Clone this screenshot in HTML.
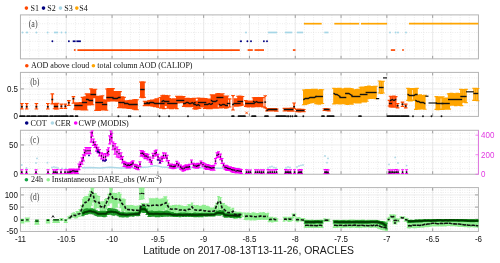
<!DOCTYPE html>
<html><head><meta charset="utf-8"><style>
html,body{margin:0;padding:0;background:#fff;width:500px;height:263px;overflow:hidden}
svg{display:block;will-change:transform}
</style></head><body>
<svg width="500" height="263" viewBox="0 0 500 263">
<rect width="500" height="263" fill="#fff"/>
<line x1="29.61" y1="14.9" x2="29.61" y2="58.85" stroke="#d6d6d6" stroke-width="0.6" stroke-dasharray="0.8 1.6"/>
<line x1="38.77" y1="14.9" x2="38.77" y2="58.85" stroke="#d6d6d6" stroke-width="0.6" stroke-dasharray="0.8 1.6"/>
<line x1="47.93" y1="14.9" x2="47.93" y2="58.85" stroke="#d6d6d6" stroke-width="0.6" stroke-dasharray="0.8 1.6"/>
<line x1="57.09" y1="14.9" x2="57.09" y2="58.85" stroke="#d6d6d6" stroke-width="0.6" stroke-dasharray="0.8 1.6"/>
<line x1="66.25" y1="14.9" x2="66.25" y2="58.85" stroke="#d6d6d6" stroke-width="0.6" stroke-dasharray="0.8 1.6"/>
<line x1="75.41" y1="14.9" x2="75.41" y2="58.85" stroke="#d6d6d6" stroke-width="0.6" stroke-dasharray="0.8 1.6"/>
<line x1="84.57" y1="14.9" x2="84.57" y2="58.85" stroke="#d6d6d6" stroke-width="0.6" stroke-dasharray="0.8 1.6"/>
<line x1="93.73" y1="14.9" x2="93.73" y2="58.85" stroke="#d6d6d6" stroke-width="0.6" stroke-dasharray="0.8 1.6"/>
<line x1="102.89" y1="14.9" x2="102.89" y2="58.85" stroke="#d6d6d6" stroke-width="0.6" stroke-dasharray="0.8 1.6"/>
<line x1="112.05" y1="14.9" x2="112.05" y2="58.85" stroke="#d6d6d6" stroke-width="0.6" stroke-dasharray="0.8 1.6"/>
<line x1="121.21" y1="14.9" x2="121.21" y2="58.85" stroke="#d6d6d6" stroke-width="0.6" stroke-dasharray="0.8 1.6"/>
<line x1="130.37" y1="14.9" x2="130.37" y2="58.85" stroke="#d6d6d6" stroke-width="0.6" stroke-dasharray="0.8 1.6"/>
<line x1="139.53" y1="14.9" x2="139.53" y2="58.85" stroke="#d6d6d6" stroke-width="0.6" stroke-dasharray="0.8 1.6"/>
<line x1="148.69" y1="14.9" x2="148.69" y2="58.85" stroke="#d6d6d6" stroke-width="0.6" stroke-dasharray="0.8 1.6"/>
<line x1="157.85" y1="14.9" x2="157.85" y2="58.85" stroke="#d6d6d6" stroke-width="0.6" stroke-dasharray="0.8 1.6"/>
<line x1="167.01" y1="14.9" x2="167.01" y2="58.85" stroke="#d6d6d6" stroke-width="0.6" stroke-dasharray="0.8 1.6"/>
<line x1="176.17" y1="14.9" x2="176.17" y2="58.85" stroke="#d6d6d6" stroke-width="0.6" stroke-dasharray="0.8 1.6"/>
<line x1="185.33" y1="14.9" x2="185.33" y2="58.85" stroke="#d6d6d6" stroke-width="0.6" stroke-dasharray="0.8 1.6"/>
<line x1="194.49" y1="14.9" x2="194.49" y2="58.85" stroke="#d6d6d6" stroke-width="0.6" stroke-dasharray="0.8 1.6"/>
<line x1="203.65" y1="14.9" x2="203.65" y2="58.85" stroke="#d6d6d6" stroke-width="0.6" stroke-dasharray="0.8 1.6"/>
<line x1="212.81" y1="14.9" x2="212.81" y2="58.85" stroke="#d6d6d6" stroke-width="0.6" stroke-dasharray="0.8 1.6"/>
<line x1="221.97" y1="14.9" x2="221.97" y2="58.85" stroke="#d6d6d6" stroke-width="0.6" stroke-dasharray="0.8 1.6"/>
<line x1="231.13" y1="14.9" x2="231.13" y2="58.85" stroke="#d6d6d6" stroke-width="0.6" stroke-dasharray="0.8 1.6"/>
<line x1="240.29" y1="14.9" x2="240.29" y2="58.85" stroke="#d6d6d6" stroke-width="0.6" stroke-dasharray="0.8 1.6"/>
<line x1="249.45" y1="14.9" x2="249.45" y2="58.85" stroke="#d6d6d6" stroke-width="0.6" stroke-dasharray="0.8 1.6"/>
<line x1="258.61" y1="14.9" x2="258.61" y2="58.85" stroke="#d6d6d6" stroke-width="0.6" stroke-dasharray="0.8 1.6"/>
<line x1="267.77" y1="14.9" x2="267.77" y2="58.85" stroke="#d6d6d6" stroke-width="0.6" stroke-dasharray="0.8 1.6"/>
<line x1="276.93" y1="14.9" x2="276.93" y2="58.85" stroke="#d6d6d6" stroke-width="0.6" stroke-dasharray="0.8 1.6"/>
<line x1="286.09" y1="14.9" x2="286.09" y2="58.85" stroke="#d6d6d6" stroke-width="0.6" stroke-dasharray="0.8 1.6"/>
<line x1="295.25" y1="14.9" x2="295.25" y2="58.85" stroke="#d6d6d6" stroke-width="0.6" stroke-dasharray="0.8 1.6"/>
<line x1="304.41" y1="14.9" x2="304.41" y2="58.85" stroke="#d6d6d6" stroke-width="0.6" stroke-dasharray="0.8 1.6"/>
<line x1="313.57" y1="14.9" x2="313.57" y2="58.85" stroke="#d6d6d6" stroke-width="0.6" stroke-dasharray="0.8 1.6"/>
<line x1="322.73" y1="14.9" x2="322.73" y2="58.85" stroke="#d6d6d6" stroke-width="0.6" stroke-dasharray="0.8 1.6"/>
<line x1="331.89" y1="14.9" x2="331.89" y2="58.85" stroke="#d6d6d6" stroke-width="0.6" stroke-dasharray="0.8 1.6"/>
<line x1="341.05" y1="14.9" x2="341.05" y2="58.85" stroke="#d6d6d6" stroke-width="0.6" stroke-dasharray="0.8 1.6"/>
<line x1="350.21" y1="14.9" x2="350.21" y2="58.85" stroke="#d6d6d6" stroke-width="0.6" stroke-dasharray="0.8 1.6"/>
<line x1="359.37" y1="14.9" x2="359.37" y2="58.85" stroke="#d6d6d6" stroke-width="0.6" stroke-dasharray="0.8 1.6"/>
<line x1="368.53" y1="14.9" x2="368.53" y2="58.85" stroke="#d6d6d6" stroke-width="0.6" stroke-dasharray="0.8 1.6"/>
<line x1="377.69" y1="14.9" x2="377.69" y2="58.85" stroke="#d6d6d6" stroke-width="0.6" stroke-dasharray="0.8 1.6"/>
<line x1="386.85" y1="14.9" x2="386.85" y2="58.85" stroke="#d6d6d6" stroke-width="0.6" stroke-dasharray="0.8 1.6"/>
<line x1="396.01" y1="14.9" x2="396.01" y2="58.85" stroke="#d6d6d6" stroke-width="0.6" stroke-dasharray="0.8 1.6"/>
<line x1="405.17" y1="14.9" x2="405.17" y2="58.85" stroke="#d6d6d6" stroke-width="0.6" stroke-dasharray="0.8 1.6"/>
<line x1="414.33" y1="14.9" x2="414.33" y2="58.85" stroke="#d6d6d6" stroke-width="0.6" stroke-dasharray="0.8 1.6"/>
<line x1="423.49" y1="14.9" x2="423.49" y2="58.85" stroke="#d6d6d6" stroke-width="0.6" stroke-dasharray="0.8 1.6"/>
<line x1="432.65" y1="14.9" x2="432.65" y2="58.85" stroke="#d6d6d6" stroke-width="0.6" stroke-dasharray="0.8 1.6"/>
<line x1="441.81" y1="14.9" x2="441.81" y2="58.85" stroke="#d6d6d6" stroke-width="0.6" stroke-dasharray="0.8 1.6"/>
<line x1="450.97" y1="14.9" x2="450.97" y2="58.85" stroke="#d6d6d6" stroke-width="0.6" stroke-dasharray="0.8 1.6"/>
<line x1="460.13" y1="14.9" x2="460.13" y2="58.85" stroke="#d6d6d6" stroke-width="0.6" stroke-dasharray="0.8 1.6"/>
<line x1="469.29" y1="14.9" x2="469.29" y2="58.85" stroke="#d6d6d6" stroke-width="0.6" stroke-dasharray="0.8 1.6"/>
<line x1="20.45" y1="50.06" x2="478.45" y2="50.06" stroke="#d6d6d6" stroke-width="0.6" stroke-dasharray="0.8 1.6"/>
<line x1="20.45" y1="41.27" x2="478.45" y2="41.27" stroke="#d6d6d6" stroke-width="0.6" stroke-dasharray="0.8 1.6"/>
<line x1="20.45" y1="32.48" x2="478.45" y2="32.48" stroke="#d6d6d6" stroke-width="0.6" stroke-dasharray="0.8 1.6"/>
<line x1="20.45" y1="23.69" x2="478.45" y2="23.69" stroke="#d6d6d6" stroke-width="0.6" stroke-dasharray="0.8 1.6"/>
<line x1="66.25" y1="14.9" x2="66.25" y2="58.85" stroke="#e8e8e8" stroke-width="0.8"/>
<line x1="112.05" y1="14.9" x2="112.05" y2="58.85" stroke="#e8e8e8" stroke-width="0.8"/>
<line x1="157.85" y1="14.9" x2="157.85" y2="58.85" stroke="#e8e8e8" stroke-width="0.8"/>
<line x1="203.65" y1="14.9" x2="203.65" y2="58.85" stroke="#e8e8e8" stroke-width="0.8"/>
<line x1="249.45" y1="14.9" x2="249.45" y2="58.85" stroke="#e8e8e8" stroke-width="0.8"/>
<line x1="295.25" y1="14.9" x2="295.25" y2="58.85" stroke="#e8e8e8" stroke-width="0.8"/>
<line x1="341.05" y1="14.9" x2="341.05" y2="58.85" stroke="#e8e8e8" stroke-width="0.8"/>
<line x1="386.85" y1="14.9" x2="386.85" y2="58.85" stroke="#e8e8e8" stroke-width="0.8"/>
<line x1="432.65" y1="14.9" x2="432.65" y2="58.85" stroke="#e8e8e8" stroke-width="0.8"/>
<line x1="66.25" y1="14.9" x2="66.25" y2="17.9" stroke="#8a8a8a" stroke-width="0.8"/>
<line x1="66.25" y1="55.85" x2="66.25" y2="58.85" stroke="#8a8a8a" stroke-width="0.8"/>
<line x1="112.05" y1="14.9" x2="112.05" y2="17.9" stroke="#8a8a8a" stroke-width="0.8"/>
<line x1="112.05" y1="55.85" x2="112.05" y2="58.85" stroke="#8a8a8a" stroke-width="0.8"/>
<line x1="157.85" y1="14.9" x2="157.85" y2="17.9" stroke="#8a8a8a" stroke-width="0.8"/>
<line x1="157.85" y1="55.85" x2="157.85" y2="58.85" stroke="#8a8a8a" stroke-width="0.8"/>
<line x1="203.65" y1="14.9" x2="203.65" y2="17.9" stroke="#8a8a8a" stroke-width="0.8"/>
<line x1="203.65" y1="55.85" x2="203.65" y2="58.85" stroke="#8a8a8a" stroke-width="0.8"/>
<line x1="249.45" y1="14.9" x2="249.45" y2="17.9" stroke="#8a8a8a" stroke-width="0.8"/>
<line x1="249.45" y1="55.85" x2="249.45" y2="58.85" stroke="#8a8a8a" stroke-width="0.8"/>
<line x1="295.25" y1="14.9" x2="295.25" y2="17.9" stroke="#8a8a8a" stroke-width="0.8"/>
<line x1="295.25" y1="55.85" x2="295.25" y2="58.85" stroke="#8a8a8a" stroke-width="0.8"/>
<line x1="341.05" y1="14.9" x2="341.05" y2="17.9" stroke="#8a8a8a" stroke-width="0.8"/>
<line x1="341.05" y1="55.85" x2="341.05" y2="58.85" stroke="#8a8a8a" stroke-width="0.8"/>
<line x1="386.85" y1="14.9" x2="386.85" y2="17.9" stroke="#8a8a8a" stroke-width="0.8"/>
<line x1="386.85" y1="55.85" x2="386.85" y2="58.85" stroke="#8a8a8a" stroke-width="0.8"/>
<line x1="432.65" y1="14.9" x2="432.65" y2="17.9" stroke="#8a8a8a" stroke-width="0.8"/>
<line x1="432.65" y1="55.85" x2="432.65" y2="58.85" stroke="#8a8a8a" stroke-width="0.8"/>
<rect x="20.45" y="14.9" width="458" height="43.95" fill="none" stroke="#b4b4b4" stroke-width="1"/>
<line x1="29.61" y1="72.4" x2="29.61" y2="116.4" stroke="#d6d6d6" stroke-width="0.6" stroke-dasharray="0.8 1.6"/>
<line x1="38.77" y1="72.4" x2="38.77" y2="116.4" stroke="#d6d6d6" stroke-width="0.6" stroke-dasharray="0.8 1.6"/>
<line x1="47.93" y1="72.4" x2="47.93" y2="116.4" stroke="#d6d6d6" stroke-width="0.6" stroke-dasharray="0.8 1.6"/>
<line x1="57.09" y1="72.4" x2="57.09" y2="116.4" stroke="#d6d6d6" stroke-width="0.6" stroke-dasharray="0.8 1.6"/>
<line x1="66.25" y1="72.4" x2="66.25" y2="116.4" stroke="#d6d6d6" stroke-width="0.6" stroke-dasharray="0.8 1.6"/>
<line x1="75.41" y1="72.4" x2="75.41" y2="116.4" stroke="#d6d6d6" stroke-width="0.6" stroke-dasharray="0.8 1.6"/>
<line x1="84.57" y1="72.4" x2="84.57" y2="116.4" stroke="#d6d6d6" stroke-width="0.6" stroke-dasharray="0.8 1.6"/>
<line x1="93.73" y1="72.4" x2="93.73" y2="116.4" stroke="#d6d6d6" stroke-width="0.6" stroke-dasharray="0.8 1.6"/>
<line x1="102.89" y1="72.4" x2="102.89" y2="116.4" stroke="#d6d6d6" stroke-width="0.6" stroke-dasharray="0.8 1.6"/>
<line x1="112.05" y1="72.4" x2="112.05" y2="116.4" stroke="#d6d6d6" stroke-width="0.6" stroke-dasharray="0.8 1.6"/>
<line x1="121.21" y1="72.4" x2="121.21" y2="116.4" stroke="#d6d6d6" stroke-width="0.6" stroke-dasharray="0.8 1.6"/>
<line x1="130.37" y1="72.4" x2="130.37" y2="116.4" stroke="#d6d6d6" stroke-width="0.6" stroke-dasharray="0.8 1.6"/>
<line x1="139.53" y1="72.4" x2="139.53" y2="116.4" stroke="#d6d6d6" stroke-width="0.6" stroke-dasharray="0.8 1.6"/>
<line x1="148.69" y1="72.4" x2="148.69" y2="116.4" stroke="#d6d6d6" stroke-width="0.6" stroke-dasharray="0.8 1.6"/>
<line x1="157.85" y1="72.4" x2="157.85" y2="116.4" stroke="#d6d6d6" stroke-width="0.6" stroke-dasharray="0.8 1.6"/>
<line x1="167.01" y1="72.4" x2="167.01" y2="116.4" stroke="#d6d6d6" stroke-width="0.6" stroke-dasharray="0.8 1.6"/>
<line x1="176.17" y1="72.4" x2="176.17" y2="116.4" stroke="#d6d6d6" stroke-width="0.6" stroke-dasharray="0.8 1.6"/>
<line x1="185.33" y1="72.4" x2="185.33" y2="116.4" stroke="#d6d6d6" stroke-width="0.6" stroke-dasharray="0.8 1.6"/>
<line x1="194.49" y1="72.4" x2="194.49" y2="116.4" stroke="#d6d6d6" stroke-width="0.6" stroke-dasharray="0.8 1.6"/>
<line x1="203.65" y1="72.4" x2="203.65" y2="116.4" stroke="#d6d6d6" stroke-width="0.6" stroke-dasharray="0.8 1.6"/>
<line x1="212.81" y1="72.4" x2="212.81" y2="116.4" stroke="#d6d6d6" stroke-width="0.6" stroke-dasharray="0.8 1.6"/>
<line x1="221.97" y1="72.4" x2="221.97" y2="116.4" stroke="#d6d6d6" stroke-width="0.6" stroke-dasharray="0.8 1.6"/>
<line x1="231.13" y1="72.4" x2="231.13" y2="116.4" stroke="#d6d6d6" stroke-width="0.6" stroke-dasharray="0.8 1.6"/>
<line x1="240.29" y1="72.4" x2="240.29" y2="116.4" stroke="#d6d6d6" stroke-width="0.6" stroke-dasharray="0.8 1.6"/>
<line x1="249.45" y1="72.4" x2="249.45" y2="116.4" stroke="#d6d6d6" stroke-width="0.6" stroke-dasharray="0.8 1.6"/>
<line x1="258.61" y1="72.4" x2="258.61" y2="116.4" stroke="#d6d6d6" stroke-width="0.6" stroke-dasharray="0.8 1.6"/>
<line x1="267.77" y1="72.4" x2="267.77" y2="116.4" stroke="#d6d6d6" stroke-width="0.6" stroke-dasharray="0.8 1.6"/>
<line x1="276.93" y1="72.4" x2="276.93" y2="116.4" stroke="#d6d6d6" stroke-width="0.6" stroke-dasharray="0.8 1.6"/>
<line x1="286.09" y1="72.4" x2="286.09" y2="116.4" stroke="#d6d6d6" stroke-width="0.6" stroke-dasharray="0.8 1.6"/>
<line x1="295.25" y1="72.4" x2="295.25" y2="116.4" stroke="#d6d6d6" stroke-width="0.6" stroke-dasharray="0.8 1.6"/>
<line x1="304.41" y1="72.4" x2="304.41" y2="116.4" stroke="#d6d6d6" stroke-width="0.6" stroke-dasharray="0.8 1.6"/>
<line x1="313.57" y1="72.4" x2="313.57" y2="116.4" stroke="#d6d6d6" stroke-width="0.6" stroke-dasharray="0.8 1.6"/>
<line x1="322.73" y1="72.4" x2="322.73" y2="116.4" stroke="#d6d6d6" stroke-width="0.6" stroke-dasharray="0.8 1.6"/>
<line x1="331.89" y1="72.4" x2="331.89" y2="116.4" stroke="#d6d6d6" stroke-width="0.6" stroke-dasharray="0.8 1.6"/>
<line x1="341.05" y1="72.4" x2="341.05" y2="116.4" stroke="#d6d6d6" stroke-width="0.6" stroke-dasharray="0.8 1.6"/>
<line x1="350.21" y1="72.4" x2="350.21" y2="116.4" stroke="#d6d6d6" stroke-width="0.6" stroke-dasharray="0.8 1.6"/>
<line x1="359.37" y1="72.4" x2="359.37" y2="116.4" stroke="#d6d6d6" stroke-width="0.6" stroke-dasharray="0.8 1.6"/>
<line x1="368.53" y1="72.4" x2="368.53" y2="116.4" stroke="#d6d6d6" stroke-width="0.6" stroke-dasharray="0.8 1.6"/>
<line x1="377.69" y1="72.4" x2="377.69" y2="116.4" stroke="#d6d6d6" stroke-width="0.6" stroke-dasharray="0.8 1.6"/>
<line x1="386.85" y1="72.4" x2="386.85" y2="116.4" stroke="#d6d6d6" stroke-width="0.6" stroke-dasharray="0.8 1.6"/>
<line x1="396.01" y1="72.4" x2="396.01" y2="116.4" stroke="#d6d6d6" stroke-width="0.6" stroke-dasharray="0.8 1.6"/>
<line x1="405.17" y1="72.4" x2="405.17" y2="116.4" stroke="#d6d6d6" stroke-width="0.6" stroke-dasharray="0.8 1.6"/>
<line x1="414.33" y1="72.4" x2="414.33" y2="116.4" stroke="#d6d6d6" stroke-width="0.6" stroke-dasharray="0.8 1.6"/>
<line x1="423.49" y1="72.4" x2="423.49" y2="116.4" stroke="#d6d6d6" stroke-width="0.6" stroke-dasharray="0.8 1.6"/>
<line x1="432.65" y1="72.4" x2="432.65" y2="116.4" stroke="#d6d6d6" stroke-width="0.6" stroke-dasharray="0.8 1.6"/>
<line x1="441.81" y1="72.4" x2="441.81" y2="116.4" stroke="#d6d6d6" stroke-width="0.6" stroke-dasharray="0.8 1.6"/>
<line x1="450.97" y1="72.4" x2="450.97" y2="116.4" stroke="#d6d6d6" stroke-width="0.6" stroke-dasharray="0.8 1.6"/>
<line x1="460.13" y1="72.4" x2="460.13" y2="116.4" stroke="#d6d6d6" stroke-width="0.6" stroke-dasharray="0.8 1.6"/>
<line x1="469.29" y1="72.4" x2="469.29" y2="116.4" stroke="#d6d6d6" stroke-width="0.6" stroke-dasharray="0.8 1.6"/>
<line x1="20.45" y1="110.9" x2="478.45" y2="110.9" stroke="#d6d6d6" stroke-width="0.6" stroke-dasharray="0.8 1.6"/>
<line x1="20.45" y1="105.4" x2="478.45" y2="105.4" stroke="#d6d6d6" stroke-width="0.6" stroke-dasharray="0.8 1.6"/>
<line x1="20.45" y1="99.9" x2="478.45" y2="99.9" stroke="#d6d6d6" stroke-width="0.6" stroke-dasharray="0.8 1.6"/>
<line x1="20.45" y1="94.4" x2="478.45" y2="94.4" stroke="#d6d6d6" stroke-width="0.6" stroke-dasharray="0.8 1.6"/>
<line x1="20.45" y1="83.4" x2="478.45" y2="83.4" stroke="#d6d6d6" stroke-width="0.6" stroke-dasharray="0.8 1.6"/>
<line x1="20.45" y1="77.9" x2="478.45" y2="77.9" stroke="#d6d6d6" stroke-width="0.6" stroke-dasharray="0.8 1.6"/>
<line x1="66.25" y1="72.4" x2="66.25" y2="116.4" stroke="#e8e8e8" stroke-width="0.8"/>
<line x1="112.05" y1="72.4" x2="112.05" y2="116.4" stroke="#e8e8e8" stroke-width="0.8"/>
<line x1="157.85" y1="72.4" x2="157.85" y2="116.4" stroke="#e8e8e8" stroke-width="0.8"/>
<line x1="203.65" y1="72.4" x2="203.65" y2="116.4" stroke="#e8e8e8" stroke-width="0.8"/>
<line x1="249.45" y1="72.4" x2="249.45" y2="116.4" stroke="#e8e8e8" stroke-width="0.8"/>
<line x1="295.25" y1="72.4" x2="295.25" y2="116.4" stroke="#e8e8e8" stroke-width="0.8"/>
<line x1="341.05" y1="72.4" x2="341.05" y2="116.4" stroke="#e8e8e8" stroke-width="0.8"/>
<line x1="386.85" y1="72.4" x2="386.85" y2="116.4" stroke="#e8e8e8" stroke-width="0.8"/>
<line x1="432.65" y1="72.4" x2="432.65" y2="116.4" stroke="#e8e8e8" stroke-width="0.8"/>
<line x1="20.45" y1="88.9" x2="478.45" y2="88.9" stroke="#e8e8e8" stroke-width="0.8"/>
<line x1="66.25" y1="72.4" x2="66.25" y2="75.4" stroke="#8a8a8a" stroke-width="0.8"/>
<line x1="66.25" y1="113.4" x2="66.25" y2="116.4" stroke="#8a8a8a" stroke-width="0.8"/>
<line x1="112.05" y1="72.4" x2="112.05" y2="75.4" stroke="#8a8a8a" stroke-width="0.8"/>
<line x1="112.05" y1="113.4" x2="112.05" y2="116.4" stroke="#8a8a8a" stroke-width="0.8"/>
<line x1="157.85" y1="72.4" x2="157.85" y2="75.4" stroke="#8a8a8a" stroke-width="0.8"/>
<line x1="157.85" y1="113.4" x2="157.85" y2="116.4" stroke="#8a8a8a" stroke-width="0.8"/>
<line x1="203.65" y1="72.4" x2="203.65" y2="75.4" stroke="#8a8a8a" stroke-width="0.8"/>
<line x1="203.65" y1="113.4" x2="203.65" y2="116.4" stroke="#8a8a8a" stroke-width="0.8"/>
<line x1="249.45" y1="72.4" x2="249.45" y2="75.4" stroke="#8a8a8a" stroke-width="0.8"/>
<line x1="249.45" y1="113.4" x2="249.45" y2="116.4" stroke="#8a8a8a" stroke-width="0.8"/>
<line x1="295.25" y1="72.4" x2="295.25" y2="75.4" stroke="#8a8a8a" stroke-width="0.8"/>
<line x1="295.25" y1="113.4" x2="295.25" y2="116.4" stroke="#8a8a8a" stroke-width="0.8"/>
<line x1="341.05" y1="72.4" x2="341.05" y2="75.4" stroke="#8a8a8a" stroke-width="0.8"/>
<line x1="341.05" y1="113.4" x2="341.05" y2="116.4" stroke="#8a8a8a" stroke-width="0.8"/>
<line x1="386.85" y1="72.4" x2="386.85" y2="75.4" stroke="#8a8a8a" stroke-width="0.8"/>
<line x1="386.85" y1="113.4" x2="386.85" y2="116.4" stroke="#8a8a8a" stroke-width="0.8"/>
<line x1="432.65" y1="72.4" x2="432.65" y2="75.4" stroke="#8a8a8a" stroke-width="0.8"/>
<line x1="432.65" y1="113.4" x2="432.65" y2="116.4" stroke="#8a8a8a" stroke-width="0.8"/>
<line x1="20.45" y1="88.9" x2="23.95" y2="88.9" stroke="#8a8a8a" stroke-width="0.8"/>
<line x1="474.95" y1="88.9" x2="478.45" y2="88.9" stroke="#8a8a8a" stroke-width="0.8"/>
<rect x="20.45" y="72.4" width="458" height="44" fill="none" stroke="#b4b4b4" stroke-width="1"/>
<line x1="29.61" y1="130.3" x2="29.61" y2="174.25" stroke="#d6d6d6" stroke-width="0.6" stroke-dasharray="0.8 1.6"/>
<line x1="38.77" y1="130.3" x2="38.77" y2="174.25" stroke="#d6d6d6" stroke-width="0.6" stroke-dasharray="0.8 1.6"/>
<line x1="47.93" y1="130.3" x2="47.93" y2="174.25" stroke="#d6d6d6" stroke-width="0.6" stroke-dasharray="0.8 1.6"/>
<line x1="57.09" y1="130.3" x2="57.09" y2="174.25" stroke="#d6d6d6" stroke-width="0.6" stroke-dasharray="0.8 1.6"/>
<line x1="66.25" y1="130.3" x2="66.25" y2="174.25" stroke="#d6d6d6" stroke-width="0.6" stroke-dasharray="0.8 1.6"/>
<line x1="75.41" y1="130.3" x2="75.41" y2="174.25" stroke="#d6d6d6" stroke-width="0.6" stroke-dasharray="0.8 1.6"/>
<line x1="84.57" y1="130.3" x2="84.57" y2="174.25" stroke="#d6d6d6" stroke-width="0.6" stroke-dasharray="0.8 1.6"/>
<line x1="93.73" y1="130.3" x2="93.73" y2="174.25" stroke="#d6d6d6" stroke-width="0.6" stroke-dasharray="0.8 1.6"/>
<line x1="102.89" y1="130.3" x2="102.89" y2="174.25" stroke="#d6d6d6" stroke-width="0.6" stroke-dasharray="0.8 1.6"/>
<line x1="112.05" y1="130.3" x2="112.05" y2="174.25" stroke="#d6d6d6" stroke-width="0.6" stroke-dasharray="0.8 1.6"/>
<line x1="121.21" y1="130.3" x2="121.21" y2="174.25" stroke="#d6d6d6" stroke-width="0.6" stroke-dasharray="0.8 1.6"/>
<line x1="130.37" y1="130.3" x2="130.37" y2="174.25" stroke="#d6d6d6" stroke-width="0.6" stroke-dasharray="0.8 1.6"/>
<line x1="139.53" y1="130.3" x2="139.53" y2="174.25" stroke="#d6d6d6" stroke-width="0.6" stroke-dasharray="0.8 1.6"/>
<line x1="148.69" y1="130.3" x2="148.69" y2="174.25" stroke="#d6d6d6" stroke-width="0.6" stroke-dasharray="0.8 1.6"/>
<line x1="157.85" y1="130.3" x2="157.85" y2="174.25" stroke="#d6d6d6" stroke-width="0.6" stroke-dasharray="0.8 1.6"/>
<line x1="167.01" y1="130.3" x2="167.01" y2="174.25" stroke="#d6d6d6" stroke-width="0.6" stroke-dasharray="0.8 1.6"/>
<line x1="176.17" y1="130.3" x2="176.17" y2="174.25" stroke="#d6d6d6" stroke-width="0.6" stroke-dasharray="0.8 1.6"/>
<line x1="185.33" y1="130.3" x2="185.33" y2="174.25" stroke="#d6d6d6" stroke-width="0.6" stroke-dasharray="0.8 1.6"/>
<line x1="194.49" y1="130.3" x2="194.49" y2="174.25" stroke="#d6d6d6" stroke-width="0.6" stroke-dasharray="0.8 1.6"/>
<line x1="203.65" y1="130.3" x2="203.65" y2="174.25" stroke="#d6d6d6" stroke-width="0.6" stroke-dasharray="0.8 1.6"/>
<line x1="212.81" y1="130.3" x2="212.81" y2="174.25" stroke="#d6d6d6" stroke-width="0.6" stroke-dasharray="0.8 1.6"/>
<line x1="221.97" y1="130.3" x2="221.97" y2="174.25" stroke="#d6d6d6" stroke-width="0.6" stroke-dasharray="0.8 1.6"/>
<line x1="231.13" y1="130.3" x2="231.13" y2="174.25" stroke="#d6d6d6" stroke-width="0.6" stroke-dasharray="0.8 1.6"/>
<line x1="240.29" y1="130.3" x2="240.29" y2="174.25" stroke="#d6d6d6" stroke-width="0.6" stroke-dasharray="0.8 1.6"/>
<line x1="249.45" y1="130.3" x2="249.45" y2="174.25" stroke="#d6d6d6" stroke-width="0.6" stroke-dasharray="0.8 1.6"/>
<line x1="258.61" y1="130.3" x2="258.61" y2="174.25" stroke="#d6d6d6" stroke-width="0.6" stroke-dasharray="0.8 1.6"/>
<line x1="267.77" y1="130.3" x2="267.77" y2="174.25" stroke="#d6d6d6" stroke-width="0.6" stroke-dasharray="0.8 1.6"/>
<line x1="276.93" y1="130.3" x2="276.93" y2="174.25" stroke="#d6d6d6" stroke-width="0.6" stroke-dasharray="0.8 1.6"/>
<line x1="286.09" y1="130.3" x2="286.09" y2="174.25" stroke="#d6d6d6" stroke-width="0.6" stroke-dasharray="0.8 1.6"/>
<line x1="295.25" y1="130.3" x2="295.25" y2="174.25" stroke="#d6d6d6" stroke-width="0.6" stroke-dasharray="0.8 1.6"/>
<line x1="304.41" y1="130.3" x2="304.41" y2="174.25" stroke="#d6d6d6" stroke-width="0.6" stroke-dasharray="0.8 1.6"/>
<line x1="313.57" y1="130.3" x2="313.57" y2="174.25" stroke="#d6d6d6" stroke-width="0.6" stroke-dasharray="0.8 1.6"/>
<line x1="322.73" y1="130.3" x2="322.73" y2="174.25" stroke="#d6d6d6" stroke-width="0.6" stroke-dasharray="0.8 1.6"/>
<line x1="331.89" y1="130.3" x2="331.89" y2="174.25" stroke="#d6d6d6" stroke-width="0.6" stroke-dasharray="0.8 1.6"/>
<line x1="341.05" y1="130.3" x2="341.05" y2="174.25" stroke="#d6d6d6" stroke-width="0.6" stroke-dasharray="0.8 1.6"/>
<line x1="350.21" y1="130.3" x2="350.21" y2="174.25" stroke="#d6d6d6" stroke-width="0.6" stroke-dasharray="0.8 1.6"/>
<line x1="359.37" y1="130.3" x2="359.37" y2="174.25" stroke="#d6d6d6" stroke-width="0.6" stroke-dasharray="0.8 1.6"/>
<line x1="368.53" y1="130.3" x2="368.53" y2="174.25" stroke="#d6d6d6" stroke-width="0.6" stroke-dasharray="0.8 1.6"/>
<line x1="377.69" y1="130.3" x2="377.69" y2="174.25" stroke="#d6d6d6" stroke-width="0.6" stroke-dasharray="0.8 1.6"/>
<line x1="386.85" y1="130.3" x2="386.85" y2="174.25" stroke="#d6d6d6" stroke-width="0.6" stroke-dasharray="0.8 1.6"/>
<line x1="396.01" y1="130.3" x2="396.01" y2="174.25" stroke="#d6d6d6" stroke-width="0.6" stroke-dasharray="0.8 1.6"/>
<line x1="405.17" y1="130.3" x2="405.17" y2="174.25" stroke="#d6d6d6" stroke-width="0.6" stroke-dasharray="0.8 1.6"/>
<line x1="414.33" y1="130.3" x2="414.33" y2="174.25" stroke="#d6d6d6" stroke-width="0.6" stroke-dasharray="0.8 1.6"/>
<line x1="423.49" y1="130.3" x2="423.49" y2="174.25" stroke="#d6d6d6" stroke-width="0.6" stroke-dasharray="0.8 1.6"/>
<line x1="432.65" y1="130.3" x2="432.65" y2="174.25" stroke="#d6d6d6" stroke-width="0.6" stroke-dasharray="0.8 1.6"/>
<line x1="441.81" y1="130.3" x2="441.81" y2="174.25" stroke="#d6d6d6" stroke-width="0.6" stroke-dasharray="0.8 1.6"/>
<line x1="450.97" y1="130.3" x2="450.97" y2="174.25" stroke="#d6d6d6" stroke-width="0.6" stroke-dasharray="0.8 1.6"/>
<line x1="460.13" y1="130.3" x2="460.13" y2="174.25" stroke="#d6d6d6" stroke-width="0.6" stroke-dasharray="0.8 1.6"/>
<line x1="469.29" y1="130.3" x2="469.29" y2="174.25" stroke="#d6d6d6" stroke-width="0.6" stroke-dasharray="0.8 1.6"/>
<line x1="20.45" y1="168.39" x2="478.45" y2="168.39" stroke="#d6d6d6" stroke-width="0.6" stroke-dasharray="0.8 1.6"/>
<line x1="20.45" y1="162.53" x2="478.45" y2="162.53" stroke="#d6d6d6" stroke-width="0.6" stroke-dasharray="0.8 1.6"/>
<line x1="20.45" y1="156.67" x2="478.45" y2="156.67" stroke="#d6d6d6" stroke-width="0.6" stroke-dasharray="0.8 1.6"/>
<line x1="20.45" y1="150.81" x2="478.45" y2="150.81" stroke="#d6d6d6" stroke-width="0.6" stroke-dasharray="0.8 1.6"/>
<line x1="20.45" y1="139.09" x2="478.45" y2="139.09" stroke="#d6d6d6" stroke-width="0.6" stroke-dasharray="0.8 1.6"/>
<line x1="20.45" y1="133.23" x2="478.45" y2="133.23" stroke="#d6d6d6" stroke-width="0.6" stroke-dasharray="0.8 1.6"/>
<line x1="66.25" y1="130.3" x2="66.25" y2="174.25" stroke="#e8e8e8" stroke-width="0.8"/>
<line x1="112.05" y1="130.3" x2="112.05" y2="174.25" stroke="#e8e8e8" stroke-width="0.8"/>
<line x1="157.85" y1="130.3" x2="157.85" y2="174.25" stroke="#e8e8e8" stroke-width="0.8"/>
<line x1="203.65" y1="130.3" x2="203.65" y2="174.25" stroke="#e8e8e8" stroke-width="0.8"/>
<line x1="249.45" y1="130.3" x2="249.45" y2="174.25" stroke="#e8e8e8" stroke-width="0.8"/>
<line x1="295.25" y1="130.3" x2="295.25" y2="174.25" stroke="#e8e8e8" stroke-width="0.8"/>
<line x1="341.05" y1="130.3" x2="341.05" y2="174.25" stroke="#e8e8e8" stroke-width="0.8"/>
<line x1="386.85" y1="130.3" x2="386.85" y2="174.25" stroke="#e8e8e8" stroke-width="0.8"/>
<line x1="432.65" y1="130.3" x2="432.65" y2="174.25" stroke="#e8e8e8" stroke-width="0.8"/>
<line x1="20.45" y1="144.95" x2="478.45" y2="144.95" stroke="#e8e8e8" stroke-width="0.8"/>
<line x1="66.25" y1="130.3" x2="66.25" y2="133.3" stroke="#8a8a8a" stroke-width="0.8"/>
<line x1="66.25" y1="171.25" x2="66.25" y2="174.25" stroke="#8a8a8a" stroke-width="0.8"/>
<line x1="112.05" y1="130.3" x2="112.05" y2="133.3" stroke="#8a8a8a" stroke-width="0.8"/>
<line x1="112.05" y1="171.25" x2="112.05" y2="174.25" stroke="#8a8a8a" stroke-width="0.8"/>
<line x1="157.85" y1="130.3" x2="157.85" y2="133.3" stroke="#8a8a8a" stroke-width="0.8"/>
<line x1="157.85" y1="171.25" x2="157.85" y2="174.25" stroke="#8a8a8a" stroke-width="0.8"/>
<line x1="203.65" y1="130.3" x2="203.65" y2="133.3" stroke="#8a8a8a" stroke-width="0.8"/>
<line x1="203.65" y1="171.25" x2="203.65" y2="174.25" stroke="#8a8a8a" stroke-width="0.8"/>
<line x1="249.45" y1="130.3" x2="249.45" y2="133.3" stroke="#8a8a8a" stroke-width="0.8"/>
<line x1="249.45" y1="171.25" x2="249.45" y2="174.25" stroke="#8a8a8a" stroke-width="0.8"/>
<line x1="295.25" y1="130.3" x2="295.25" y2="133.3" stroke="#8a8a8a" stroke-width="0.8"/>
<line x1="295.25" y1="171.25" x2="295.25" y2="174.25" stroke="#8a8a8a" stroke-width="0.8"/>
<line x1="341.05" y1="130.3" x2="341.05" y2="133.3" stroke="#8a8a8a" stroke-width="0.8"/>
<line x1="341.05" y1="171.25" x2="341.05" y2="174.25" stroke="#8a8a8a" stroke-width="0.8"/>
<line x1="386.85" y1="130.3" x2="386.85" y2="133.3" stroke="#8a8a8a" stroke-width="0.8"/>
<line x1="386.85" y1="171.25" x2="386.85" y2="174.25" stroke="#8a8a8a" stroke-width="0.8"/>
<line x1="432.65" y1="130.3" x2="432.65" y2="133.3" stroke="#8a8a8a" stroke-width="0.8"/>
<line x1="432.65" y1="171.25" x2="432.65" y2="174.25" stroke="#8a8a8a" stroke-width="0.8"/>
<line x1="20.45" y1="144.95" x2="23.95" y2="144.95" stroke="#8a8a8a" stroke-width="0.8"/>
<rect x="20.45" y="130.3" width="458" height="43.95" fill="none" stroke="#b4b4b4" stroke-width="1"/>
<line x1="29.61" y1="187.6" x2="29.61" y2="231.45" stroke="#d6d6d6" stroke-width="0.6" stroke-dasharray="0.8 1.6"/>
<line x1="38.77" y1="187.6" x2="38.77" y2="231.45" stroke="#d6d6d6" stroke-width="0.6" stroke-dasharray="0.8 1.6"/>
<line x1="47.93" y1="187.6" x2="47.93" y2="231.45" stroke="#d6d6d6" stroke-width="0.6" stroke-dasharray="0.8 1.6"/>
<line x1="57.09" y1="187.6" x2="57.09" y2="231.45" stroke="#d6d6d6" stroke-width="0.6" stroke-dasharray="0.8 1.6"/>
<line x1="66.25" y1="187.6" x2="66.25" y2="231.45" stroke="#d6d6d6" stroke-width="0.6" stroke-dasharray="0.8 1.6"/>
<line x1="75.41" y1="187.6" x2="75.41" y2="231.45" stroke="#d6d6d6" stroke-width="0.6" stroke-dasharray="0.8 1.6"/>
<line x1="84.57" y1="187.6" x2="84.57" y2="231.45" stroke="#d6d6d6" stroke-width="0.6" stroke-dasharray="0.8 1.6"/>
<line x1="93.73" y1="187.6" x2="93.73" y2="231.45" stroke="#d6d6d6" stroke-width="0.6" stroke-dasharray="0.8 1.6"/>
<line x1="102.89" y1="187.6" x2="102.89" y2="231.45" stroke="#d6d6d6" stroke-width="0.6" stroke-dasharray="0.8 1.6"/>
<line x1="112.05" y1="187.6" x2="112.05" y2="231.45" stroke="#d6d6d6" stroke-width="0.6" stroke-dasharray="0.8 1.6"/>
<line x1="121.21" y1="187.6" x2="121.21" y2="231.45" stroke="#d6d6d6" stroke-width="0.6" stroke-dasharray="0.8 1.6"/>
<line x1="130.37" y1="187.6" x2="130.37" y2="231.45" stroke="#d6d6d6" stroke-width="0.6" stroke-dasharray="0.8 1.6"/>
<line x1="139.53" y1="187.6" x2="139.53" y2="231.45" stroke="#d6d6d6" stroke-width="0.6" stroke-dasharray="0.8 1.6"/>
<line x1="148.69" y1="187.6" x2="148.69" y2="231.45" stroke="#d6d6d6" stroke-width="0.6" stroke-dasharray="0.8 1.6"/>
<line x1="157.85" y1="187.6" x2="157.85" y2="231.45" stroke="#d6d6d6" stroke-width="0.6" stroke-dasharray="0.8 1.6"/>
<line x1="167.01" y1="187.6" x2="167.01" y2="231.45" stroke="#d6d6d6" stroke-width="0.6" stroke-dasharray="0.8 1.6"/>
<line x1="176.17" y1="187.6" x2="176.17" y2="231.45" stroke="#d6d6d6" stroke-width="0.6" stroke-dasharray="0.8 1.6"/>
<line x1="185.33" y1="187.6" x2="185.33" y2="231.45" stroke="#d6d6d6" stroke-width="0.6" stroke-dasharray="0.8 1.6"/>
<line x1="194.49" y1="187.6" x2="194.49" y2="231.45" stroke="#d6d6d6" stroke-width="0.6" stroke-dasharray="0.8 1.6"/>
<line x1="203.65" y1="187.6" x2="203.65" y2="231.45" stroke="#d6d6d6" stroke-width="0.6" stroke-dasharray="0.8 1.6"/>
<line x1="212.81" y1="187.6" x2="212.81" y2="231.45" stroke="#d6d6d6" stroke-width="0.6" stroke-dasharray="0.8 1.6"/>
<line x1="221.97" y1="187.6" x2="221.97" y2="231.45" stroke="#d6d6d6" stroke-width="0.6" stroke-dasharray="0.8 1.6"/>
<line x1="231.13" y1="187.6" x2="231.13" y2="231.45" stroke="#d6d6d6" stroke-width="0.6" stroke-dasharray="0.8 1.6"/>
<line x1="240.29" y1="187.6" x2="240.29" y2="231.45" stroke="#d6d6d6" stroke-width="0.6" stroke-dasharray="0.8 1.6"/>
<line x1="249.45" y1="187.6" x2="249.45" y2="231.45" stroke="#d6d6d6" stroke-width="0.6" stroke-dasharray="0.8 1.6"/>
<line x1="258.61" y1="187.6" x2="258.61" y2="231.45" stroke="#d6d6d6" stroke-width="0.6" stroke-dasharray="0.8 1.6"/>
<line x1="267.77" y1="187.6" x2="267.77" y2="231.45" stroke="#d6d6d6" stroke-width="0.6" stroke-dasharray="0.8 1.6"/>
<line x1="276.93" y1="187.6" x2="276.93" y2="231.45" stroke="#d6d6d6" stroke-width="0.6" stroke-dasharray="0.8 1.6"/>
<line x1="286.09" y1="187.6" x2="286.09" y2="231.45" stroke="#d6d6d6" stroke-width="0.6" stroke-dasharray="0.8 1.6"/>
<line x1="295.25" y1="187.6" x2="295.25" y2="231.45" stroke="#d6d6d6" stroke-width="0.6" stroke-dasharray="0.8 1.6"/>
<line x1="304.41" y1="187.6" x2="304.41" y2="231.45" stroke="#d6d6d6" stroke-width="0.6" stroke-dasharray="0.8 1.6"/>
<line x1="313.57" y1="187.6" x2="313.57" y2="231.45" stroke="#d6d6d6" stroke-width="0.6" stroke-dasharray="0.8 1.6"/>
<line x1="322.73" y1="187.6" x2="322.73" y2="231.45" stroke="#d6d6d6" stroke-width="0.6" stroke-dasharray="0.8 1.6"/>
<line x1="331.89" y1="187.6" x2="331.89" y2="231.45" stroke="#d6d6d6" stroke-width="0.6" stroke-dasharray="0.8 1.6"/>
<line x1="341.05" y1="187.6" x2="341.05" y2="231.45" stroke="#d6d6d6" stroke-width="0.6" stroke-dasharray="0.8 1.6"/>
<line x1="350.21" y1="187.6" x2="350.21" y2="231.45" stroke="#d6d6d6" stroke-width="0.6" stroke-dasharray="0.8 1.6"/>
<line x1="359.37" y1="187.6" x2="359.37" y2="231.45" stroke="#d6d6d6" stroke-width="0.6" stroke-dasharray="0.8 1.6"/>
<line x1="368.53" y1="187.6" x2="368.53" y2="231.45" stroke="#d6d6d6" stroke-width="0.6" stroke-dasharray="0.8 1.6"/>
<line x1="377.69" y1="187.6" x2="377.69" y2="231.45" stroke="#d6d6d6" stroke-width="0.6" stroke-dasharray="0.8 1.6"/>
<line x1="386.85" y1="187.6" x2="386.85" y2="231.45" stroke="#d6d6d6" stroke-width="0.6" stroke-dasharray="0.8 1.6"/>
<line x1="396.01" y1="187.6" x2="396.01" y2="231.45" stroke="#d6d6d6" stroke-width="0.6" stroke-dasharray="0.8 1.6"/>
<line x1="405.17" y1="187.6" x2="405.17" y2="231.45" stroke="#d6d6d6" stroke-width="0.6" stroke-dasharray="0.8 1.6"/>
<line x1="414.33" y1="187.6" x2="414.33" y2="231.45" stroke="#d6d6d6" stroke-width="0.6" stroke-dasharray="0.8 1.6"/>
<line x1="423.49" y1="187.6" x2="423.49" y2="231.45" stroke="#d6d6d6" stroke-width="0.6" stroke-dasharray="0.8 1.6"/>
<line x1="432.65" y1="187.6" x2="432.65" y2="231.45" stroke="#d6d6d6" stroke-width="0.6" stroke-dasharray="0.8 1.6"/>
<line x1="441.81" y1="187.6" x2="441.81" y2="231.45" stroke="#d6d6d6" stroke-width="0.6" stroke-dasharray="0.8 1.6"/>
<line x1="450.97" y1="187.6" x2="450.97" y2="231.45" stroke="#d6d6d6" stroke-width="0.6" stroke-dasharray="0.8 1.6"/>
<line x1="460.13" y1="187.6" x2="460.13" y2="231.45" stroke="#d6d6d6" stroke-width="0.6" stroke-dasharray="0.8 1.6"/>
<line x1="469.29" y1="187.6" x2="469.29" y2="231.45" stroke="#d6d6d6" stroke-width="0.6" stroke-dasharray="0.8 1.6"/>
<line x1="20.45" y1="229.01" x2="478.45" y2="229.01" stroke="#d6d6d6" stroke-width="0.6" stroke-dasharray="0.8 1.6"/>
<line x1="20.45" y1="226.58" x2="478.45" y2="226.58" stroke="#d6d6d6" stroke-width="0.6" stroke-dasharray="0.8 1.6"/>
<line x1="20.45" y1="224.14" x2="478.45" y2="224.14" stroke="#d6d6d6" stroke-width="0.6" stroke-dasharray="0.8 1.6"/>
<line x1="20.45" y1="221.71" x2="478.45" y2="221.71" stroke="#d6d6d6" stroke-width="0.6" stroke-dasharray="0.8 1.6"/>
<line x1="20.45" y1="216.83" x2="478.45" y2="216.83" stroke="#d6d6d6" stroke-width="0.6" stroke-dasharray="0.8 1.6"/>
<line x1="20.45" y1="214.4" x2="478.45" y2="214.4" stroke="#d6d6d6" stroke-width="0.6" stroke-dasharray="0.8 1.6"/>
<line x1="20.45" y1="211.96" x2="478.45" y2="211.96" stroke="#d6d6d6" stroke-width="0.6" stroke-dasharray="0.8 1.6"/>
<line x1="20.45" y1="209.52" x2="478.45" y2="209.52" stroke="#d6d6d6" stroke-width="0.6" stroke-dasharray="0.8 1.6"/>
<line x1="20.45" y1="204.65" x2="478.45" y2="204.65" stroke="#d6d6d6" stroke-width="0.6" stroke-dasharray="0.8 1.6"/>
<line x1="20.45" y1="202.22" x2="478.45" y2="202.22" stroke="#d6d6d6" stroke-width="0.6" stroke-dasharray="0.8 1.6"/>
<line x1="20.45" y1="199.78" x2="478.45" y2="199.78" stroke="#d6d6d6" stroke-width="0.6" stroke-dasharray="0.8 1.6"/>
<line x1="20.45" y1="197.34" x2="478.45" y2="197.34" stroke="#d6d6d6" stroke-width="0.6" stroke-dasharray="0.8 1.6"/>
<line x1="20.45" y1="192.47" x2="478.45" y2="192.47" stroke="#d6d6d6" stroke-width="0.6" stroke-dasharray="0.8 1.6"/>
<line x1="20.45" y1="190.04" x2="478.45" y2="190.04" stroke="#d6d6d6" stroke-width="0.6" stroke-dasharray="0.8 1.6"/>
<line x1="66.25" y1="187.6" x2="66.25" y2="231.45" stroke="#e8e8e8" stroke-width="0.8"/>
<line x1="112.05" y1="187.6" x2="112.05" y2="231.45" stroke="#e8e8e8" stroke-width="0.8"/>
<line x1="157.85" y1="187.6" x2="157.85" y2="231.45" stroke="#e8e8e8" stroke-width="0.8"/>
<line x1="203.65" y1="187.6" x2="203.65" y2="231.45" stroke="#e8e8e8" stroke-width="0.8"/>
<line x1="249.45" y1="187.6" x2="249.45" y2="231.45" stroke="#e8e8e8" stroke-width="0.8"/>
<line x1="295.25" y1="187.6" x2="295.25" y2="231.45" stroke="#e8e8e8" stroke-width="0.8"/>
<line x1="341.05" y1="187.6" x2="341.05" y2="231.45" stroke="#e8e8e8" stroke-width="0.8"/>
<line x1="386.85" y1="187.6" x2="386.85" y2="231.45" stroke="#e8e8e8" stroke-width="0.8"/>
<line x1="432.65" y1="187.6" x2="432.65" y2="231.45" stroke="#e8e8e8" stroke-width="0.8"/>
<line x1="20.45" y1="194.91" x2="478.45" y2="194.91" stroke="#e8e8e8" stroke-width="0.8"/>
<line x1="20.45" y1="207.09" x2="478.45" y2="207.09" stroke="#e8e8e8" stroke-width="0.8"/>
<line x1="20.45" y1="219.27" x2="478.45" y2="219.27" stroke="#e8e8e8" stroke-width="0.8"/>
<line x1="66.25" y1="187.6" x2="66.25" y2="190.6" stroke="#8a8a8a" stroke-width="0.8"/>
<line x1="66.25" y1="228.45" x2="66.25" y2="231.45" stroke="#8a8a8a" stroke-width="0.8"/>
<line x1="112.05" y1="187.6" x2="112.05" y2="190.6" stroke="#8a8a8a" stroke-width="0.8"/>
<line x1="112.05" y1="228.45" x2="112.05" y2="231.45" stroke="#8a8a8a" stroke-width="0.8"/>
<line x1="157.85" y1="187.6" x2="157.85" y2="190.6" stroke="#8a8a8a" stroke-width="0.8"/>
<line x1="157.85" y1="228.45" x2="157.85" y2="231.45" stroke="#8a8a8a" stroke-width="0.8"/>
<line x1="203.65" y1="187.6" x2="203.65" y2="190.6" stroke="#8a8a8a" stroke-width="0.8"/>
<line x1="203.65" y1="228.45" x2="203.65" y2="231.45" stroke="#8a8a8a" stroke-width="0.8"/>
<line x1="249.45" y1="187.6" x2="249.45" y2="190.6" stroke="#8a8a8a" stroke-width="0.8"/>
<line x1="249.45" y1="228.45" x2="249.45" y2="231.45" stroke="#8a8a8a" stroke-width="0.8"/>
<line x1="295.25" y1="187.6" x2="295.25" y2="190.6" stroke="#8a8a8a" stroke-width="0.8"/>
<line x1="295.25" y1="228.45" x2="295.25" y2="231.45" stroke="#8a8a8a" stroke-width="0.8"/>
<line x1="341.05" y1="187.6" x2="341.05" y2="190.6" stroke="#8a8a8a" stroke-width="0.8"/>
<line x1="341.05" y1="228.45" x2="341.05" y2="231.45" stroke="#8a8a8a" stroke-width="0.8"/>
<line x1="386.85" y1="187.6" x2="386.85" y2="190.6" stroke="#8a8a8a" stroke-width="0.8"/>
<line x1="386.85" y1="228.45" x2="386.85" y2="231.45" stroke="#8a8a8a" stroke-width="0.8"/>
<line x1="432.65" y1="187.6" x2="432.65" y2="190.6" stroke="#8a8a8a" stroke-width="0.8"/>
<line x1="432.65" y1="228.45" x2="432.65" y2="231.45" stroke="#8a8a8a" stroke-width="0.8"/>
<line x1="20.45" y1="194.91" x2="23.95" y2="194.91" stroke="#8a8a8a" stroke-width="0.8"/>
<line x1="474.95" y1="194.91" x2="478.45" y2="194.91" stroke="#8a8a8a" stroke-width="0.8"/>
<line x1="20.45" y1="207.09" x2="23.95" y2="207.09" stroke="#8a8a8a" stroke-width="0.8"/>
<line x1="474.95" y1="207.09" x2="478.45" y2="207.09" stroke="#8a8a8a" stroke-width="0.8"/>
<line x1="20.45" y1="219.27" x2="23.95" y2="219.27" stroke="#8a8a8a" stroke-width="0.8"/>
<line x1="474.95" y1="219.27" x2="478.45" y2="219.27" stroke="#8a8a8a" stroke-width="0.8"/>
<rect x="20.45" y="187.6" width="458" height="43.85" fill="none" stroke="#b4b4b4" stroke-width="1"/>
<line x1="303.9" y1="23.69" x2="321.7" y2="23.69" stroke="#ffa500" stroke-width="1.7"/>
<line x1="334.3" y1="23.69" x2="359.1" y2="23.69" stroke="#ffa500" stroke-width="1.7"/>
<line x1="360.9" y1="23.69" x2="387.1" y2="23.69" stroke="#ffa500" stroke-width="1.7"/>
<line x1="408.9" y1="23.69" x2="478.4" y2="23.69" stroke="#ffa500" stroke-width="1.7"/>
<circle cx="22.5" cy="32.48" r="0.94" fill="#a6d6e6"/>
<line x1="25.9" y1="32.48" x2="28.1" y2="32.48" stroke="#a6d6e6" stroke-width="1.7"/>
<circle cx="36.4" cy="32.48" r="0.94" fill="#a6d6e6"/>
<circle cx="47.6" cy="32.48" r="0.94" fill="#a6d6e6"/>
<line x1="53.9" y1="32.48" x2="58.1" y2="32.48" stroke="#a6d6e6" stroke-width="1.7"/>
<circle cx="61.5" cy="32.48" r="0.94" fill="#a6d6e6"/>
<circle cx="65.7" cy="32.48" r="0.94" fill="#a6d6e6"/>
<circle cx="246" cy="32.48" r="0.94" fill="#a6d6e6"/>
<line x1="267.9" y1="32.48" x2="277.1" y2="32.48" stroke="#a6d6e6" stroke-width="1.7"/>
<line x1="284.9" y1="32.48" x2="292.3" y2="32.48" stroke="#a6d6e6" stroke-width="1.7"/>
<line x1="296.9" y1="32.48" x2="303.1" y2="32.48" stroke="#a6d6e6" stroke-width="1.7"/>
<line x1="324.3" y1="32.48" x2="328.5" y2="32.48" stroke="#a6d6e6" stroke-width="1.7"/>
<circle cx="390" cy="32.48" r="0.94" fill="#a6d6e6"/>
<circle cx="395.6" cy="32.48" r="0.94" fill="#a6d6e6"/>
<circle cx="398" cy="32.48" r="0.94" fill="#a6d6e6"/>
<circle cx="406" cy="32.48" r="0.94" fill="#a6d6e6"/>
<circle cx="52.4" cy="41.27" r="0.94" fill="#000080"/>
<circle cx="68.9" cy="41.27" r="0.94" fill="#000080"/>
<line x1="72.7" y1="41.27" x2="75.6" y2="41.27" stroke="#000080" stroke-width="1.7"/>
<line x1="76.4" y1="41.27" x2="80.9" y2="41.27" stroke="#000080" stroke-width="1.7"/>
<line x1="239.9" y1="41.27" x2="241.9" y2="41.27" stroke="#000080" stroke-width="1.7"/>
<circle cx="247.4" cy="41.27" r="0.94" fill="#000080"/>
<circle cx="251" cy="41.27" r="0.94" fill="#000080"/>
<circle cx="263.9" cy="41.27" r="0.94" fill="#000080"/>
<circle cx="267" cy="41.27" r="0.94" fill="#000080"/>
<circle cx="74.8" cy="50.06" r="0.94" fill="#ff4800"/>
<line x1="77.4" y1="50.06" x2="239.8" y2="50.06" stroke="#ff4800" stroke-width="1.7"/>
<line x1="247.6" y1="50.06" x2="252.8" y2="50.06" stroke="#ff4800" stroke-width="1.7"/>
<line x1="254.5" y1="50.06" x2="264" y2="50.06" stroke="#ff4800" stroke-width="1.7"/>
<line x1="292.9" y1="50.06" x2="295.5" y2="50.06" stroke="#ff4800" stroke-width="1.7"/>
<line x1="390.9" y1="50.06" x2="395.1" y2="50.06" stroke="#ff4800" stroke-width="1.7"/>
<circle cx="403" cy="50.06" r="0.94" fill="#ff4800"/>
<path d="M21.1 103.4h1.6v5.8h-1.6zM20.1 103h3.6v1.1h-3.6zM20.1 108.5h3.6v1.1h-3.6zM25.9 103.4h1.6v5.8h-1.6zM24.9 103h3.6v1.1h-3.6zM24.9 108.5h3.6v1.1h-3.6zM35.6 103.4h1.6v5.8h-1.6zM34.6 103h3.6v1.1h-3.6zM34.6 108.5h3.6v1.1h-3.6zM47 103.4h1.6v5.8h-1.6zM46 103h3.6v1.1h-3.6zM46 108.5h3.6v1.1h-3.6zM51.5 93.7h1.6v10.3h-1.6zM50.5 93.3h3.6v1.1h-3.6zM50.5 103.3h3.6v1.1h-3.6zM53.7 103.28h1.6v5.68h-1.6zM52.7 102.88h3.6v1.1h-3.6zM52.7 108.26h3.6v1.1h-3.6zM55.2 103.1h1.6v6.12h-1.6zM54.2 102.7h3.6v1.1h-3.6zM54.2 108.53h3.6v1.1h-3.6zM56.7 103.09h1.6v6.11h-1.6zM55.7 102.69h3.6v1.1h-3.6zM55.7 108.51h3.6v1.1h-3.6zM60.6 104h1.6v4.5h-1.6zM59.6 103.6h3.6v1.1h-3.6zM59.6 107.8h3.6v1.1h-3.6zM64.6 104h1.6v4.5h-1.6zM63.6 103.6h3.6v1.1h-3.6zM63.6 107.8h3.6v1.1h-3.6zM68 100.5h1.6v5.2h-1.6zM67 100.1h3.6v1.1h-3.6zM67 105h3.6v1.1h-3.6zM72.6 96.5h1.6v6.9h-1.6zM71.6 96.1h3.6v1.1h-3.6zM71.6 102.7h3.6v1.1h-3.6zM74.2 102.75h1.6v6.55h-1.6zM73.2 102.35h3.6v1.1h-3.6zM73.2 108.6h3.6v1.1h-3.6zM75.6 102.75h1.6v7.08h-1.6zM74.6 102.35h3.6v1.1h-3.6zM74.6 109.13h3.6v1.1h-3.6zM77 102.61h1.6v7.08h-1.6zM76 102.21h3.6v1.1h-3.6zM76 108.99h3.6v1.1h-3.6zM78.4 102.85h1.6v6.67h-1.6zM77.4 102.45h3.6v1.1h-3.6zM77.4 108.83h3.6v1.1h-3.6zM79.8 102.48h1.6v7.37h-1.6zM78.8 102.08h3.6v1.1h-3.6zM78.8 109.15h3.6v1.1h-3.6zM81.2 102.55h1.6v6.78h-1.6zM80.2 102.15h3.6v1.1h-3.6zM80.2 108.63h3.6v1.1h-3.6zM81.7 97.22h1.6v12.76h-1.6zM80.7 96.82h3.6v1.1h-3.6zM80.7 109.28h3.6v1.1h-3.6zM83.03 97.1h1.6v13.01h-1.6zM82.03 96.7h3.6v1.1h-3.6zM82.03 109.41h3.6v1.1h-3.6zM84.37 96.69h1.6v13.2h-1.6zM83.37 96.29h3.6v1.1h-3.6zM83.37 109.19h3.6v1.1h-3.6zM85.7 97.13h1.6v13.02h-1.6zM84.7 96.73h3.6v1.1h-3.6zM84.7 109.45h3.6v1.1h-3.6zM85.7 93.76h1.6v11.21h-1.6zM84.7 93.36h3.6v1.1h-3.6zM84.7 104.27h3.6v1.1h-3.6zM87.2 93.91h1.6v11.23h-1.6zM86.2 93.51h3.6v1.1h-3.6zM86.2 104.44h3.6v1.1h-3.6zM88.7 93.75h1.6v11.27h-1.6zM87.7 93.35h3.6v1.1h-3.6zM87.7 104.32h3.6v1.1h-3.6zM90.2 93.86h1.6v10.99h-1.6zM89.2 93.46h3.6v1.1h-3.6zM89.2 104.15h3.6v1.1h-3.6zM91.7 93.43h1.6v11.51h-1.6zM90.7 93.03h3.6v1.1h-3.6zM90.7 104.24h3.6v1.1h-3.6zM90.2 88.76h1.6v8.94h-1.6zM89.2 88.36h3.6v1.1h-3.6zM89.2 96.99h3.6v1.1h-3.6zM91.7 89.12h1.6v8.77h-1.6zM90.7 88.72h3.6v1.1h-3.6zM90.7 97.19h3.6v1.1h-3.6zM93.2 89.26h1.6v8.31h-1.6zM92.2 88.86h3.6v1.1h-3.6zM92.2 96.87h3.6v1.1h-3.6zM94.7 89.07h1.6v8.69h-1.6zM93.7 88.67h3.6v1.1h-3.6zM93.7 97.06h3.6v1.1h-3.6zM95.2 96.24h1.6v14.27h-1.6zM94.2 95.84h3.6v1.1h-3.6zM94.2 109.81h3.6v1.1h-3.6zM96.83 96.11h1.6v13.78h-1.6zM95.83 95.71h3.6v1.1h-3.6zM95.83 109.19h3.6v1.1h-3.6zM98.45 96.1h1.6v14.44h-1.6zM97.45 95.7h3.6v1.1h-3.6zM97.45 109.85h3.6v1.1h-3.6zM100.08 95.85h1.6v14.27h-1.6zM99.08 95.45h3.6v1.1h-3.6zM99.08 109.42h3.6v1.1h-3.6zM101.7 95.67h1.6v14.51h-1.6zM100.7 95.27h3.6v1.1h-3.6zM100.7 109.47h3.6v1.1h-3.6zM101.7 99.73h1.6v10.16h-1.6zM100.7 99.33h3.6v1.1h-3.6zM100.7 109.19h3.6v1.1h-3.6zM103.03 99.74h1.6v10.28h-1.6zM102.03 99.34h3.6v1.1h-3.6zM102.03 109.32h3.6v1.1h-3.6zM104.37 100.26h1.6v9.65h-1.6zM103.37 99.86h3.6v1.1h-3.6zM103.37 109.21h3.6v1.1h-3.6zM105.7 100.03h1.6v10.43h-1.6zM104.7 99.63h3.6v1.1h-3.6zM104.7 109.77h3.6v1.1h-3.6zM106.2 88.85h1.6v11.99h-1.6zM105.2 88.45h3.6v1.1h-3.6zM105.2 100.14h3.6v1.1h-3.6zM107.7 88.5h1.6v12.77h-1.6zM106.7 88.1h3.6v1.1h-3.6zM106.7 100.57h3.6v1.1h-3.6zM109.2 88.36h1.6v12.42h-1.6zM108.2 87.96h3.6v1.1h-3.6zM108.2 100.07h3.6v1.1h-3.6zM110.7 88.41h1.6v12.58h-1.6zM109.7 88.01h3.6v1.1h-3.6zM109.7 100.29h3.6v1.1h-3.6zM112.2 88.43h1.6v12.22h-1.6zM111.2 88.03h3.6v1.1h-3.6zM111.2 99.95h3.6v1.1h-3.6zM112.2 91.31h1.6v9.74h-1.6zM111.2 90.91h3.6v1.1h-3.6zM111.2 100.35h3.6v1.1h-3.6zM113.6 91.53h1.6v9.48h-1.6zM112.6 91.13h3.6v1.1h-3.6zM112.6 100.31h3.6v1.1h-3.6zM115 91.52h1.6v9.16h-1.6zM114 91.12h3.6v1.1h-3.6zM114 99.99h3.6v1.1h-3.6zM116.4 91.6h1.6v9.67h-1.6zM115.4 91.2h3.6v1.1h-3.6zM115.4 100.56h3.6v1.1h-3.6zM117.8 91.32h1.6v9.6h-1.6zM116.8 90.92h3.6v1.1h-3.6zM116.8 100.23h3.6v1.1h-3.6zM119.2 91.49h1.6v9.2h-1.6zM118.2 91.09h3.6v1.1h-3.6zM118.2 99.99h3.6v1.1h-3.6zM118.2 96.8h1.6v10.97h-1.6zM117.2 96.4h3.6v1.1h-3.6zM117.2 107.06h3.6v1.1h-3.6zM119.87 96.69h1.6v10.96h-1.6zM118.87 96.29h3.6v1.1h-3.6zM118.87 106.95h3.6v1.1h-3.6zM121.53 96.72h1.6v11.18h-1.6zM120.53 96.32h3.6v1.1h-3.6zM120.53 107.2h3.6v1.1h-3.6zM123.2 97.26h1.6v10.82h-1.6zM122.2 96.86h3.6v1.1h-3.6zM122.2 107.38h3.6v1.1h-3.6zM140 81.83h1.6v15.57h-1.6zM139 81.43h3.6v1.1h-3.6zM139 96.69h3.6v1.1h-3.6zM141.6 81.74h1.6v16.01h-1.6zM140.6 81.34h3.6v1.1h-3.6zM140.6 97.04h3.6v1.1h-3.6zM143.2 81.98h1.6v15.51h-1.6zM142.2 81.58h3.6v1.1h-3.6zM142.2 96.79h3.6v1.1h-3.6zM143.7 101.12h1.6v4.67h-1.6zM142.7 100.72h3.6v1.1h-3.6zM142.7 105.09h3.6v1.1h-3.6zM145.37 101.63h1.6v4.03h-1.6zM144.37 101.23h3.6v1.1h-3.6zM144.37 104.96h3.6v1.1h-3.6zM147.03 101.72h1.6v4.2h-1.6zM146.03 101.32h3.6v1.1h-3.6zM146.03 105.22h3.6v1.1h-3.6zM148.7 101.43h1.6v4.14h-1.6zM147.7 101.03h3.6v1.1h-3.6zM147.7 104.87h3.6v1.1h-3.6zM161.2 95.73h1.6v10.22h-1.6zM160.2 95.33h3.6v1.1h-3.6zM160.2 105.25h3.6v1.1h-3.6zM162.56 95.23h1.6v10.37h-1.6zM161.56 94.83h3.6v1.1h-3.6zM161.56 104.91h3.6v1.1h-3.6zM163.92 95.59h1.6v10.13h-1.6zM162.92 95.19h3.6v1.1h-3.6zM162.92 105.02h3.6v1.1h-3.6zM165.28 95.28h1.6v10.23h-1.6zM164.28 94.88h3.6v1.1h-3.6zM164.28 104.81h3.6v1.1h-3.6zM166.64 95.74h1.6v10.21h-1.6zM165.64 95.34h3.6v1.1h-3.6zM165.64 105.25h3.6v1.1h-3.6zM168 95.62h1.6v10.25h-1.6zM167 95.22h3.6v1.1h-3.6zM167 105.17h3.6v1.1h-3.6zM166.9 98.81h1.6v9.59h-1.6zM165.9 98.41h3.6v1.1h-3.6zM165.9 107.7h3.6v1.1h-3.6zM168.42 98.47h1.6v9.88h-1.6zM167.42 98.07h3.6v1.1h-3.6zM167.42 107.65h3.6v1.1h-3.6zM169.93 98.93h1.6v9.88h-1.6zM168.93 98.53h3.6v1.1h-3.6zM168.93 108.12h3.6v1.1h-3.6zM171.45 99.11h1.6v9.74h-1.6zM170.45 98.71h3.6v1.1h-3.6zM170.45 108.14h3.6v1.1h-3.6zM172.97 98.71h1.6v9.6h-1.6zM171.97 98.31h3.6v1.1h-3.6zM171.97 107.6h3.6v1.1h-3.6zM174.48 98.59h1.6v9.71h-1.6zM173.48 98.19h3.6v1.1h-3.6zM173.48 107.59h3.6v1.1h-3.6zM176 99.08h1.6v9.66h-1.6zM175 98.68h3.6v1.1h-3.6zM175 108.04h3.6v1.1h-3.6zM176 96.11h1.6v6.9h-1.6zM175 95.71h3.6v1.1h-3.6zM175 102.31h3.6v1.1h-3.6zM177.38 96.11h1.6v6.97h-1.6zM176.38 95.71h3.6v1.1h-3.6zM176.38 102.39h3.6v1.1h-3.6zM178.76 96.18h1.6v6.61h-1.6zM177.76 95.78h3.6v1.1h-3.6zM177.76 102.08h3.6v1.1h-3.6zM180.14 96.2h1.6v6.48h-1.6zM179.14 95.8h3.6v1.1h-3.6zM179.14 101.98h3.6v1.1h-3.6zM181.52 96.33h1.6v6.4h-1.6zM180.52 95.93h3.6v1.1h-3.6zM180.52 102.03h3.6v1.1h-3.6zM182.9 96.31h1.6v6.64h-1.6zM181.9 95.91h3.6v1.1h-3.6zM181.9 102.26h3.6v1.1h-3.6zM182.9 97.94h1.6v8.62h-1.6zM181.9 97.54h3.6v1.1h-3.6zM181.9 105.86h3.6v1.1h-3.6zM184.31 98.41h1.6v8.14h-1.6zM183.31 98.01h3.6v1.1h-3.6zM183.31 105.85h3.6v1.1h-3.6zM185.72 98.54h1.6v8.37h-1.6zM184.72 98.14h3.6v1.1h-3.6zM184.72 106.21h3.6v1.1h-3.6zM187.14 98.23h1.6v8.31h-1.6zM186.14 97.83h3.6v1.1h-3.6zM186.14 105.84h3.6v1.1h-3.6zM188.55 98.53h1.6v8.38h-1.6zM187.55 98.13h3.6v1.1h-3.6zM187.55 106.2h3.6v1.1h-3.6zM189.96 98.5h1.6v8.25h-1.6zM188.96 98.1h3.6v1.1h-3.6zM188.96 106.05h3.6v1.1h-3.6zM191.38 98.43h1.6v8.17h-1.6zM190.38 98.03h3.6v1.1h-3.6zM190.38 105.9h3.6v1.1h-3.6zM192.79 98.06h1.6v8.56h-1.6zM191.79 97.66h3.6v1.1h-3.6zM191.79 105.92h3.6v1.1h-3.6zM194.2 98.03h1.6v8.71h-1.6zM193.2 97.63h3.6v1.1h-3.6zM193.2 106.04h3.6v1.1h-3.6zM193.2 101.29h1.6v7.61h-1.6zM192.2 100.89h3.6v1.1h-3.6zM192.2 108.2h3.6v1.1h-3.6zM194.6 101.06h1.6v8.22h-1.6zM193.6 100.66h3.6v1.1h-3.6zM193.6 108.58h3.6v1.1h-3.6zM196 101.29h1.6v7.71h-1.6zM195 100.89h3.6v1.1h-3.6zM195 108.3h3.6v1.1h-3.6zM197.4 101.02h1.6v7.65h-1.6zM196.4 100.62h3.6v1.1h-3.6zM196.4 107.96h3.6v1.1h-3.6zM198.8 100.78h1.6v7.87h-1.6zM197.8 100.38h3.6v1.1h-3.6zM197.8 107.95h3.6v1.1h-3.6zM197.7 97.97h1.6v8.81h-1.6zM196.7 97.57h3.6v1.1h-3.6zM196.7 106.08h3.6v1.1h-3.6zM199.14 98.24h1.6v8.44h-1.6zM198.14 97.84h3.6v1.1h-3.6zM198.14 105.98h3.6v1.1h-3.6zM200.58 98.24h1.6v8.76h-1.6zM199.58 97.84h3.6v1.1h-3.6zM199.58 106.3h3.6v1.1h-3.6zM202.02 98.24h1.6v8.38h-1.6zM201.02 97.84h3.6v1.1h-3.6zM201.02 105.92h3.6v1.1h-3.6zM203.46 98.39h1.6v8.41h-1.6zM202.46 97.99h3.6v1.1h-3.6zM202.46 106.11h3.6v1.1h-3.6zM204.9 98.38h1.6v8.71h-1.6zM203.9 97.98h3.6v1.1h-3.6zM203.9 106.39h3.6v1.1h-3.6zM203.8 98.88h1.6v9.63h-1.6zM202.8 98.48h3.6v1.1h-3.6zM202.8 107.8h3.6v1.1h-3.6zM205.38 98.93h1.6v9.53h-1.6zM204.38 98.53h3.6v1.1h-3.6zM204.38 107.77h3.6v1.1h-3.6zM206.96 98.78h1.6v10.02h-1.6zM205.96 98.38h3.6v1.1h-3.6zM205.96 108.11h3.6v1.1h-3.6zM208.54 99.06h1.6v9.75h-1.6zM207.54 98.66h3.6v1.1h-3.6zM207.54 108.11h3.6v1.1h-3.6zM210.12 98.84h1.6v9.97h-1.6zM209.12 98.44h3.6v1.1h-3.6zM209.12 108.11h3.6v1.1h-3.6zM211.7 98.55h1.6v9.69h-1.6zM210.7 98.15h3.6v1.1h-3.6zM210.7 107.54h3.6v1.1h-3.6zM210.6 94.7h1.6v13.12h-1.6zM209.6 94.3h3.6v1.1h-3.6zM209.6 107.12h3.6v1.1h-3.6zM212 95.12h1.6v13.08h-1.6zM211 94.72h3.6v1.1h-3.6zM211 107.5h3.6v1.1h-3.6zM213.4 94.76h1.6v13.39h-1.6zM212.4 94.36h3.6v1.1h-3.6zM212.4 107.45h3.6v1.1h-3.6zM214.8 94.75h1.6v13.52h-1.6zM213.8 94.35h3.6v1.1h-3.6zM213.8 107.57h3.6v1.1h-3.6zM216.2 94.8h1.6v13.51h-1.6zM215.2 94.4h3.6v1.1h-3.6zM215.2 107.62h3.6v1.1h-3.6zM216.2 93.69h1.6v10.65h-1.6zM215.2 93.29h3.6v1.1h-3.6zM215.2 103.64h3.6v1.1h-3.6zM217.65 93.46h1.6v10.49h-1.6zM216.65 93.06h3.6v1.1h-3.6zM216.65 103.25h3.6v1.1h-3.6zM219.1 93.59h1.6v10.2h-1.6zM218.1 93.19h3.6v1.1h-3.6zM218.1 103.09h3.6v1.1h-3.6zM220.55 93.86h1.6v9.81h-1.6zM219.55 93.46h3.6v1.1h-3.6zM219.55 102.96h3.6v1.1h-3.6zM222 93.66h1.6v10h-1.6zM221 93.26h3.6v1.1h-3.6zM221 102.96h3.6v1.1h-3.6zM218.6 96.09h1.6v11.92h-1.6zM217.6 95.69h3.6v1.1h-3.6zM217.6 107.31h3.6v1.1h-3.6zM220.2 96.34h1.6v11.86h-1.6zM219.2 95.94h3.6v1.1h-3.6zM219.2 107.5h3.6v1.1h-3.6zM221.8 95.72h1.6v12.11h-1.6zM220.8 95.32h3.6v1.1h-3.6zM220.8 107.14h3.6v1.1h-3.6zM223.4 96.2h1.6v11.64h-1.6zM222.4 95.8h3.6v1.1h-3.6zM222.4 107.14h3.6v1.1h-3.6zM225 95.95h1.6v12.34h-1.6zM224 95.55h3.6v1.1h-3.6zM224 107.59h3.6v1.1h-3.6zM226.6 95.83h1.6v11.92h-1.6zM225.6 95.43h3.6v1.1h-3.6zM225.6 107.05h3.6v1.1h-3.6zM226.6 99.05h1.6v8.09h-1.6zM225.6 98.65h3.6v1.1h-3.6zM225.6 106.44h3.6v1.1h-3.6zM228.8 98.69h1.6v8.44h-1.6zM227.8 98.29h3.6v1.1h-3.6zM227.8 106.43h3.6v1.1h-3.6zM232.2 95.4h1.6v14.8h-1.6zM231.2 95h3.6v1.1h-3.6zM231.2 109.5h3.6v1.1h-3.6zM233.2 98.7h1.6v7.61h-1.6zM232.2 98.3h3.6v1.1h-3.6zM232.2 105.61h3.6v1.1h-3.6zM234.7 99.21h1.6v6.5h-1.6zM233.7 98.81h3.6v1.1h-3.6zM233.7 105.01h3.6v1.1h-3.6zM236.2 98.7h1.6v7.56h-1.6zM235.2 98.3h3.6v1.1h-3.6zM235.2 105.55h3.6v1.1h-3.6zM237.7 98.89h1.6v7.15h-1.6zM236.7 98.49h3.6v1.1h-3.6zM236.7 105.34h3.6v1.1h-3.6zM239.2 98.84h1.6v6.9h-1.6zM238.2 98.44h3.6v1.1h-3.6zM238.2 105.04h3.6v1.1h-3.6zM237.2 96.12h1.6v9.01h-1.6zM236.2 95.72h3.6v1.1h-3.6zM236.2 104.43h3.6v1.1h-3.6zM238.7 95.99h1.6v9.21h-1.6zM237.7 95.59h3.6v1.1h-3.6zM237.7 104.49h3.6v1.1h-3.6zM240.2 96.16h1.6v9.42h-1.6zM239.2 95.76h3.6v1.1h-3.6zM239.2 104.88h3.6v1.1h-3.6zM241.7 96.3h1.6v8.87h-1.6zM240.7 95.9h3.6v1.1h-3.6zM240.7 104.47h3.6v1.1h-3.6zM245 100.46h1.6v6.06h-1.6zM244 100.06h3.6v1.1h-3.6zM244 105.83h3.6v1.1h-3.6zM246.4 100.96h1.6v5.77h-1.6zM245.4 100.56h3.6v1.1h-3.6zM245.4 106.04h3.6v1.1h-3.6zM247.8 100.78h1.6v6.22h-1.6zM246.8 100.38h3.6v1.1h-3.6zM246.8 106.3h3.6v1.1h-3.6zM249.2 101.02h1.6v5.63h-1.6zM248.2 100.62h3.6v1.1h-3.6zM248.2 105.95h3.6v1.1h-3.6zM250.6 101.03h1.6v5.59h-1.6zM249.6 100.63h3.6v1.1h-3.6zM249.6 105.93h3.6v1.1h-3.6zM252 100.93h1.6v6.11h-1.6zM251 100.53h3.6v1.1h-3.6zM251 106.34h3.6v1.1h-3.6zM253.4 101.03h1.6v5.81h-1.6zM252.4 100.63h3.6v1.1h-3.6zM252.4 106.14h3.6v1.1h-3.6zM252.7 97.53h1.6v9.06h-1.6zM251.7 97.13h3.6v1.1h-3.6zM251.7 105.89h3.6v1.1h-3.6zM254.22 97.34h1.6v9.06h-1.6zM253.22 96.94h3.6v1.1h-3.6zM253.22 105.7h3.6v1.1h-3.6zM255.73 97.43h1.6v9.04h-1.6zM254.73 97.03h3.6v1.1h-3.6zM254.73 105.76h3.6v1.1h-3.6zM257.25 97.84h1.6v9.12h-1.6zM256.25 97.44h3.6v1.1h-3.6zM256.25 106.26h3.6v1.1h-3.6zM258.77 97.45h1.6v9.07h-1.6zM257.77 97.05h3.6v1.1h-3.6zM257.77 105.82h3.6v1.1h-3.6zM260.28 97.57h1.6v8.89h-1.6zM259.28 97.17h3.6v1.1h-3.6zM259.28 105.76h3.6v1.1h-3.6zM261.8 97.43h1.6v9.59h-1.6zM260.8 97.03h3.6v1.1h-3.6zM260.8 106.32h3.6v1.1h-3.6zM264.4 95.6h1.6v12.4h-1.6zM263.4 95.2h3.6v1.1h-3.6zM263.4 107.3h3.6v1.1h-3.6zM266.2 108.63h1.6v2.39h-1.6zM265.2 108.23h3.6v1.1h-3.6zM265.2 110.32h3.6v1.1h-3.6zM267.6 108.47h1.6v2.63h-1.6zM266.6 108.07h3.6v1.1h-3.6zM266.6 110.4h3.6v1.1h-3.6zM269 108.52h1.6v2.67h-1.6zM268 108.12h3.6v1.1h-3.6zM268 110.48h3.6v1.1h-3.6zM270.4 108.39h1.6v2.81h-1.6zM269.4 107.99h3.6v1.1h-3.6zM269.4 110.5h3.6v1.1h-3.6zM271.8 108.43h1.6v2.48h-1.6zM270.8 108.03h3.6v1.1h-3.6zM270.8 110.21h3.6v1.1h-3.6zM273.2 108.28h1.6v2.59h-1.6zM272.2 107.88h3.6v1.1h-3.6zM272.2 110.17h3.6v1.1h-3.6zM274.6 108.41h1.6v2.85h-1.6zM273.6 108.01h3.6v1.1h-3.6zM273.6 110.56h3.6v1.1h-3.6zM276 108.78h1.6v2.53h-1.6zM275 108.38h3.6v1.1h-3.6zM275 110.61h3.6v1.1h-3.6zM283.6 108.27h1.6v2.86h-1.6zM282.6 107.87h3.6v1.1h-3.6zM282.6 110.42h3.6v1.1h-3.6zM285 108.34h1.6v2.62h-1.6zM284 107.94h3.6v1.1h-3.6zM284 110.25h3.6v1.1h-3.6zM286.4 108.1h1.6v2.78h-1.6zM285.4 107.7h3.6v1.1h-3.6zM285.4 110.18h3.6v1.1h-3.6zM287.8 108.27h1.6v3.01h-1.6zM286.8 107.87h3.6v1.1h-3.6zM286.8 110.59h3.6v1.1h-3.6zM289.2 108.22h1.6v2.73h-1.6zM288.2 107.82h3.6v1.1h-3.6zM288.2 110.25h3.6v1.1h-3.6zM290.6 108h1.6v3.43h-1.6zM289.6 107.6h3.6v1.1h-3.6zM289.6 110.73h3.6v1.1h-3.6zM292 108.23h1.6v3.03h-1.6zM291 107.83h3.6v1.1h-3.6zM291 110.56h3.6v1.1h-3.6zM293.3 102.8h1.6v5.8h-1.6zM292.3 102.4h3.6v1.1h-3.6zM292.3 107.9h3.6v1.1h-3.6zM295.9 109.33h1.6v2.61h-1.6zM294.9 108.93h3.6v1.1h-3.6zM294.9 111.24h3.6v1.1h-3.6zM297.32 108.87h1.6v2.67h-1.6zM296.32 108.47h3.6v1.1h-3.6zM296.32 110.84h3.6v1.1h-3.6zM298.74 108.92h1.6v3.11h-1.6zM297.74 108.52h3.6v1.1h-3.6zM297.74 111.34h3.6v1.1h-3.6zM300.16 109.29h1.6v2.6h-1.6zM299.16 108.89h3.6v1.1h-3.6zM299.16 111.19h3.6v1.1h-3.6zM301.58 109.19h1.6v2.26h-1.6zM300.58 108.79h3.6v1.1h-3.6zM300.58 110.75h3.6v1.1h-3.6zM303 109.37h1.6v2.43h-1.6zM302 108.97h3.6v1.1h-3.6zM302 111.1h3.6v1.1h-3.6zM323.6 108.61h1.6v2.08h-1.6zM322.6 108.21h3.6v1.1h-3.6zM322.6 110h3.6v1.1h-3.6zM325.1 108.33h1.6v2.38h-1.6zM324.1 107.93h3.6v1.1h-3.6zM324.1 110h3.6v1.1h-3.6zM326.6 108.66h1.6v2.13h-1.6zM325.6 108.26h3.6v1.1h-3.6zM325.6 110.09h3.6v1.1h-3.6zM328.1 108.83h1.6v2.16h-1.6zM327.1 108.43h3.6v1.1h-3.6zM327.1 110.3h3.6v1.1h-3.6zM388.7 100.19h1.6v5.94h-1.6zM387.7 99.79h3.6v1.1h-3.6zM387.7 105.43h3.6v1.1h-3.6zM390.7 100.28h1.6v5.82h-1.6zM389.7 99.88h3.6v1.1h-3.6zM389.7 105.4h3.6v1.1h-3.6zM389.7 96.05h1.6v11.07h-1.6zM388.7 95.65h3.6v1.1h-3.6zM388.7 106.43h3.6v1.1h-3.6zM391.43 96.16h1.6v11.18h-1.6zM390.43 95.76h3.6v1.1h-3.6zM390.43 106.65h3.6v1.1h-3.6zM393.17 95.99h1.6v11.15h-1.6zM392.17 95.59h3.6v1.1h-3.6zM392.17 106.44h3.6v1.1h-3.6zM394.9 96.43h1.6v10.99h-1.6zM393.9 96.03h3.6v1.1h-3.6zM393.9 106.72h3.6v1.1h-3.6zM396.8 103.4h1.6v4.6h-1.6zM395.8 103h3.6v1.1h-3.6zM395.8 107.3h3.6v1.1h-3.6zM401.7 102h1.6v4.7h-1.6zM400.7 101.6h3.6v1.1h-3.6zM400.7 106h3.6v1.1h-3.6zM404.9 104h1.6v4h-1.6zM403.9 103.6h3.6v1.1h-3.6zM403.9 107.3h3.6v1.1h-3.6zM123.7 101.01h1.6v6.46h-1.6zM122.7 100.61h3.6v1.1h-3.6zM122.7 106.78h3.6v1.1h-3.6zM125.26 100.53h1.6v7.53h-1.6zM124.26 100.13h3.6v1.1h-3.6zM124.26 107.36h3.6v1.1h-3.6zM126.83 100.93h1.6v7.45h-1.6zM125.83 100.53h3.6v1.1h-3.6zM125.83 107.68h3.6v1.1h-3.6zM128.39 100.37h1.6v8.22h-1.6zM127.39 99.97h3.6v1.1h-3.6zM127.39 107.89h3.6v1.1h-3.6zM129.95 100.16h1.6v8.32h-1.6zM128.95 99.76h3.6v1.1h-3.6zM128.95 107.79h3.6v1.1h-3.6zM131.51 100.31h1.6v8.42h-1.6zM130.51 99.91h3.6v1.1h-3.6zM130.51 108.03h3.6v1.1h-3.6zM133.07 99.55h1.6v9.69h-1.6zM132.07 99.15h3.6v1.1h-3.6zM132.07 108.54h3.6v1.1h-3.6zM134.64 99.34h1.6v10.39h-1.6zM133.64 98.94h3.6v1.1h-3.6zM133.64 109.04h3.6v1.1h-3.6zM136.2 99.67h1.6v10.27h-1.6zM135.2 99.27h3.6v1.1h-3.6zM135.2 109.24h3.6v1.1h-3.6zM146.2 101.68h1.6v2.91h-1.6zM145.2 101.28h3.6v1.1h-3.6zM145.2 103.89h3.6v1.1h-3.6zM147.75 100.63h1.6v4.36h-1.6zM146.75 100.23h3.6v1.1h-3.6zM146.75 104.29h3.6v1.1h-3.6zM149.29 100.43h1.6v4.72h-1.6zM148.29 100.03h3.6v1.1h-3.6zM148.29 104.45h3.6v1.1h-3.6zM150.84 100.02h1.6v6.02h-1.6zM149.84 99.62h3.6v1.1h-3.6zM149.84 105.34h3.6v1.1h-3.6zM152.38 99.9h1.6v6.53h-1.6zM151.38 99.5h3.6v1.1h-3.6zM151.38 105.74h3.6v1.1h-3.6zM153.93 99.61h1.6v7.14h-1.6zM152.93 99.21h3.6v1.1h-3.6zM152.93 106.05h3.6v1.1h-3.6zM155.47 98.74h1.6v8.17h-1.6zM154.47 98.34h3.6v1.1h-3.6zM154.47 106.21h3.6v1.1h-3.6zM157.02 98.82h1.6v8.64h-1.6zM156.02 98.42h3.6v1.1h-3.6zM156.02 106.76h3.6v1.1h-3.6zM158.56 98h1.6v9.64h-1.6zM157.56 97.6h3.6v1.1h-3.6zM157.56 106.94h3.6v1.1h-3.6zM160.11 97.36h1.6v11.08h-1.6zM159.11 96.96h3.6v1.1h-3.6zM159.11 107.73h3.6v1.1h-3.6zM161.65 97.52h1.6v10.9h-1.6zM160.65 97.12h3.6v1.1h-3.6zM160.65 107.72h3.6v1.1h-3.6zM163.2 96.81h1.6v11.98h-1.6zM162.2 96.41h3.6v1.1h-3.6zM162.2 108.08h3.6v1.1h-3.6z" fill="#ff4800"/>
<path d="M303 89.82h1.6v15.15h-1.6zM302 89.42h3.6v1.1h-3.6zM302 104.27h3.6v1.1h-3.6zM304.52 89.55h1.6v15.1h-1.6zM303.52 89.15h3.6v1.1h-3.6zM303.52 103.95h3.6v1.1h-3.6zM306.05 89.46h1.6v14.72h-1.6zM305.05 89.06h3.6v1.1h-3.6zM305.05 103.48h3.6v1.1h-3.6zM307.57 89.55h1.6v14.1h-1.6zM306.57 89.15h3.6v1.1h-3.6zM306.57 102.95h3.6v1.1h-3.6zM309.1 89.45h1.6v13.75h-1.6zM308.1 89.05h3.6v1.1h-3.6zM308.1 102.5h3.6v1.1h-3.6zM310.62 89.61h1.6v13.14h-1.6zM309.62 89.21h3.6v1.1h-3.6zM309.62 102.05h3.6v1.1h-3.6zM312.15 89.17h1.6v13.37h-1.6zM311.15 88.77h3.6v1.1h-3.6zM311.15 101.83h3.6v1.1h-3.6zM313.68 89.57h1.6v12.6h-1.6zM312.68 89.17h3.6v1.1h-3.6zM312.68 101.47h3.6v1.1h-3.6zM315.2 89.06h1.6v12.98h-1.6zM314.2 88.66h3.6v1.1h-3.6zM314.2 101.34h3.6v1.1h-3.6zM315.2 89.47h1.6v14.3h-1.6zM314.2 89.07h3.6v1.1h-3.6zM314.2 103.06h3.6v1.1h-3.6zM316.8 89.98h1.6v14.01h-1.6zM315.8 89.58h3.6v1.1h-3.6zM315.8 103.3h3.6v1.1h-3.6zM318.4 89.98h1.6v14.36h-1.6zM317.4 89.58h3.6v1.1h-3.6zM317.4 103.65h3.6v1.1h-3.6zM320 89.45h1.6v14.34h-1.6zM319 89.05h3.6v1.1h-3.6zM319 103.08h3.6v1.1h-3.6zM321.6 89.59h1.6v14.12h-1.6zM320.6 89.19h3.6v1.1h-3.6zM320.6 103.01h3.6v1.1h-3.6zM333.2 88.23h1.6v15.82h-1.6zM332.2 87.83h3.6v1.1h-3.6zM332.2 103.35h3.6v1.1h-3.6zM334.7 88.57h1.6v15.36h-1.6zM333.7 88.17h3.6v1.1h-3.6zM333.7 103.24h3.6v1.1h-3.6zM336.2 88.42h1.6v15.5h-1.6zM335.2 88.02h3.6v1.1h-3.6zM335.2 103.21h3.6v1.1h-3.6zM337.7 88.09h1.6v15.75h-1.6zM336.7 87.69h3.6v1.1h-3.6zM336.7 103.14h3.6v1.1h-3.6zM339.2 88.14h1.6v15.86h-1.6zM338.2 87.74h3.6v1.1h-3.6zM338.2 103.3h3.6v1.1h-3.6zM339.2 89.25h1.6v14.05h-1.6zM338.2 88.85h3.6v1.1h-3.6zM338.2 102.6h3.6v1.1h-3.6zM340.62 88.82h1.6v14.61h-1.6zM339.62 88.42h3.6v1.1h-3.6zM339.62 102.73h3.6v1.1h-3.6zM342.05 89.32h1.6v14.43h-1.6zM341.05 88.92h3.6v1.1h-3.6zM341.05 103.04h3.6v1.1h-3.6zM343.47 88.67h1.6v14.51h-1.6zM342.47 88.27h3.6v1.1h-3.6zM342.47 102.47h3.6v1.1h-3.6zM344.9 89.28h1.6v14.2h-1.6zM343.9 88.88h3.6v1.1h-3.6zM343.9 102.78h3.6v1.1h-3.6zM344.9 88.05h1.6v16.17h-1.6zM343.9 87.65h3.6v1.1h-3.6zM343.9 103.52h3.6v1.1h-3.6zM346.47 88.63h1.6v15.92h-1.6zM345.47 88.23h3.6v1.1h-3.6zM345.47 103.85h3.6v1.1h-3.6zM348.05 88.22h1.6v15.8h-1.6zM347.05 87.82h3.6v1.1h-3.6zM347.05 103.33h3.6v1.1h-3.6zM349.62 88.42h1.6v16.01h-1.6zM348.62 88.02h3.6v1.1h-3.6zM348.62 103.73h3.6v1.1h-3.6zM351.2 88.56h1.6v15.85h-1.6zM350.2 88.16h3.6v1.1h-3.6zM350.2 103.7h3.6v1.1h-3.6zM351.2 89.47h1.6v13.67h-1.6zM350.2 89.07h3.6v1.1h-3.6zM350.2 102.44h3.6v1.1h-3.6zM352.76 89.7h1.6v13.22h-1.6zM351.76 89.3h3.6v1.1h-3.6zM351.76 102.21h3.6v1.1h-3.6zM354.32 89.6h1.6v13.36h-1.6zM353.32 89.2h3.6v1.1h-3.6zM353.32 102.26h3.6v1.1h-3.6zM355.88 89.33h1.6v13.87h-1.6zM354.88 88.93h3.6v1.1h-3.6zM354.88 102.5h3.6v1.1h-3.6zM357.44 89.23h1.6v13.57h-1.6zM356.44 88.83h3.6v1.1h-3.6zM356.44 102.1h3.6v1.1h-3.6zM359 89.56h1.6v13.46h-1.6zM358 89.16h3.6v1.1h-3.6zM358 102.32h3.6v1.1h-3.6zM359.6 87.07h1.6v14.39h-1.6zM358.6 86.67h3.6v1.1h-3.6zM358.6 100.76h3.6v1.1h-3.6zM361.22 86.97h1.6v15.15h-1.6zM360.22 86.57h3.6v1.1h-3.6zM360.22 101.42h3.6v1.1h-3.6zM362.85 87.27h1.6v14.51h-1.6zM361.85 86.87h3.6v1.1h-3.6zM361.85 101.08h3.6v1.1h-3.6zM364.47 86.82h1.6v15.3h-1.6zM363.47 86.42h3.6v1.1h-3.6zM363.47 101.42h3.6v1.1h-3.6zM366.1 86.87h1.6v14.6h-1.6zM365.1 86.47h3.6v1.1h-3.6zM365.1 100.77h3.6v1.1h-3.6zM365.4 86.42h1.6v12.12h-1.6zM364.4 86.02h3.6v1.1h-3.6zM364.4 97.84h3.6v1.1h-3.6zM366.8 86.42h1.6v12.48h-1.6zM365.8 86.02h3.6v1.1h-3.6zM365.8 98.2h3.6v1.1h-3.6zM368.2 85.97h1.6v12.51h-1.6zM367.2 85.57h3.6v1.1h-3.6zM367.2 97.79h3.6v1.1h-3.6zM369.6 86.43h1.6v11.96h-1.6zM368.6 86.03h3.6v1.1h-3.6zM368.6 97.69h3.6v1.1h-3.6zM371 86.47h1.6v12.14h-1.6zM370 86.07h3.6v1.1h-3.6zM370 97.9h3.6v1.1h-3.6zM372.4 86.63h1.6v11.84h-1.6zM371.4 86.23h3.6v1.1h-3.6zM371.4 97.77h3.6v1.1h-3.6zM373.8 86.11h1.6v12.29h-1.6zM372.8 85.71h3.6v1.1h-3.6zM372.8 97.71h3.6v1.1h-3.6zM375.2 86.16h1.6v12.76h-1.6zM374.2 85.76h3.6v1.1h-3.6zM374.2 98.22h3.6v1.1h-3.6zM378.7 80.88h1.6v12.33h-1.6zM377.7 80.48h3.6v1.1h-3.6zM377.7 92.51h3.6v1.1h-3.6zM380.45 81.22h1.6v12.5h-1.6zM379.45 80.82h3.6v1.1h-3.6zM379.45 93.01h3.6v1.1h-3.6zM382.2 81.03h1.6v12.17h-1.6zM381.2 80.63h3.6v1.1h-3.6zM381.2 92.5h3.6v1.1h-3.6zM407.2 88.25h1.6v12.24h-1.6zM406.2 87.85h3.6v1.1h-3.6zM406.2 99.79h3.6v1.1h-3.6zM408.7 88.43h1.6v12.65h-1.6zM407.7 88.03h3.6v1.1h-3.6zM407.7 100.38h3.6v1.1h-3.6zM410.2 88.66h1.6v12.49h-1.6zM409.2 88.26h3.6v1.1h-3.6zM409.2 100.45h3.6v1.1h-3.6zM411.7 88.38h1.6v12.2h-1.6zM410.7 87.98h3.6v1.1h-3.6zM410.7 99.88h3.6v1.1h-3.6zM413.2 88.67h1.6v11.8h-1.6zM412.2 88.27h3.6v1.1h-3.6zM412.2 99.77h3.6v1.1h-3.6zM414.7 88.42h1.6v12.3h-1.6zM413.7 88.02h3.6v1.1h-3.6zM413.7 100.01h3.6v1.1h-3.6zM416.2 88.27h1.6v12.18h-1.6zM415.2 87.87h3.6v1.1h-3.6zM415.2 99.75h3.6v1.1h-3.6zM415 94.9h1.6v14.62h-1.6zM414 94.5h3.6v1.1h-3.6zM414 108.82h3.6v1.1h-3.6zM416.5 95.32h1.6v13.67h-1.6zM415.5 94.92h3.6v1.1h-3.6zM415.5 108.3h3.6v1.1h-3.6zM418 95.23h1.6v14.2h-1.6zM417 94.83h3.6v1.1h-3.6zM417 108.73h3.6v1.1h-3.6zM419.5 94.68h1.6v14.5h-1.6zM418.5 94.28h3.6v1.1h-3.6zM418.5 108.48h3.6v1.1h-3.6zM421 95.29h1.6v13.69h-1.6zM420 94.89h3.6v1.1h-3.6zM420 108.29h3.6v1.1h-3.6zM422.5 95.28h1.6v13.59h-1.6zM421.5 94.88h3.6v1.1h-3.6zM421.5 108.17h3.6v1.1h-3.6zM424 95.22h1.6v14.17h-1.6zM423 94.82h3.6v1.1h-3.6zM423 108.69h3.6v1.1h-3.6zM435.5 96.47h1.6v13.02h-1.6zM434.5 96.07h3.6v1.1h-3.6zM434.5 108.79h3.6v1.1h-3.6zM437.12 96.63h1.6v13.34h-1.6zM436.12 96.23h3.6v1.1h-3.6zM436.12 109.27h3.6v1.1h-3.6zM438.75 96.69h1.6v12.95h-1.6zM437.75 96.29h3.6v1.1h-3.6zM437.75 108.94h3.6v1.1h-3.6zM440.38 96.88h1.6v12.75h-1.6zM439.38 96.48h3.6v1.1h-3.6zM439.38 108.93h3.6v1.1h-3.6zM442 96.67h1.6v12.97h-1.6zM441 96.27h3.6v1.1h-3.6zM441 108.94h3.6v1.1h-3.6zM441.2 98.28h1.6v11.11h-1.6zM440.2 97.88h3.6v1.1h-3.6zM440.2 108.69h3.6v1.1h-3.6zM442.64 98.41h1.6v10.36h-1.6zM441.64 98.01h3.6v1.1h-3.6zM441.64 108.07h3.6v1.1h-3.6zM444.08 98.08h1.6v11.34h-1.6zM443.08 97.68h3.6v1.1h-3.6zM443.08 108.72h3.6v1.1h-3.6zM445.52 98.02h1.6v10.91h-1.6zM444.52 97.62h3.6v1.1h-3.6zM444.52 108.23h3.6v1.1h-3.6zM446.96 98.1h1.6v11.3h-1.6zM445.96 97.7h3.6v1.1h-3.6zM445.96 108.7h3.6v1.1h-3.6zM448.4 98.31h1.6v10.96h-1.6zM447.4 97.91h3.6v1.1h-3.6zM447.4 108.57h3.6v1.1h-3.6zM447.8 93.69h1.6v11.88h-1.6zM446.8 93.29h3.6v1.1h-3.6zM446.8 104.88h3.6v1.1h-3.6zM449.23 93.37h1.6v12.03h-1.6zM448.23 92.97h3.6v1.1h-3.6zM448.23 104.7h3.6v1.1h-3.6zM450.67 93.21h1.6v12.08h-1.6zM449.67 92.81h3.6v1.1h-3.6zM449.67 104.59h3.6v1.1h-3.6zM452.1 93.32h1.6v11.87h-1.6zM451.1 92.92h3.6v1.1h-3.6zM451.1 104.5h3.6v1.1h-3.6zM453.53 93.54h1.6v11.84h-1.6zM452.53 93.14h3.6v1.1h-3.6zM452.53 104.68h3.6v1.1h-3.6zM454.97 93.77h1.6v12.07h-1.6zM453.97 93.37h3.6v1.1h-3.6zM453.97 105.14h3.6v1.1h-3.6zM456.4 93.21h1.6v12.01h-1.6zM455.4 92.81h3.6v1.1h-3.6zM455.4 104.52h3.6v1.1h-3.6zM457.83 93.65h1.6v11.82h-1.6zM456.83 93.25h3.6v1.1h-3.6zM456.83 104.76h3.6v1.1h-3.6zM459.27 93.44h1.6v12.14h-1.6zM458.27 93.04h3.6v1.1h-3.6zM458.27 104.88h3.6v1.1h-3.6zM460.7 93.67h1.6v12.07h-1.6zM459.7 93.27h3.6v1.1h-3.6zM459.7 105.04h3.6v1.1h-3.6zM460.1 89.23h1.6v13.5h-1.6zM459.1 88.83h3.6v1.1h-3.6zM459.1 102.04h3.6v1.1h-3.6zM461.8 89.55h1.6v12.86h-1.6zM460.8 89.15h3.6v1.1h-3.6zM460.8 101.71h3.6v1.1h-3.6zM463.5 89.29h1.6v13.03h-1.6zM462.5 88.89h3.6v1.1h-3.6zM462.5 101.62h3.6v1.1h-3.6zM465.2 89.26h1.6v13.51h-1.6zM464.2 88.86h3.6v1.1h-3.6zM464.2 102.07h3.6v1.1h-3.6zM473.2 88.08h1.6v12.45h-1.6zM472.2 87.68h3.6v1.1h-3.6zM472.2 99.83h3.6v1.1h-3.6zM475 88.21h1.6v12.21h-1.6zM474 87.81h3.6v1.1h-3.6zM474 99.71h3.6v1.1h-3.6zM476.8 88.31h1.6v12.64h-1.6zM475.8 87.91h3.6v1.1h-3.6zM475.8 100.24h3.6v1.1h-3.6z" fill="#ffa500"/>
<path d="M159.1 98h0.6v9.5h-0.6zM232.7 97h0.6v11.8h-0.6zM264.9 97h0.6v9.5h-0.6zM412.2 90h0.6v9.5h-0.6zM440.7 98.5h0.6v10h-0.6z" fill="#fff"/>
<path d="M21 106h1.8v1.4h-1.8zM25.8 106h1.8v1.4h-1.8zM35.5 106h1.8v1.4h-1.8zM46.9 106h1.8v1.4h-1.8zM51.4 98.8h1.8v1.4h-1.8z" fill="#111"/>
<polyline points="53.9,106.5 54.5,106.5 56,106.5 57.5,106.5 58.1,106.5" fill="none" stroke="#111" stroke-width="1.4"/>
<path d="M60.5 105.6h1.8v1.4h-1.8zM64.5 105.6h1.8v1.4h-1.8zM67.9 102.1h1.8v1.4h-1.8zM72.5 98.1h1.8v1.4h-1.8z" fill="#111"/>
<polyline points="74.4,105.5 75,105.5 76.4,105.5 77.8,105.5 79.2,105.5 80.6,105.5 82,105.5 82.6,105.5" fill="none" stroke="#111" stroke-width="1.4"/>
<polyline points="81.9,102.5 82.5,102.5 83.83,102.5 85.17,102.5 86.5,102.5 87.1,102.5" fill="none" stroke="#111" stroke-width="1.4"/>
<polyline points="85.9,99.5 86.5,99.5 88,99.5 89.5,100.5 91,100.5 92.5,100.5 93.1,100.5" fill="none" stroke="#111" stroke-width="1.4"/>
<polyline points="90.4,94.5 91,94.5 92.5,94.5 94,94.5 95.5,94.5 96.1,94.5" fill="none" stroke="#111" stroke-width="1.4"/>
<polyline points="95.4,102.5 96,102.5 97.62,102.5 99.25,102.5 100.88,102.5 102.5,102.5 103.1,102.5" fill="none" stroke="#111" stroke-width="1.4"/>
<polyline points="101.9,104.5 102.5,104.5 103.83,104.5 105.17,104.5 106.5,104.5 107.1,104.5" fill="none" stroke="#111" stroke-width="1.4"/>
<polyline points="106.4,97.5 107,97.5 108.5,97.5 110,97.5 111.5,97.5 113,97.5 113.6,97.5" fill="none" stroke="#111" stroke-width="1.4"/>
<polyline points="112.4,98.5 113,98.5 114.4,98.5 115.8,98.5 117.2,98.5 118.6,97.5 120,97.5 120.6,97.5" fill="none" stroke="#111" stroke-width="1.4"/>
<polyline points="118.4,102.5 119,102.5 120.67,102.5 122.33,102.5 124,102.5 124.6,102.5" fill="none" stroke="#111" stroke-width="1.4"/>
<polyline points="140.2,89.5 140.8,89.5 142.4,89.5 144,89.5 144.6,89.5" fill="none" stroke="#111" stroke-width="1.4"/>
<polyline points="143.9,103.5 144.5,103.5 146.17,103.5 147.83,103.5 149.5,103.5 150.1,103.5" fill="none" stroke="#111" stroke-width="1.4"/>
<polyline points="161.4,101.5 162,101.5 163.36,100.5 164.72,101.5 166.08,101.5 167.44,101.5 168.8,101.5 169.4,101.5" fill="none" stroke="#111" stroke-width="1.4"/>
<polyline points="167.1,103.5 167.7,103.5 169.22,103.5 170.73,103.5 172.25,103.5 173.77,103.5 175.28,103.5 176.8,103.5 177.4,103.5" fill="none" stroke="#111" stroke-width="1.4"/>
<polyline points="176.2,100.5 176.8,100.5 178.18,100.5 179.56,100.5 180.94,100.5 182.32,100.5 183.7,100.5 184.3,100.5" fill="none" stroke="#111" stroke-width="1.4"/>
<polyline points="183.1,103.5 183.7,103.5 185.11,103.5 186.52,102.5 187.94,102.5 189.35,103.5 190.76,103.5 192.18,102.5 193.59,103.5 195,102.5 195.6,102.5" fill="none" stroke="#111" stroke-width="1.4"/>
<polyline points="193.4,104.5 194,104.5 195.4,104.5 196.8,105.5 198.2,104.5 199.6,105.5 200.2,105.5" fill="none" stroke="#111" stroke-width="1.4"/>
<polyline points="197.9,102.5 198.5,102.5 199.94,102.5 201.38,102.5 202.82,102.5 204.26,102.5 205.7,102.5 206.3,102.5" fill="none" stroke="#111" stroke-width="1.4"/>
<polyline points="204,104.5 204.6,104.5 206.18,104.5 207.76,104.5 209.34,103.5 210.92,104.5 212.5,103.5 213.1,103.5" fill="none" stroke="#111" stroke-width="1.4"/>
<polyline points="210.8,100.5 211.4,100.5 212.8,101.5 214.2,101.5 215.6,101.5 217,100.5 217.6,100.5" fill="none" stroke="#111" stroke-width="1.4"/>
<polyline points="216.4,97.5 217,97.5 218.45,97.5 219.9,97.5 221.35,97.5 222.8,97.5 223.4,97.5" fill="none" stroke="#111" stroke-width="1.4"/>
<polyline points="218.8,104.5 219.4,104.5 221,105.5 222.6,104.5 224.2,104.5 225.8,105.5 227.4,105.5 228,105.5" fill="none" stroke="#111" stroke-width="1.4"/>
<polyline points="226.8,103.5 227.4,103.5 229.6,103.5 230.2,103.5" fill="none" stroke="#111" stroke-width="1.4"/>
<path d="M232.1 103.8h1.8v1.4h-1.8z" fill="#111"/>
<polyline points="233.4,103.5 234,103.5 235.5,103.5 237,103.5 238.5,103.5 240,103.5 240.6,103.5" fill="none" stroke="#111" stroke-width="1.4"/>
<polyline points="237.4,101.5 238,101.5 239.5,101.5 241,101.5 242.5,101.5 243.1,101.5" fill="none" stroke="#111" stroke-width="1.4"/>
<polyline points="245.2,103.5 245.8,103.5 247.2,103.5 248.6,103.5 250,103.5 251.4,103.5 252.8,103.5 254.2,103.5 254.8,103.5" fill="none" stroke="#111" stroke-width="1.4"/>
<polyline points="252.9,101.5 253.5,101.5 255.02,102.5 256.53,101.5 258.05,102.5 259.57,102.5 261.08,102.5 262.6,102.5 263.2,102.5" fill="none" stroke="#111" stroke-width="1.4"/>
<path d="M264.3 101.4h1.8v1.4h-1.8z" fill="#111"/>
<polyline points="266.4,110.5 267,110.5 268.4,109.5 269.8,109.5 271.2,109.5 272.6,109.5 274,109.5 275.4,109.5 276.8,109.5 277.4,109.5" fill="none" stroke="#111" stroke-width="1.4"/>
<polyline points="283.8,109.5 284.4,109.5 285.8,109.5 287.2,109.5 288.6,109.5 290,109.5 291.4,109.5 292.8,109.5 293.4,109.5" fill="none" stroke="#111" stroke-width="1.4"/>
<path d="M293.2 106h1.8v1.4h-1.8z" fill="#111"/>
<polyline points="296.1,110.5 296.7,110.5 298.12,110.5 299.54,110.5 300.96,110.5 302.38,110.5 303.8,110.5 304.4,110.5" fill="none" stroke="#111" stroke-width="1.4"/>
<polyline points="323.8,109.5 324.4,109.5 325.9,109.5 327.4,109.5 328.9,109.5 329.5,109.5" fill="none" stroke="#111" stroke-width="1.4"/>
<polyline points="388.9,103.5 389.5,103.5 391.5,103.5 392.1,103.5" fill="none" stroke="#111" stroke-width="1.4"/>
<polyline points="389.9,100.5 390.5,100.5 392.23,99.5 393.97,100.5 395.7,99.5 396.3,99.5" fill="none" stroke="#111" stroke-width="1.4"/>
<path d="M396.7 105h1.8v1.4h-1.8zM401.6 103.6h1.8v1.4h-1.8zM404.8 105.3h1.8v1.4h-1.8z" fill="#111"/>
<polyline points="123.9,103.5 124.5,103.5 126.06,103.5 127.62,103.5 129.19,104.5 130.75,104.5 132.31,104.5 133.88,104.5 135.44,104.5 137,104.5 137.6,104.5" fill="none" stroke="#111" stroke-width="1.4"/>
<polyline points="146.4,102.5 147,102.5 148.55,103.5 150.09,102.5 151.64,102.5 153.18,102.5 154.73,103.5 156.27,103.5 157.82,103.5 159.36,103.5 160.91,103.5 162.45,103.5 164,103.5 164.6,103.5" fill="none" stroke="#111" stroke-width="1.4"/>
<polyline points="303.2,99.5 303.8,99.5 305.32,98.5 306.85,98.5 308.38,98.5 309.9,97.5 311.43,97.5 312.95,97.5 314.48,97.5 316,96.5 316.6,96.5" fill="none" stroke="#111" stroke-width="1.4"/>
<polyline points="315.4,96.5 316,96.5 317.6,96.5 319.2,96.5 320.8,96.5 322.4,96.5 323,96.5" fill="none" stroke="#111" stroke-width="1.4"/>
<polyline points="333.4,93.5 334,93.5 335.5,94.5 337,94.5 338.5,95.5 340,96.5 340.6,96.5" fill="none" stroke="#111" stroke-width="1.4"/>
<polyline points="339.4,97.5 340,97.5 341.43,97.5 342.85,97.5 344.27,97.5 345.7,97.5 346.3,97.5" fill="none" stroke="#111" stroke-width="1.4"/>
<polyline points="345.1,93.5 345.7,93.5 347.27,93.5 348.85,93.5 350.43,94.5 352,95.5 352.6,95.5" fill="none" stroke="#111" stroke-width="1.4"/>
<polyline points="351.4,96.5 352,96.5 353.56,96.5 355.12,96.5 356.68,96.5 358.24,96.5 359.8,96.5 360.4,96.5" fill="none" stroke="#111" stroke-width="1.4"/>
<polyline points="359.8,94.5 360.4,94.5 362.02,94.5 363.65,94.5 365.27,94.5 366.9,94.5 367.5,94.5" fill="none" stroke="#111" stroke-width="1.4"/>
<polyline points="365.6,92.5 366.2,92.5 367.6,92.5 369,92.5 370.4,92.5 371.8,92.5 373.2,92.5 374.6,92.5 376,92.5 376.6,92.5" fill="none" stroke="#111" stroke-width="1.4"/>
<polyline points="378.9,87.5 379.5,87.5 381.25,87.5 383,87.5 383.6,87.5" fill="none" stroke="#111" stroke-width="1.4"/>
<polyline points="407.4,94.5 408,94.5 409.5,95.5 411,95.5 412.5,95.5 414,95.5 415.5,94.5 417,94.5 417.6,94.5" fill="none" stroke="#111" stroke-width="1.4"/>
<polyline points="415.2,100.5 415.8,100.5 417.3,101.5 418.8,101.5 420.3,102.5 421.8,102.5 423.3,102.5 424.8,103.5 425.4,103.5" fill="none" stroke="#111" stroke-width="1.4"/>
<polyline points="435.7,103.5 436.3,103.5 437.93,103.5 439.55,103.5 441.18,103.5 442.8,103.5 443.4,103.5" fill="none" stroke="#111" stroke-width="1.4"/>
<polyline points="441.4,103.5 442,103.5 443.44,103.5 444.88,103.5 446.32,103.5 447.76,103.5 449.2,103.5 449.8,103.5" fill="none" stroke="#111" stroke-width="1.4"/>
<polyline points="448,99.5 448.6,99.5 450.03,99.5 451.47,99.5 452.9,99.5 454.33,99.5 455.77,99.5 457.2,99.5 458.63,99.5 460.07,99.5 461.5,99.5 462.1,99.5" fill="none" stroke="#111" stroke-width="1.4"/>
<polyline points="460.3,96.5 460.9,96.5 462.6,96.5 464.3,96.5 466,96.5 466.6,96.5" fill="none" stroke="#111" stroke-width="1.4"/>
<polyline points="473.4,93.5 474,93.5 475.8,93.5 477.6,93.5 478.2,93.5" fill="none" stroke="#111" stroke-width="1.4"/>
<line x1="376" y1="98.6" x2="379.2" y2="98.6" stroke="#111" stroke-width="1.2"/>
<line x1="383" y1="77.9" x2="387" y2="77.9" stroke="#111" stroke-width="1.2"/>
<line x1="425.3" y1="96.2" x2="428.5" y2="96.2" stroke="#111" stroke-width="1.2"/>
<line x1="428.5" y1="103" x2="437" y2="103" stroke="#111" stroke-width="1.2"/>
<line x1="466" y1="91.8" x2="473.8" y2="91.8" stroke="#111" stroke-width="1.2"/>
<line x1="20" y1="116.2" x2="25" y2="116.2" stroke="#111" stroke-width="1.7" stroke-linecap="round" stroke-dasharray="2.2 0.5"/>
<line x1="27" y1="116.2" x2="30" y2="116.2" stroke="#111" stroke-width="1.7" stroke-linecap="round" stroke-dasharray="2.2 0.5"/>
<line x1="31.5" y1="116.2" x2="36" y2="116.2" stroke="#111" stroke-width="1.7" stroke-linecap="round" stroke-dasharray="2.2 0.5"/>
<line x1="38" y1="116.2" x2="42" y2="116.2" stroke="#111" stroke-width="1.7" stroke-linecap="round" stroke-dasharray="2.2 0.5"/>
<line x1="43" y1="116.2" x2="48" y2="116.2" stroke="#111" stroke-width="1.7" stroke-linecap="round" stroke-dasharray="2.2 0.5"/>
<line x1="50" y1="116.2" x2="53" y2="116.2" stroke="#111" stroke-width="1.7" stroke-linecap="round" stroke-dasharray="2.2 0.5"/>
<line x1="54.5" y1="116.2" x2="60" y2="116.2" stroke="#111" stroke-width="1.7" stroke-linecap="round" stroke-dasharray="2.2 0.5"/>
<line x1="61" y1="116.2" x2="68" y2="116.2" stroke="#111" stroke-width="1.7" stroke-linecap="round" stroke-dasharray="2.2 0.5"/>
<line x1="70" y1="116.2" x2="73" y2="116.2" stroke="#111" stroke-width="1.7" stroke-linecap="round" stroke-dasharray="2.2 0.5"/>
<line x1="75.5" y1="116.2" x2="77.5" y2="116.2" stroke="#111" stroke-width="1.7" stroke-linecap="round" stroke-dasharray="2.2 0.5"/>
<circle cx="118.4" cy="116.2" r="0.95" fill="#111"/>
<circle cx="128.8" cy="116.2" r="0.95" fill="#111"/>
<circle cx="130.4" cy="116.2" r="0.95" fill="#111"/>
<circle cx="140" cy="116.2" r="0.95" fill="#111"/>
<circle cx="159.5" cy="116.2" r="0.95" fill="#111"/>
<circle cx="169" cy="116.2" r="0.95" fill="#111"/>
<circle cx="188" cy="116.2" r="0.95" fill="#111"/>
<line x1="232" y1="116.2" x2="233.8" y2="116.2" stroke="#111" stroke-width="1.7" stroke-linecap="round" stroke-dasharray="2.2 0.5"/>
<line x1="238.5" y1="116.2" x2="245" y2="116.2" stroke="#111" stroke-width="1.7" stroke-linecap="round" stroke-dasharray="2.2 0.5"/>
<line x1="252" y1="116.2" x2="255.6" y2="116.2" stroke="#111" stroke-width="1.7" stroke-linecap="round" stroke-dasharray="2.2 0.5"/>
<line x1="265" y1="116.2" x2="268" y2="116.2" stroke="#111" stroke-width="1.7" stroke-linecap="round" stroke-dasharray="2.2 0.5"/>
<line x1="276.3" y1="116.2" x2="285.4" y2="116.2" stroke="#111" stroke-width="1.7" stroke-linecap="round" stroke-dasharray="2.2 0.5"/>
<circle cx="287" cy="116.2" r="0.95" fill="#111"/>
<circle cx="288.5" cy="116.2" r="0.95" fill="#111"/>
<circle cx="290.5" cy="116.2" r="0.95" fill="#111"/>
<circle cx="292.5" cy="116.2" r="0.95" fill="#111"/>
<line x1="295" y1="116.2" x2="296.6" y2="116.2" stroke="#111" stroke-width="1.7" stroke-linecap="round" stroke-dasharray="2.2 0.5"/>
<circle cx="303.3" cy="116.2" r="0.95" fill="#111"/>
<line x1="322" y1="116.2" x2="324" y2="116.2" stroke="#111" stroke-width="1.7" stroke-linecap="round" stroke-dasharray="2.2 0.5"/>
<line x1="327.4" y1="116.2" x2="333.7" y2="116.2" stroke="#111" stroke-width="1.7" stroke-linecap="round" stroke-dasharray="2.2 0.5"/>
<line x1="359" y1="116.2" x2="361" y2="116.2" stroke="#111" stroke-width="1.7" stroke-linecap="round" stroke-dasharray="2.2 0.5"/>
<line x1="387.4" y1="116.2" x2="400" y2="116.2" stroke="#111" stroke-width="1.7" stroke-linecap="round" stroke-dasharray="2.2 0.5"/>
<line x1="401" y1="116.2" x2="408.7" y2="116.2" stroke="#111" stroke-width="1.7" stroke-linecap="round" stroke-dasharray="2.2 0.5"/>
<circle cx="413" cy="116.2" r="0.95" fill="#111"/>
<circle cx="423" cy="116.2" r="0.95" fill="#111"/>
<circle cx="431.5" cy="116.2" r="0.95" fill="#111"/>
<circle cx="441.5" cy="116.2" r="0.95" fill="#111"/>
<path d="M245.3,111.6 L247.9,114.2 M247.9,111.6 L245.3,114.2" stroke="#ff4800" stroke-width="0.9"/>
<clipPath id="cc"><rect x="20.45" y="130.3" width="458" height="43.95"/></clipPath>
<g clip-path="url(#cc)">
<polyline points="82,167.8 90,167.5 100,168 110,167.3 120,168 130,167.8 140,167.5 148,167 155,165.6 162,167 170,167.5 180,168 190,167.3 200,167.8 210,168 220,168.3 230,168.3 240,168.5" fill="none" stroke="#add8e6" stroke-width="1.4" stroke-linejoin="round"/>
<circle cx="21.8" cy="165" r="0.9" fill="#add8e6"/>
<circle cx="26.5" cy="168" r="0.9" fill="#add8e6"/>
<circle cx="36" cy="163" r="0.9" fill="#add8e6"/>
<circle cx="37" cy="158.4" r="0.9" fill="#add8e6"/>
<circle cx="47.4" cy="162.7" r="0.9" fill="#add8e6"/>
<circle cx="52" cy="167.5" r="0.9" fill="#add8e6"/>
<circle cx="54" cy="167" r="0.9" fill="#add8e6"/>
<circle cx="56" cy="167.5" r="0.9" fill="#add8e6"/>
<circle cx="58" cy="168" r="0.9" fill="#add8e6"/>
<circle cx="62" cy="168.5" r="0.9" fill="#add8e6"/>
<circle cx="66" cy="168.5" r="0.9" fill="#add8e6"/>
<circle cx="268" cy="168" r="0.9" fill="#add8e6"/>
<circle cx="270" cy="167" r="0.9" fill="#add8e6"/>
<circle cx="272" cy="166.5" r="0.9" fill="#add8e6"/>
<circle cx="274" cy="167.5" r="0.9" fill="#add8e6"/>
<circle cx="276" cy="168" r="0.9" fill="#add8e6"/>
<circle cx="286" cy="168" r="0.9" fill="#add8e6"/>
<circle cx="288" cy="167" r="0.9" fill="#add8e6"/>
<circle cx="290" cy="167.5" r="0.9" fill="#add8e6"/>
<circle cx="297" cy="167" r="0.9" fill="#add8e6"/>
<circle cx="299" cy="166" r="0.9" fill="#add8e6"/>
<circle cx="301" cy="165.3" r="0.9" fill="#add8e6"/>
<circle cx="303" cy="165" r="0.9" fill="#add8e6"/>
<circle cx="325" cy="156" r="0.9" fill="#add8e6"/>
<circle cx="328" cy="158.4" r="0.9" fill="#add8e6"/>
<circle cx="327" cy="162.7" r="0.9" fill="#add8e6"/>
<circle cx="389" cy="164.4" r="0.9" fill="#add8e6"/>
<circle cx="395.2" cy="157.4" r="0.9" fill="#add8e6"/>
<circle cx="398" cy="163" r="0.9" fill="#add8e6"/>
<circle cx="406.6" cy="165.6" r="0.9" fill="#add8e6"/>
<path d="M69.3 168.99h1.4v4.78h-1.4zM68.5 168.59h3v1.05h-3zM68.5 173.12h3v1.05h-3zM70.57 169.14h1.4v4.93h-1.4zM69.77 168.74h3v1.05h-3zM69.77 173.42h3v1.05h-3zM71.83 168.79h1.4v4.22h-1.4zM71.03 168.39h3v1.05h-3zM71.03 172.36h3v1.05h-3zM73.1 168.83h1.4v4.13h-1.4zM72.3 168.43h3v1.05h-3zM72.3 172.31h3v1.05h-3zM74.37 169.2h1.4v4.63h-1.4zM73.57 168.8h3v1.05h-3zM73.57 173.18h3v1.05h-3zM75.63 169.2h1.4v4.41h-1.4zM74.83 168.8h3v1.05h-3zM74.83 172.97h3v1.05h-3zM76.9 169.02h1.4v4.54h-1.4zM76.1 168.62h3v1.05h-3zM76.1 172.91h3v1.05h-3zM78.3 163.84h1.4v5.93h-1.4zM77.5 163.44h3v1.05h-3zM77.5 169.12h3v1.05h-3zM79.7 161.79h1.4v5.13h-1.4zM78.9 161.39h3v1.05h-3zM78.9 166.27h3v1.05h-3zM81.3 157.7h1.4v6.74h-1.4zM80.5 157.3h3v1.05h-3zM80.5 163.8h3v1.05h-3zM82.6 154.55h1.4v6.44h-1.4zM81.8 154.15h3v1.05h-3zM81.8 160.35h3v1.05h-3zM83.8 149.59h1.4v6.24h-1.4zM83 149.19h3v1.05h-3zM83 155.19h3v1.05h-3zM85.3 147.44h1.4v6.72h-1.4zM84.5 147.04h3v1.05h-3zM84.5 153.51h3v1.05h-3zM87.3 147.5h1.4v6.24h-1.4zM86.5 147.1h3v1.05h-3zM86.5 153.09h3v1.05h-3zM89.3 147.41h1.4v6.39h-1.4zM88.5 147.01h3v1.05h-3zM88.5 153.16h3v1.05h-3zM90.5 132.03h1.4v10.22h-1.4zM89.7 131.63h3v1.05h-3zM89.7 141.6h3v1.05h-3zM91.5 130.6h1.4v5.87h-1.4zM90.7 130.2h3v1.05h-3zM90.7 135.82h3v1.05h-3zM92.7 138.91h1.4v6.66h-1.4zM91.9 138.51h3v1.05h-3zM91.9 144.92h3v1.05h-3zM94.3 141.59h1.4v6.12h-1.4zM93.5 141.19h3v1.05h-3zM93.5 147.06h3v1.05h-3zM95.8 144.59h1.4v6.66h-1.4zM95 144.19h3v1.05h-3zM95 150.6h3v1.05h-3zM97.3 147.06h1.4v6.11h-1.4zM96.5 146.66h3v1.05h-3zM96.5 152.52h3v1.05h-3zM98.8 149.31h1.4v6.83h-1.4zM98 148.91h3v1.05h-3zM98 155.5h3v1.05h-3zM100.8 152.76h1.4v6.34h-1.4zM100 152.36h3v1.05h-3zM100 158.45h3v1.05h-3zM102.8 153.77h1.4v7.14h-1.4zM102 153.37h3v1.05h-3zM102 160.27h3v1.05h-3zM104.8 153.51h1.4v6.68h-1.4zM104 153.11h3v1.05h-3zM104 159.54h3v1.05h-3zM106.7 149.64h1.4v6.5h-1.4zM105.9 149.24h3v1.05h-3zM105.9 155.49h3v1.05h-3zM107.8 147.69h1.4v7.2h-1.4zM107 147.29h3v1.05h-3zM107 154.24h3v1.05h-3zM109.1 135.77h1.4v8.24h-1.4zM108.3 135.37h3v1.05h-3zM108.3 143.36h3v1.05h-3zM110.1 130.6h1.4v7.7h-1.4zM109.3 130.2h3v1.05h-3zM109.3 137.65h3v1.05h-3zM111.1 133.06h1.4v9.08h-1.4zM110.3 132.66h3v1.05h-3zM110.3 141.5h3v1.05h-3zM112.3 141.95h1.4v7.98h-1.4zM111.5 141.55h3v1.05h-3zM111.5 149.28h3v1.05h-3zM114.3 143.4h1.4v11.06h-1.4zM113.5 143h3v1.05h-3zM113.5 153.8h3v1.05h-3zM116.3 146.87h1.4v10.2h-1.4zM115.5 146.47h3v1.05h-3zM115.5 156.42h3v1.05h-3zM118.3 149.28h1.4v8.66h-1.4zM117.5 148.88h3v1.05h-3zM117.5 157.29h3v1.05h-3zM120.3 152.57h1.4v7.09h-1.4zM119.5 152.17h3v1.05h-3zM119.5 159.01h3v1.05h-3zM121.8 156.3h1.4v6.75h-1.4zM121 155.9h3v1.05h-3zM121 162.39h3v1.05h-3zM123.3 161.09h1.4v5.61h-1.4zM122.5 160.69h3v1.05h-3zM122.5 166.05h3v1.05h-3zM124.8 162.05h1.4v4.84h-1.4zM124 161.65h3v1.05h-3zM124 166.24h3v1.05h-3zM126.3 162.96h1.4v5.11h-1.4zM125.5 162.56h3v1.05h-3zM125.5 167.42h3v1.05h-3zM127.53 162.73h1.4v4.59h-1.4zM126.73 162.33h3v1.05h-3zM126.73 166.66h3v1.05h-3zM128.77 162.83h1.4v5.16h-1.4zM127.97 162.43h3v1.05h-3zM127.97 167.34h3v1.05h-3zM130 162.68h1.4v4.15h-1.4zM129.2 162.28h3v1.05h-3zM129.2 166.18h3v1.05h-3zM131.15 161.67h1.4v5.37h-1.4zM130.35 161.27h3v1.05h-3zM130.35 166.39h3v1.05h-3zM132.3 160.75h1.4v4.46h-1.4zM131.5 160.35h3v1.05h-3zM131.5 164.57h3v1.05h-3zM134.3 164.11h1.4v4.47h-1.4zM133.5 163.71h3v1.05h-3zM133.5 167.92h3v1.05h-3zM135.95 164.7h1.4v4.74h-1.4zM135.15 164.3h3v1.05h-3zM135.15 168.8h3v1.05h-3zM137.6 165.66h1.4v4.19h-1.4zM136.8 165.26h3v1.05h-3zM136.8 169.21h3v1.05h-3zM139.3 161.6h1.4v5.27h-1.4zM138.5 161.2h3v1.05h-3zM138.5 166.21h3v1.05h-3zM140.3 150.42h1.4v6.02h-1.4zM139.5 150.02h3v1.05h-3zM139.5 155.78h3v1.05h-3zM141.8 150.65h1.4v5.22h-1.4zM141 150.25h3v1.05h-3zM141 155.22h3v1.05h-3zM143.05 151.53h1.4v5.48h-1.4zM142.25 151.13h3v1.05h-3zM142.25 156.36h3v1.05h-3zM144.3 153.28h1.4v5.46h-1.4zM143.5 152.88h3v1.05h-3zM143.5 158.09h3v1.05h-3zM145.8 153.55h1.4v5.3h-1.4zM145 153.15h3v1.05h-3zM145 158.2h3v1.05h-3zM147.3 154.14h1.4v6.08h-1.4zM146.5 153.74h3v1.05h-3zM146.5 159.57h3v1.05h-3zM149.3 156.8h1.4v5.67h-1.4zM148.5 156.4h3v1.05h-3zM148.5 161.82h3v1.05h-3zM150.8 160.18h1.4v4.05h-1.4zM150 159.78h3v1.05h-3zM150 163.58h3v1.05h-3zM152.3 153.2h1.4v5.14h-1.4zM151.5 152.8h3v1.05h-3zM151.5 157.69h3v1.05h-3zM154.3 150.75h1.4v5.66h-1.4zM153.5 150.35h3v1.05h-3zM153.5 155.76h3v1.05h-3zM155.6 149.92h1.4v5.37h-1.4zM154.8 149.52h3v1.05h-3zM154.8 154.64h3v1.05h-3zM157.3 154.09h1.4v5.7h-1.4zM156.5 153.69h3v1.05h-3zM156.5 159.14h3v1.05h-3zM159.3 157.55h1.4v5.79h-1.4zM158.5 157.15h3v1.05h-3zM158.5 162.69h3v1.05h-3zM161.3 156.19h1.4v5.53h-1.4zM160.5 155.79h3v1.05h-3zM160.5 161.07h3v1.05h-3zM162.8 152.75h1.4v5.74h-1.4zM162 152.35h3v1.05h-3zM162 157.84h3v1.05h-3zM164.8 152.85h1.4v5.28h-1.4zM164 152.45h3v1.05h-3zM164 157.48h3v1.05h-3zM166.3 155.24h1.4v5.94h-1.4zM165.5 154.84h3v1.05h-3zM165.5 160.53h3v1.05h-3zM167.8 160.36h1.4v5.22h-1.4zM167 159.96h3v1.05h-3zM167 164.92h3v1.05h-3zM169.3 163.91h1.4v4.13h-1.4zM168.5 163.51h3v1.05h-3zM168.5 167.39h3v1.05h-3zM170.8 163.94h1.4v4.52h-1.4zM170 163.54h3v1.05h-3zM170 167.81h3v1.05h-3zM172.3 164.41h1.4v4.53h-1.4zM171.5 164.01h3v1.05h-3zM171.5 168.29h3v1.05h-3zM173.45 164.48h1.4v4.05h-1.4zM172.65 164.08h3v1.05h-3zM172.65 167.88h3v1.05h-3zM174.6 164.06h1.4v4.1h-1.4zM173.8 163.66h3v1.05h-3zM173.8 167.51h3v1.05h-3zM176.1 161.22h1.4v4.93h-1.4zM175.3 160.82h3v1.05h-3zM175.3 165.5h3v1.05h-3zM177.8 162.98h1.4v4.07h-1.4zM177 162.58h3v1.05h-3zM177 166.39h3v1.05h-3zM179.8 164.78h1.4v4.45h-1.4zM179 164.38h3v1.05h-3zM179 168.58h3v1.05h-3zM181.05 166.03h1.4v4.16h-1.4zM180.25 165.63h3v1.05h-3zM180.25 169.54h3v1.05h-3zM182.3 166.19h1.4v5.2h-1.4zM181.5 165.79h3v1.05h-3zM181.5 170.73h3v1.05h-3zM183.8 165.7h1.4v4.98h-1.4zM183 165.3h3v1.05h-3zM183 170.02h3v1.05h-3zM185.3 164.67h1.4v5.18h-1.4zM184.5 164.27h3v1.05h-3zM184.5 169.19h3v1.05h-3zM186.47 164.59h1.4v5.15h-1.4zM185.67 164.19h3v1.05h-3zM185.67 169.08h3v1.05h-3zM187.63 165.07h1.4v4.2h-1.4zM186.83 164.67h3v1.05h-3zM186.83 168.62h3v1.05h-3zM188.8 164.17h1.4v5.12h-1.4zM188 163.77h3v1.05h-3zM188 168.64h3v1.05h-3zM190.8 159.94h1.4v4.42h-1.4zM190 159.54h3v1.05h-3zM190 163.71h3v1.05h-3zM192.8 163.11h1.4v4.19h-1.4zM192 162.71h3v1.05h-3zM192 166.65h3v1.05h-3zM194.3 163.65h1.4v4.33h-1.4zM193.5 163.25h3v1.05h-3zM193.5 167.33h3v1.05h-3zM195.8 164.17h1.4v4.17h-1.4zM195 163.77h3v1.05h-3zM195 167.69h3v1.05h-3zM197.05 163.2h1.4v5.1h-1.4zM196.25 162.8h3v1.05h-3zM196.25 167.65h3v1.05h-3zM198.3 163.11h1.4v4.32h-1.4zM197.5 162.71h3v1.05h-3zM197.5 166.77h3v1.05h-3zM200.3 160.81h1.4v4.38h-1.4zM199.5 160.41h3v1.05h-3zM199.5 164.55h3v1.05h-3zM202.3 162.52h1.4v4.22h-1.4zM201.5 162.12h3v1.05h-3zM201.5 166.09h3v1.05h-3zM204.3 163.67h1.4v5.12h-1.4zM203.5 163.27h3v1.05h-3zM203.5 168.14h3v1.05h-3zM205.63 164.44h1.4v5.07h-1.4zM204.83 164.04h3v1.05h-3zM204.83 168.86h3v1.05h-3zM206.97 164.43h1.4v4.94h-1.4zM206.17 164.03h3v1.05h-3zM206.17 168.72h3v1.05h-3zM208.3 164.87h1.4v4.64h-1.4zM207.5 164.47h3v1.05h-3zM207.5 168.86h3v1.05h-3zM209.55 165.52h1.4v4.43h-1.4zM208.75 165.12h3v1.05h-3zM208.75 169.3h3v1.05h-3zM210.8 165.72h1.4v4.67h-1.4zM210 165.32h3v1.05h-3zM210 169.73h3v1.05h-3zM212.05 165.41h1.4v5.06h-1.4zM211.25 165.01h3v1.05h-3zM211.25 169.82h3v1.05h-3zM213.3 165.09h1.4v5.19h-1.4zM212.5 164.69h3v1.05h-3zM212.5 169.63h3v1.05h-3zM214.8 158.37h1.4v5.47h-1.4zM214 157.97h3v1.05h-3zM214 163.19h3v1.05h-3zM216.3 152.58h1.4v5.32h-1.4zM215.5 152.18h3v1.05h-3zM215.5 157.25h3v1.05h-3zM217.8 151.55h1.4v5.69h-1.4zM217 151.15h3v1.05h-3zM217 156.59h3v1.05h-3zM219.8 153.93h1.4v5.92h-1.4zM219 153.53h3v1.05h-3zM219 159.2h3v1.05h-3zM221.3 158.35h1.4v5.21h-1.4zM220.5 157.95h3v1.05h-3zM220.5 162.91h3v1.05h-3zM222.8 163.17h1.4v4.06h-1.4zM222 162.77h3v1.05h-3zM222 166.57h3v1.05h-3zM224.3 165.1h1.4v4.3h-1.4zM223.5 164.7h3v1.05h-3zM223.5 168.76h3v1.05h-3zM225.63 165.12h1.4v5.18h-1.4zM224.83 164.72h3v1.05h-3zM224.83 169.65h3v1.05h-3zM226.97 165.87h1.4v4.8h-1.4zM226.17 165.47h3v1.05h-3zM226.17 170.02h3v1.05h-3zM228.3 166.65h1.4v4h-1.4zM227.5 166.25h3v1.05h-3zM227.5 170h3v1.05h-3zM229.63 166.74h1.4v4.18h-1.4zM228.83 166.34h3v1.05h-3zM228.83 170.27h3v1.05h-3zM230.97 167.43h1.4v4.52h-1.4zM230.17 167.03h3v1.05h-3zM230.17 171.3h3v1.05h-3zM232.3 167.47h1.4v5.07h-1.4zM231.5 167.07h3v1.05h-3zM231.5 171.9h3v1.05h-3zM233.8 168.07h1.4v4.27h-1.4zM233 167.67h3v1.05h-3zM233 171.69h3v1.05h-3zM235.3 169.11h1.4v4.03h-1.4zM234.5 168.71h3v1.05h-3zM234.5 172.49h3v1.05h-3zM236.62 168.51h1.4v4.39h-1.4zM235.82 168.11h3v1.05h-3zM235.82 172.25h3v1.05h-3zM237.94 168.71h1.4v4.35h-1.4zM237.14 168.31h3v1.05h-3zM237.14 172.41h3v1.05h-3zM239.26 168.79h1.4v4.58h-1.4zM238.46 168.39h3v1.05h-3zM238.46 172.72h3v1.05h-3zM240.58 169.43h1.4v4.09h-1.4zM239.78 169.03h3v1.05h-3zM239.78 172.86h3v1.05h-3zM21.4 169.6h0.8v4h-0.8zM20.3 169.2h3v1.1h-3zM20.3 172.9h3v1.1h-3zM26.1 169.6h0.8v4h-0.8zM25 169.2h3v1.1h-3zM25 172.9h3v1.1h-3zM35.6 169.6h0.8v4h-0.8zM34.5 169.2h3v1.1h-3zM34.5 172.9h3v1.1h-3zM47.6 169.6h0.8v4h-0.8zM46.5 169.2h3v1.1h-3zM46.5 172.9h3v1.1h-3zM53.1 169.66h0.8v3.93h-0.8zM52 169.26h3v1.1h-3zM52 172.89h3v1.1h-3zM54.85 169.82h0.8v3.65h-0.8zM53.75 169.42h3v1.1h-3zM53.75 172.77h3v1.1h-3zM56.6 169.4h0.8v4.27h-0.8zM55.5 169h3v1.1h-3zM55.5 172.97h3v1.1h-3zM60.6 169.6h0.8v4h-0.8zM59.5 169.2h3v1.1h-3zM59.5 172.9h3v1.1h-3zM64.6 169.6h0.8v4h-0.8zM63.5 169.2h3v1.1h-3zM63.5 172.9h3v1.1h-3zM67.6 169.74h0.8v3.81h-0.8zM66.5 169.34h3v1.1h-3zM66.5 172.85h3v1.1h-3zM69.6 169.36h0.8v4.32h-0.8zM68.5 168.96h3v1.1h-3zM68.5 172.97h3v1.1h-3zM246.1 169.53h0.8v4.15h-0.8zM245 169.13h3v1.1h-3zM245 172.97h3v1.1h-3zM248.1 169.82h0.8v3.9h-0.8zM247 169.42h3v1.1h-3zM247 173.02h3v1.1h-3zM250.1 169.8h0.8v3.57h-0.8zM249 169.4h3v1.1h-3zM249 172.67h3v1.1h-3zM255.1 169.55h0.8v3.92h-0.8zM254 169.15h3v1.1h-3zM254 172.77h3v1.1h-3zM257.1 169.74h0.8v3.62h-0.8zM256 169.34h3v1.1h-3zM256 172.66h3v1.1h-3zM259.1 169.82h0.8v3.6h-0.8zM258 169.42h3v1.1h-3zM258 172.72h3v1.1h-3zM261.1 169.65h0.8v3.95h-0.8zM260 169.25h3v1.1h-3zM260 172.9h3v1.1h-3zM263.1 169.76h0.8v3.68h-0.8zM262 169.36h3v1.1h-3zM262 172.74h3v1.1h-3zM267.6 169.5h0.8v3.87h-0.8zM266.5 169.1h3v1.1h-3zM266.5 172.67h3v1.1h-3zM269.73 169.74h0.8v3.97h-0.8zM268.62 169.34h3v1.1h-3zM268.62 173.01h3v1.1h-3zM271.85 169.77h0.8v3.95h-0.8zM270.75 169.37h3v1.1h-3zM270.75 173.02h3v1.1h-3zM273.98 169.72h0.8v3.86h-0.8zM272.88 169.32h3v1.1h-3zM272.88 172.88h3v1.1h-3zM276.1 169.4h0.8v4.06h-0.8zM275 169h3v1.1h-3zM275 172.77h3v1.1h-3zM285.1 169.52h0.8v4.21h-0.8zM284 169.12h3v1.1h-3zM284 173.02h3v1.1h-3zM286.77 169.77h0.8v3.93h-0.8zM285.67 169.37h3v1.1h-3zM285.67 173.01h3v1.1h-3zM288.43 169.63h0.8v3.94h-0.8zM287.33 169.23h3v1.1h-3zM287.33 172.87h3v1.1h-3zM290.1 169.61h0.8v3.87h-0.8zM289 169.21h3v1.1h-3zM289 172.78h3v1.1h-3zM294.1 169.6h0.8v4h-0.8zM293 169.2h3v1.1h-3zM293 172.9h3v1.1h-3zM298.1 169.83h0.8v3.63h-0.8zM297 169.43h3v1.1h-3zM297 172.76h3v1.1h-3zM299.6 169.36h0.8v4.12h-0.8zM298.5 168.96h3v1.1h-3zM298.5 172.78h3v1.1h-3zM301.1 169.72h0.8v4.1h-0.8zM300 169.32h3v1.1h-3zM300 173.12h3v1.1h-3zM324.6 169.51h0.8v4.28h-0.8zM323.5 169.11h3v1.1h-3zM323.5 173.09h3v1.1h-3zM326.1 169.47h0.8v4.33h-0.8zM325 169.07h3v1.1h-3zM325 173.1h3v1.1h-3zM327.6 169.7h0.8v3.99h-0.8zM326.5 169.3h3v1.1h-3zM326.5 172.98h3v1.1h-3zM388.8 169.58h0.8v4.19h-0.8zM387.7 169.18h3v1.1h-3zM387.7 173.07h3v1.1h-3zM390.56 169.78h0.8v3.79h-0.8zM389.46 169.38h3v1.1h-3zM389.46 172.87h3v1.1h-3zM392.32 169.64h0.8v3.87h-0.8zM391.22 169.24h3v1.1h-3zM391.22 172.8h3v1.1h-3zM394.08 169.66h0.8v3.73h-0.8zM392.98 169.26h3v1.1h-3zM392.98 172.69h3v1.1h-3zM395.84 169.42h0.8v3.94h-0.8zM394.74 169.02h3v1.1h-3zM394.74 172.66h3v1.1h-3zM397.6 169.81h0.8v3.71h-0.8zM396.5 169.41h3v1.1h-3zM396.5 172.82h3v1.1h-3zM402.2 169.6h0.8v4h-0.8zM401.1 169.2h3v1.1h-3zM401.1 172.9h3v1.1h-3zM406.2 169.6h0.8v4h-0.8zM405.1 169.2h3v1.1h-3zM405.1 172.9h3v1.1h-3z" fill="#f800f8"/>
<circle cx="89" cy="155.4" r="0.9" fill="#000080"/>
<circle cx="97.5" cy="151.7" r="0.9" fill="#000080"/>
<circle cx="98.5" cy="152" r="0.9" fill="#000080"/>
<circle cx="103" cy="160.5" r="0.9" fill="#000080"/>
<circle cx="105" cy="161" r="0.9" fill="#000080"/>
<circle cx="106" cy="160" r="0.9" fill="#000080"/>
<circle cx="158" cy="160" r="0.9" fill="#000080"/>
<circle cx="160" cy="162.5" r="0.9" fill="#000080"/>
<path d="M69.35 170.73h1.3v1.3h-1.3zM70.62 170.96h1.3v1.3h-1.3zM71.88 170.25h1.3v1.3h-1.3zM73.15 170.25h1.3v1.3h-1.3zM74.42 170.86h1.3v1.3h-1.3zM75.68 170.76h1.3v1.3h-1.3zM76.95 170.64h1.3v1.3h-1.3zM78.35 166.16h1.3v1.3h-1.3zM79.75 163.71h1.3v1.3h-1.3zM81.35 160.43h1.3v1.3h-1.3zM82.65 157.12h1.3v1.3h-1.3zM83.85 152.06h1.3v1.3h-1.3zM85.35 150.15h1.3v1.3h-1.3zM87.35 149.97h1.3v1.3h-1.3zM89.35 149.96h1.3v1.3h-1.3zM90.55 136.49h1.3v1.3h-1.3zM91.55 132.2h1.3v1.3h-1.3zM92.75 141.59h1.3v1.3h-1.3zM94.35 144h1.3v1.3h-1.3zM95.85 147.27h1.3v1.3h-1.3zM97.35 149.46h1.3v1.3h-1.3zM98.85 152.08h1.3v1.3h-1.3zM100.85 155.28h1.3v1.3h-1.3zM102.85 156.7h1.3v1.3h-1.3zM104.85 156.2h1.3v1.3h-1.3zM106.75 152.24h1.3v1.3h-1.3zM107.85 150.64h1.3v1.3h-1.3zM109.15 139.24h1.3v1.3h-1.3zM110.15 133.53h1.3v1.3h-1.3zM111.15 136.95h1.3v1.3h-1.3zM112.35 145.29h1.3v1.3h-1.3zM114.35 148.27h1.3v1.3h-1.3zM116.35 151.32h1.3v1.3h-1.3zM118.35 152.96h1.3v1.3h-1.3zM120.35 155.46h1.3v1.3h-1.3zM121.85 159.02h1.3v1.3h-1.3zM123.35 163.25h1.3v1.3h-1.3zM124.85 163.82h1.3v1.3h-1.3zM126.35 164.87h1.3v1.3h-1.3zM127.58 164.37h1.3v1.3h-1.3zM128.82 164.76h1.3v1.3h-1.3zM130.05 164.11h1.3v1.3h-1.3zM131.2 163.7h1.3v1.3h-1.3zM132.35 162.34h1.3v1.3h-1.3zM134.35 165.69h1.3v1.3h-1.3zM136 166.42h1.3v1.3h-1.3zM137.65 167.11h1.3v1.3h-1.3zM139.35 163.58h1.3v1.3h-1.3zM140.35 152.77h1.3v1.3h-1.3zM141.85 152.61h1.3v1.3h-1.3zM143.1 153.62h1.3v1.3h-1.3zM144.35 155.36h1.3v1.3h-1.3zM145.85 155.55h1.3v1.3h-1.3zM147.35 156.53h1.3v1.3h-1.3zM149.35 158.98h1.3v1.3h-1.3zM150.85 161.56h1.3v1.3h-1.3zM152.35 155.12h1.3v1.3h-1.3zM154.35 152.93h1.3v1.3h-1.3zM155.65 151.95h1.3v1.3h-1.3zM157.35 156.29h1.3v1.3h-1.3zM159.35 159.79h1.3v1.3h-1.3zM161.35 158.31h1.3v1.3h-1.3zM162.85 154.97h1.3v1.3h-1.3zM164.85 154.84h1.3v1.3h-1.3zM166.35 157.56h1.3v1.3h-1.3zM167.85 162.32h1.3v1.3h-1.3zM169.35 165.33h1.3v1.3h-1.3zM170.85 165.55h1.3v1.3h-1.3zM172.35 166.02h1.3v1.3h-1.3zM173.5 165.86h1.3v1.3h-1.3zM174.65 165.46h1.3v1.3h-1.3zM176.15 163.04h1.3v1.3h-1.3zM177.85 164.36h1.3v1.3h-1.3zM179.85 166.35h1.3v1.3h-1.3zM181.1 167.46h1.3v1.3h-1.3zM182.35 168.14h1.3v1.3h-1.3zM183.85 167.54h1.3v1.3h-1.3zM185.35 166.6h1.3v1.3h-1.3zM186.52 166.51h1.3v1.3h-1.3zM187.68 166.52h1.3v1.3h-1.3zM188.85 166.08h1.3v1.3h-1.3zM190.85 161.5h1.3v1.3h-1.3zM192.85 164.55h1.3v1.3h-1.3zM194.35 165.17h1.3v1.3h-1.3zM195.85 165.6h1.3v1.3h-1.3zM197.1 165.1h1.3v1.3h-1.3zM198.35 164.62h1.3v1.3h-1.3zM200.35 162.35h1.3v1.3h-1.3zM202.35 163.98h1.3v1.3h-1.3zM204.35 165.58h1.3v1.3h-1.3zM205.68 166.33h1.3v1.3h-1.3zM207.02 166.25h1.3v1.3h-1.3zM208.35 166.54h1.3v1.3h-1.3zM209.6 167.08h1.3v1.3h-1.3zM210.85 167.4h1.3v1.3h-1.3zM212.1 167.29h1.3v1.3h-1.3zM213.35 167.03h1.3v1.3h-1.3zM214.85 160.45h1.3v1.3h-1.3zM216.35 154.59h1.3v1.3h-1.3zM217.85 153.74h1.3v1.3h-1.3zM219.85 156.24h1.3v1.3h-1.3zM221.35 160.3h1.3v1.3h-1.3zM222.85 164.54h1.3v1.3h-1.3zM224.35 166.61h1.3v1.3h-1.3zM225.68 167.06h1.3v1.3h-1.3zM227.02 167.62h1.3v1.3h-1.3zM228.35 168h1.3v1.3h-1.3zM229.68 168.18h1.3v1.3h-1.3zM231.02 169.04h1.3v1.3h-1.3zM232.35 169.36h1.3v1.3h-1.3zM233.85 169.56h1.3v1.3h-1.3zM235.35 170.47h1.3v1.3h-1.3zM236.67 170.05h1.3v1.3h-1.3zM237.99 170.24h1.3v1.3h-1.3zM239.31 170.43h1.3v1.3h-1.3zM240.63 170.82h1.3v1.3h-1.3zM21 171.3h1.6v1.8h-1.6zM25.7 171.3h1.6v1.8h-1.6zM35.2 171.3h1.6v1.8h-1.6zM47.2 171.3h1.6v1.8h-1.6zM52.7 171.21h1.6v1.8h-1.6zM54.45 171.21h1.6v1.8h-1.6zM56.2 171.39h1.6v1.8h-1.6zM60.2 171.3h1.6v1.8h-1.6zM64.2 171.3h1.6v1.8h-1.6zM67.2 171.24h1.6v1.8h-1.6zM69.2 171.32h1.6v1.8h-1.6zM245.7 171.29h1.6v1.8h-1.6zM247.7 171.24h1.6v1.8h-1.6zM249.7 171.31h1.6v1.8h-1.6zM254.7 171.19h1.6v1.8h-1.6zM256.7 171.31h1.6v1.8h-1.6zM258.7 171.22h1.6v1.8h-1.6zM260.7 171.34h1.6v1.8h-1.6zM262.7 171.25h1.6v1.8h-1.6zM267.2 171.4h1.6v1.8h-1.6zM269.32 171.18h1.6v1.8h-1.6zM271.45 171.29h1.6v1.8h-1.6zM273.57 171.23h1.6v1.8h-1.6zM275.7 171.18h1.6v1.8h-1.6zM284.7 171.35h1.6v1.8h-1.6zM286.37 171.24h1.6v1.8h-1.6zM288.03 171.37h1.6v1.8h-1.6zM289.7 171.34h1.6v1.8h-1.6zM293.7 171.3h1.6v1.8h-1.6zM297.7 171.4h1.6v1.8h-1.6zM299.2 171.23h1.6v1.8h-1.6zM300.7 171.36h1.6v1.8h-1.6zM324.2 171.26h1.6v1.8h-1.6zM325.7 171.33h1.6v1.8h-1.6zM327.2 171.42h1.6v1.8h-1.6zM388.4 171.35h1.6v1.8h-1.6zM390.16 171.36h1.6v1.8h-1.6zM391.92 171.23h1.6v1.8h-1.6zM393.68 171.4h1.6v1.8h-1.6zM395.44 171.2h1.6v1.8h-1.6zM397.2 171.21h1.6v1.8h-1.6zM401.8 171.3h1.6v1.8h-1.6zM405.8 171.3h1.6v1.8h-1.6z" fill="#111"/>
</g>
<clipPath id="cd"><rect x="20.45" y="187.6" width="458" height="43.85"/></clipPath>
<g clip-path="url(#cd)">
<path d="M69.2 215.95h1.6v2.32h-1.6zM68.7 215.55h2.6v1h-2.6zM68.7 217.67h2.6v1h-2.6zM71.2 213.71h1.6v3.6h-1.6zM70.7 213.31h2.6v1h-2.6zM70.7 216.72h2.6v1h-2.6zM72.95 212.56h1.6v4.84h-1.6zM72.45 212.16h2.6v1h-2.6zM72.45 216.79h2.6v1h-2.6zM74.7 213.51h1.6v4.5h-1.6zM74.2 213.11h2.6v1h-2.6zM74.2 217.41h2.6v1h-2.6zM76.1 211.31h1.6v6.62h-1.6zM75.6 210.91h2.6v1h-2.6zM75.6 217.32h2.6v1h-2.6zM77.5 211.71h1.6v4.83h-1.6zM77 211.31h2.6v1h-2.6zM77 215.94h2.6v1h-2.6zM78.9 209.38h1.6v6.88h-1.6zM78.4 208.98h2.6v1h-2.6zM78.4 215.66h2.6v1h-2.6zM80.7 205.5h1.6v8.72h-1.6zM80.2 205.1h2.6v1h-2.6zM80.2 213.61h2.6v1h-2.6zM82.2 199.21h1.6v15.95h-1.6zM81.7 198.81h2.6v1h-2.6zM81.7 214.56h2.6v1h-2.6zM83.4 197.36h1.6v16.56h-1.6zM82.9 196.96h2.6v1h-2.6zM82.9 213.31h2.6v1h-2.6zM84.6 196.71h1.6v14.67h-1.6zM84.1 196.31h2.6v1h-2.6zM84.1 210.78h2.6v1h-2.6zM85.9 196.36h1.6v13.79h-1.6zM85.4 195.96h2.6v1h-2.6zM85.4 209.55h2.6v1h-2.6zM87.2 196.29h1.6v12.92h-1.6zM86.7 195.89h2.6v1h-2.6zM86.7 208.61h2.6v1h-2.6zM88.35 194.26h1.6v15.81h-1.6zM87.85 193.86h2.6v1h-2.6zM87.85 209.46h2.6v1h-2.6zM89.5 191.25h1.6v18.11h-1.6zM89 190.85h2.6v1h-2.6zM89 208.76h2.6v1h-2.6zM90.7 187.94h1.6v17.32h-1.6zM90.2 187.54h2.6v1h-2.6zM90.2 204.65h2.6v1h-2.6zM92.2 188.06h1.6v13.99h-1.6zM91.7 187.66h2.6v1h-2.6zM91.7 201.45h2.6v1h-2.6zM93.7 193.35h1.6v15.67h-1.6zM93.2 192.95h2.6v1h-2.6zM93.2 208.41h2.6v1h-2.6zM94.95 193.7h1.6v14.32h-1.6zM94.45 193.3h2.6v1h-2.6zM94.45 207.42h2.6v1h-2.6zM96.2 195.76h1.6v11.94h-1.6zM95.7 195.36h2.6v1h-2.6zM95.7 207.11h2.6v1h-2.6zM98.2 196.49h1.6v11.49h-1.6zM97.7 196.09h2.6v1h-2.6zM97.7 207.37h2.6v1h-2.6zM99.7 201.99h1.6v9.86h-1.6zM99.2 201.59h2.6v1h-2.6zM99.2 211.26h2.6v1h-2.6zM101.45 201.62h1.6v11.19h-1.6zM100.95 201.22h2.6v1h-2.6zM100.95 212.21h2.6v1h-2.6zM103.2 201.54h1.6v10.88h-1.6zM102.7 201.14h2.6v1h-2.6zM102.7 211.82h2.6v1h-2.6zM104.45 199.38h1.6v11.14h-1.6zM103.95 198.98h2.6v1h-2.6zM103.95 209.92h2.6v1h-2.6zM105.7 198.46h1.6v10.35h-1.6zM105.2 198.06h2.6v1h-2.6zM105.2 208.22h2.6v1h-2.6zM107.8 194.2h1.6v11.06h-1.6zM107.3 193.8h2.6v1h-2.6zM107.3 204.67h2.6v1h-2.6zM109.4 187.83h1.6v15.29h-1.6zM108.9 187.43h2.6v1h-2.6zM108.9 202.52h2.6v1h-2.6zM110.7 188.62h1.6v14.12h-1.6zM110.2 188.22h2.6v1h-2.6zM110.2 202.14h2.6v1h-2.6zM112.2 193.12h1.6v14.72h-1.6zM111.7 192.72h2.6v1h-2.6zM111.7 207.24h2.6v1h-2.6zM113.53 193.31h1.6v14.51h-1.6zM113.03 192.91h2.6v1h-2.6zM113.03 207.21h2.6v1h-2.6zM114.87 193.44h1.6v13.81h-1.6zM114.37 193.04h2.6v1h-2.6zM114.37 206.65h2.6v1h-2.6zM116.2 193.9h1.6v13.53h-1.6zM115.7 193.5h2.6v1h-2.6zM115.7 206.83h2.6v1h-2.6zM118.2 192.42h1.6v10.73h-1.6zM117.7 192.02h2.6v1h-2.6zM117.7 202.55h2.6v1h-2.6zM119.7 194.26h1.6v13.63h-1.6zM119.2 193.86h2.6v1h-2.6zM119.2 207.29h2.6v1h-2.6zM121.2 198.9h1.6v12.04h-1.6zM120.7 198.5h2.6v1h-2.6zM120.7 210.34h2.6v1h-2.6zM122.6 198.9h1.6v11.64h-1.6zM122.1 198.5h2.6v1h-2.6zM122.1 209.94h2.6v1h-2.6zM124 199.58h1.6v10.63h-1.6zM123.5 199.18h2.6v1h-2.6zM123.5 209.61h2.6v1h-2.6zM125.2 206.33h1.6v9.02h-1.6zM124.7 205.93h2.6v1h-2.6zM124.7 214.75h2.6v1h-2.6zM126.7 205.45h1.6v8.95h-1.6zM126.2 205.05h2.6v1h-2.6zM126.2 213.8h2.6v1h-2.6zM128.2 206.04h1.6v8.22h-1.6zM127.7 205.64h2.6v1h-2.6zM127.7 213.66h2.6v1h-2.6zM129.7 205.5h1.6v10.06h-1.6zM129.2 205.1h2.6v1h-2.6zM129.2 214.96h2.6v1h-2.6zM131.2 205.36h1.6v10.18h-1.6zM130.7 204.96h2.6v1h-2.6zM130.7 214.94h2.6v1h-2.6zM132.7 205.81h1.6v9.76h-1.6zM132.2 205.41h2.6v1h-2.6zM132.2 214.97h2.6v1h-2.6zM134.2 206.37h1.6v8.32h-1.6zM133.7 205.97h2.6v1h-2.6zM133.7 214.1h2.6v1h-2.6zM135.7 206.22h1.6v7.95h-1.6zM135.2 205.82h2.6v1h-2.6zM135.2 213.57h2.6v1h-2.6zM137.2 205.82h1.6v8.23h-1.6zM136.7 205.42h2.6v1h-2.6zM136.7 213.45h2.6v1h-2.6zM139.4 205.87h1.6v7.04h-1.6zM138.9 205.47h2.6v1h-2.6zM138.9 212.31h2.6v1h-2.6zM141.2 203.51h1.6v6.23h-1.6zM140.7 203.11h2.6v1h-2.6zM140.7 209.14h2.6v1h-2.6zM142.88 203.47h1.6v6.18h-1.6zM142.38 203.07h2.6v1h-2.6zM142.38 209.05h2.6v1h-2.6zM144.55 203.95h1.6v5.74h-1.6zM144.05 203.55h2.6v1h-2.6zM144.05 209.09h2.6v1h-2.6zM146.22 203.7h1.6v5.98h-1.6zM145.72 203.3h2.6v1h-2.6zM145.72 209.07h2.6v1h-2.6zM147.9 203.66h1.6v6.75h-1.6zM147.4 203.26h2.6v1h-2.6zM147.4 209.81h2.6v1h-2.6zM149.2 198.72h1.6v13.04h-1.6zM148.7 198.32h2.6v1h-2.6zM148.7 211.16h2.6v1h-2.6zM150.87 198.63h1.6v12.5h-1.6zM150.37 198.23h2.6v1h-2.6zM150.37 210.53h2.6v1h-2.6zM152.53 198.61h1.6v11.95h-1.6zM152.03 198.21h2.6v1h-2.6zM152.03 209.96h2.6v1h-2.6zM154.2 198.85h1.6v12.69h-1.6zM153.7 198.45h2.6v1h-2.6zM153.7 210.94h2.6v1h-2.6zM155.87 198.2h1.6v12.88h-1.6zM155.37 197.8h2.6v1h-2.6zM155.37 210.48h2.6v1h-2.6zM157.53 198.99h1.6v12.06h-1.6zM157.03 198.59h2.6v1h-2.6zM157.03 210.45h2.6v1h-2.6zM159.2 199.69h1.6v11h-1.6zM158.7 199.29h2.6v1h-2.6zM158.7 210.09h2.6v1h-2.6zM160.7 198.95h1.6v11.78h-1.6zM160.2 198.55h2.6v1h-2.6zM160.2 210.12h2.6v1h-2.6zM162.2 198.76h1.6v11.1h-1.6zM161.7 198.36h2.6v1h-2.6zM161.7 209.26h2.6v1h-2.6zM163.7 196.71h1.6v13.34h-1.6zM163.2 196.31h2.6v1h-2.6zM163.2 209.45h2.6v1h-2.6zM165.2 196.53h1.6v11.43h-1.6zM164.7 196.13h2.6v1h-2.6zM164.7 207.36h2.6v1h-2.6zM166.4 199.82h1.6v10.88h-1.6zM165.9 199.42h2.6v1h-2.6zM165.9 210.1h2.6v1h-2.6zM167.6 203.22h1.6v9.4h-1.6zM167.1 202.82h2.6v1h-2.6zM167.1 212.03h2.6v1h-2.6zM169.2 205.86h1.6v8.26h-1.6zM168.7 205.46h2.6v1h-2.6zM168.7 213.52h2.6v1h-2.6zM170.7 206.29h1.6v6.93h-1.6zM170.2 205.89h2.6v1h-2.6zM170.2 212.63h2.6v1h-2.6zM172.2 205.4h1.6v8.78h-1.6zM171.7 205h2.6v1h-2.6zM171.7 213.58h2.6v1h-2.6zM173.7 205.29h1.6v7.75h-1.6zM173.2 204.89h2.6v1h-2.6zM173.2 212.44h2.6v1h-2.6zM175.2 205.22h1.6v8.05h-1.6zM174.7 204.82h2.6v1h-2.6zM174.7 212.67h2.6v1h-2.6zM177.2 205.72h1.6v8.65h-1.6zM176.7 205.32h2.6v1h-2.6zM176.7 213.76h2.6v1h-2.6zM178.53 205.16h1.6v9.83h-1.6zM178.03 204.76h2.6v1h-2.6zM178.03 214.39h2.6v1h-2.6zM179.87 205.84h1.6v8.31h-1.6zM179.37 205.44h2.6v1h-2.6zM179.37 213.55h2.6v1h-2.6zM181.2 205.83h1.6v8.31h-1.6zM180.7 205.43h2.6v1h-2.6zM180.7 213.54h2.6v1h-2.6zM182.53 206.61h1.6v8.49h-1.6zM182.03 206.21h2.6v1h-2.6zM182.03 214.5h2.6v1h-2.6zM183.87 206.28h1.6v8.42h-1.6zM183.37 205.88h2.6v1h-2.6zM183.37 214.1h2.6v1h-2.6zM185.2 207.24h1.6v7.12h-1.6zM184.7 206.84h2.6v1h-2.6zM184.7 213.77h2.6v1h-2.6zM186.53 206.18h1.6v8.6h-1.6zM186.03 205.78h2.6v1h-2.6zM186.03 214.17h2.6v1h-2.6zM187.87 204.5h1.6v9.51h-1.6zM187.37 204.1h2.6v1h-2.6zM187.37 213.41h2.6v1h-2.6zM189.2 204.53h1.6v8.83h-1.6zM188.7 204.13h2.6v1h-2.6zM188.7 212.77h2.6v1h-2.6zM191.2 202.93h1.6v9.47h-1.6zM190.7 202.53h2.6v1h-2.6zM190.7 211.8h2.6v1h-2.6zM193.2 205.38h1.6v8.72h-1.6zM192.7 204.98h2.6v1h-2.6zM192.7 213.5h2.6v1h-2.6zM194.87 206.02h1.6v8.23h-1.6zM194.37 205.62h2.6v1h-2.6zM194.37 213.65h2.6v1h-2.6zM196.53 205.52h1.6v9.05h-1.6zM196.03 205.12h2.6v1h-2.6zM196.03 213.97h2.6v1h-2.6zM198.2 206.22h1.6v8.64h-1.6zM197.7 205.82h2.6v1h-2.6zM197.7 214.25h2.6v1h-2.6zM199.7 206.44h1.6v8.73h-1.6zM199.2 206.04h2.6v1h-2.6zM199.2 214.57h2.6v1h-2.6zM201.2 206.02h1.6v9.22h-1.6zM200.7 205.62h2.6v1h-2.6zM200.7 214.65h2.6v1h-2.6zM202.53 205.26h1.6v10.04h-1.6zM202.03 204.86h2.6v1h-2.6zM202.03 214.7h2.6v1h-2.6zM203.87 205.39h1.6v8.76h-1.6zM203.37 204.99h2.6v1h-2.6zM203.37 213.55h2.6v1h-2.6zM205.2 206.75h1.6v7.95h-1.6zM204.7 206.35h2.6v1h-2.6zM204.7 214.1h2.6v1h-2.6zM206.53 206.26h1.6v8.58h-1.6zM206.03 205.86h2.6v1h-2.6zM206.03 214.24h2.6v1h-2.6zM207.87 206.92h1.6v7.96h-1.6zM207.37 206.52h2.6v1h-2.6zM207.37 214.28h2.6v1h-2.6zM209.2 207.97h1.6v7.1h-1.6zM208.7 207.57h2.6v1h-2.6zM208.7 214.47h2.6v1h-2.6zM210.6 207.91h1.6v8.11h-1.6zM210.1 207.51h2.6v1h-2.6zM210.1 215.42h2.6v1h-2.6zM212 208.6h1.6v7.4h-1.6zM211.5 208.2h2.6v1h-2.6zM211.5 215.39h2.6v1h-2.6zM213.4 207.72h1.6v8.09h-1.6zM212.9 207.32h2.6v1h-2.6zM212.9 215.21h2.6v1h-2.6zM214.55 205.99h1.6v7.96h-1.6zM214.05 205.59h2.6v1h-2.6zM214.05 213.35h2.6v1h-2.6zM215.7 203.09h1.6v9.14h-1.6zM215.2 202.69h2.6v1h-2.6zM215.2 211.62h2.6v1h-2.6zM217.7 196.42h1.6v13.17h-1.6zM217.2 196.02h2.6v1h-2.6zM217.2 208.99h2.6v1h-2.6zM219.7 197.45h1.6v11.58h-1.6zM219.2 197.05h2.6v1h-2.6zM219.2 208.43h2.6v1h-2.6zM221.2 203.3h1.6v10.37h-1.6zM220.7 202.9h2.6v1h-2.6zM220.7 213.06h2.6v1h-2.6zM222.95 203.36h1.6v11.38h-1.6zM222.45 202.96h2.6v1h-2.6zM222.45 214.15h2.6v1h-2.6zM224.7 205.1h1.6v9.96h-1.6zM224.2 204.7h2.6v1h-2.6zM224.2 214.46h2.6v1h-2.6zM225.95 206.05h1.6v9.67h-1.6zM225.45 205.65h2.6v1h-2.6zM225.45 215.12h2.6v1h-2.6zM227.2 206.82h1.6v10.3h-1.6zM226.7 206.42h2.6v1h-2.6zM226.7 216.52h2.6v1h-2.6zM228.7 207.25h1.6v9.68h-1.6zM228.2 206.85h2.6v1h-2.6zM228.2 216.33h2.6v1h-2.6zM230.2 209.19h1.6v7.14h-1.6zM229.7 208.79h2.6v1h-2.6zM229.7 215.73h2.6v1h-2.6zM232.2 208.22h1.6v6.56h-1.6zM231.7 207.82h2.6v1h-2.6zM231.7 214.18h2.6v1h-2.6zM234.2 211.75h1.6v6.89h-1.6zM233.7 211.35h2.6v1h-2.6zM233.7 218.05h2.6v1h-2.6zM235.68 212.24h1.6v6.32h-1.6zM235.18 211.84h2.6v1h-2.6zM235.18 217.96h2.6v1h-2.6zM237.16 212.46h1.6v5.24h-1.6zM236.66 212.06h2.6v1h-2.6zM236.66 217.1h2.6v1h-2.6zM238.64 212.04h1.6v5.2h-1.6zM238.14 211.64h2.6v1h-2.6zM238.14 216.64h2.6v1h-2.6zM240.12 212.59h1.6v4.96h-1.6zM239.62 212.19h2.6v1h-2.6zM239.62 216.94h2.6v1h-2.6zM241.6 213.02h1.6v3.52h-1.6zM241.1 212.62h2.6v1h-2.6zM241.1 215.95h2.6v1h-2.6zM244.2 212.93h1.6v6.58h-1.6zM243.7 212.53h2.6v1h-2.6zM243.7 218.91h2.6v1h-2.6zM245.77 213.55h1.6v6.42h-1.6zM245.27 213.15h2.6v1h-2.6zM245.27 219.37h2.6v1h-2.6zM247.34 213.01h1.6v6.17h-1.6zM246.84 212.61h2.6v1h-2.6zM246.84 218.58h2.6v1h-2.6zM248.91 213.52h1.6v6.44h-1.6zM248.41 213.12h2.6v1h-2.6zM248.41 219.35h2.6v1h-2.6zM250.49 213.66h1.6v6.46h-1.6zM249.99 213.26h2.6v1h-2.6zM249.99 219.52h2.6v1h-2.6zM252.06 212.58h1.6v6.6h-1.6zM251.56 212.18h2.6v1h-2.6zM251.56 218.58h2.6v1h-2.6zM253.63 212.8h1.6v7.37h-1.6zM253.13 212.4h2.6v1h-2.6zM253.13 219.57h2.6v1h-2.6zM255.2 213.55h1.6v6.41h-1.6zM254.7 213.15h2.6v1h-2.6zM254.7 219.36h2.6v1h-2.6zM256.7 213.4h1.6v6.21h-1.6zM256.2 213h2.6v1h-2.6zM256.2 219.01h2.6v1h-2.6zM258.2 213.46h1.6v6.04h-1.6zM257.7 213.06h2.6v1h-2.6zM257.7 218.9h2.6v1h-2.6zM259.7 212.62h1.6v6.93h-1.6zM259.2 212.22h2.6v1h-2.6zM259.2 218.94h2.6v1h-2.6zM261.2 213.42h1.6v5.14h-1.6zM260.7 213.02h2.6v1h-2.6zM260.7 217.96h2.6v1h-2.6zM262.7 212.38h1.6v7.33h-1.6zM262.2 211.98h2.6v1h-2.6zM262.2 219.11h2.6v1h-2.6zM264.2 213.5h1.6v5.64h-1.6zM263.7 213.1h2.6v1h-2.6zM263.7 218.54h2.6v1h-2.6zM265.7 213.83h1.6v5.69h-1.6zM265.2 213.43h2.6v1h-2.6zM265.2 218.92h2.6v1h-2.6zM267.2 213.18h1.6v6.19h-1.6zM266.7 212.78h2.6v1h-2.6zM266.7 218.77h2.6v1h-2.6zM268.2 217.69h1.6v4.04h-1.6zM267.7 217.29h2.6v1h-2.6zM267.7 221.13h2.6v1h-2.6zM269.8 217.09h1.6v4.52h-1.6zM269.3 216.69h2.6v1h-2.6zM269.3 221.01h2.6v1h-2.6zM271.4 217.19h1.6v4.81h-1.6zM270.9 216.79h2.6v1h-2.6zM270.9 221.4h2.6v1h-2.6zM273 218.47h1.6v2.94h-1.6zM272.5 218.07h2.6v1h-2.6zM272.5 220.81h2.6v1h-2.6zM274.6 217.62h1.6v4.03h-1.6zM274.1 217.22h2.6v1h-2.6zM274.1 221.05h2.6v1h-2.6zM276.2 218.57h1.6v2.89h-1.6zM275.7 218.17h2.6v1h-2.6zM275.7 220.86h2.6v1h-2.6zM283.2 217.16h1.6v4.07h-1.6zM282.7 216.76h2.6v1h-2.6zM282.7 220.63h2.6v1h-2.6zM284.8 217.24h1.6v2.98h-1.6zM284.3 216.84h2.6v1h-2.6zM284.3 219.62h2.6v1h-2.6zM286.4 218.09h1.6v2.3h-1.6zM285.9 217.69h2.6v1h-2.6zM285.9 219.79h2.6v1h-2.6zM288 217.14h1.6v4.45h-1.6zM287.5 216.74h2.6v1h-2.6zM287.5 220.99h2.6v1h-2.6zM289.6 217.03h1.6v4.32h-1.6zM289.1 216.63h2.6v1h-2.6zM289.1 220.75h2.6v1h-2.6zM291.2 218.17h1.6v2.33h-1.6zM290.7 217.77h2.6v1h-2.6zM290.7 219.9h2.6v1h-2.6zM292 213.94h1.6v3.9h-1.6zM291.5 213.54h2.6v1h-2.6zM291.5 217.24h2.6v1h-2.6zM294.2 213.87h1.6v2.97h-1.6zM293.7 213.47h2.6v1h-2.6zM293.7 216.23h2.6v1h-2.6zM295.2 218.13h1.6v2.8h-1.6zM294.7 217.73h2.6v1h-2.6zM294.7 220.34h2.6v1h-2.6zM296.8 217.55h1.6v4.3h-1.6zM296.3 217.15h2.6v1h-2.6zM296.3 221.24h2.6v1h-2.6zM298.4 217.3h1.6v3.13h-1.6zM297.9 216.9h2.6v1h-2.6zM297.9 219.82h2.6v1h-2.6zM300 218.4h1.6v2.67h-1.6zM299.5 218h2.6v1h-2.6zM299.5 220.46h2.6v1h-2.6zM301.6 218.49h1.6v2.72h-1.6zM301.1 218.09h2.6v1h-2.6zM301.1 220.61h2.6v1h-2.6zM303.2 218.49h1.6v2.76h-1.6zM302.7 218.09h2.6v1h-2.6zM302.7 220.65h2.6v1h-2.6zM304.2 220.24h1.6v7.12h-1.6zM303.7 219.84h2.6v1h-2.6zM303.7 226.77h2.6v1h-2.6zM305.64 220h1.6v7.57h-1.6zM305.14 219.6h2.6v1h-2.6zM305.14 226.97h2.6v1h-2.6zM307.08 220.28h1.6v7.19h-1.6zM306.58 219.88h2.6v1h-2.6zM306.58 226.87h2.6v1h-2.6zM308.52 220.14h1.6v7.42h-1.6zM308.02 219.74h2.6v1h-2.6zM308.02 226.96h2.6v1h-2.6zM309.97 220.36h1.6v7.08h-1.6zM309.47 219.96h2.6v1h-2.6zM309.47 226.84h2.6v1h-2.6zM311.41 219.95h1.6v7.71h-1.6zM310.91 219.55h2.6v1h-2.6zM310.91 227.07h2.6v1h-2.6zM312.85 220.38h1.6v6.92h-1.6zM312.35 219.98h2.6v1h-2.6zM312.35 226.71h2.6v1h-2.6zM314.29 220.47h1.6v7.12h-1.6zM313.79 220.07h2.6v1h-2.6zM313.79 226.99h2.6v1h-2.6zM315.73 220.09h1.6v7.27h-1.6zM315.23 219.69h2.6v1h-2.6zM315.23 226.76h2.6v1h-2.6zM317.18 220.13h1.6v7.37h-1.6zM316.68 219.73h2.6v1h-2.6zM316.68 226.9h2.6v1h-2.6zM318.62 220.42h1.6v7.15h-1.6zM318.12 220.02h2.6v1h-2.6zM318.12 226.97h2.6v1h-2.6zM320.06 219.92h1.6v7.35h-1.6zM319.56 219.52h2.6v1h-2.6zM319.56 226.67h2.6v1h-2.6zM321.5 220.25h1.6v7.33h-1.6zM321 219.85h2.6v1h-2.6zM321 226.98h2.6v1h-2.6zM323.7 218.74h1.6v2.94h-1.6zM323.2 218.34h2.6v1h-2.6zM323.2 221.09h2.6v1h-2.6zM325.2 219.21h1.6v2.33h-1.6zM324.7 218.81h2.6v1h-2.6zM324.7 220.94h2.6v1h-2.6zM326.7 219.2h1.6v2.48h-1.6zM326.2 218.8h2.6v1h-2.6zM326.2 221.07h2.6v1h-2.6zM328.2 219.23h1.6v2.18h-1.6zM327.7 218.83h2.6v1h-2.6zM327.7 220.81h2.6v1h-2.6zM333.2 220.23h1.6v7.34h-1.6zM332.7 219.83h2.6v1h-2.6zM332.7 226.97h2.6v1h-2.6zM334.68 220.34h1.6v7.3h-1.6zM334.18 219.94h2.6v1h-2.6zM334.18 227.04h2.6v1h-2.6zM336.17 220.26h1.6v7.24h-1.6zM335.67 219.86h2.6v1h-2.6zM335.67 226.9h2.6v1h-2.6zM337.65 220.04h1.6v7.23h-1.6zM337.15 219.64h2.6v1h-2.6zM337.15 226.66h2.6v1h-2.6zM339.13 220.36h1.6v7.01h-1.6zM338.63 219.96h2.6v1h-2.6zM338.63 226.78h2.6v1h-2.6zM340.61 220.37h1.6v7.18h-1.6zM340.11 219.97h2.6v1h-2.6zM340.11 226.95h2.6v1h-2.6zM342.1 220.24h1.6v7.38h-1.6zM341.6 219.84h2.6v1h-2.6zM341.6 227.02h2.6v1h-2.6zM343.58 220.21h1.6v7.17h-1.6zM343.08 219.81h2.6v1h-2.6zM343.08 226.79h2.6v1h-2.6zM345.06 220.03h1.6v7.2h-1.6zM344.56 219.63h2.6v1h-2.6zM344.56 226.63h2.6v1h-2.6zM346.54 220.31h1.6v7.01h-1.6zM346.04 219.91h2.6v1h-2.6zM346.04 226.72h2.6v1h-2.6zM348.03 220.15h1.6v7.26h-1.6zM347.53 219.75h2.6v1h-2.6zM347.53 226.81h2.6v1h-2.6zM349.51 219.94h1.6v7.73h-1.6zM349.01 219.54h2.6v1h-2.6zM349.01 227.08h2.6v1h-2.6zM350.99 219.98h1.6v7.49h-1.6zM350.49 219.58h2.6v1h-2.6zM350.49 226.87h2.6v1h-2.6zM352.48 220.01h1.6v7.45h-1.6zM351.98 219.61h2.6v1h-2.6zM351.98 226.85h2.6v1h-2.6zM353.96 220.21h1.6v6.92h-1.6zM353.46 219.81h2.6v1h-2.6zM353.46 226.53h2.6v1h-2.6zM355.44 220.47h1.6v7.13h-1.6zM354.94 220.07h2.6v1h-2.6zM354.94 227.01h2.6v1h-2.6zM356.92 220.24h1.6v7.03h-1.6zM356.42 219.84h2.6v1h-2.6zM356.42 226.67h2.6v1h-2.6zM358.41 220.16h1.6v7.49h-1.6zM357.91 219.76h2.6v1h-2.6zM357.91 227.05h2.6v1h-2.6zM359.89 220.38h1.6v7.28h-1.6zM359.39 219.98h2.6v1h-2.6zM359.39 227.06h2.6v1h-2.6zM361.37 219.94h1.6v7.29h-1.6zM360.87 219.54h2.6v1h-2.6zM360.87 226.63h2.6v1h-2.6zM362.86 219.97h1.6v7.18h-1.6zM362.36 219.57h2.6v1h-2.6zM362.36 226.55h2.6v1h-2.6zM364.34 220.41h1.6v6.97h-1.6zM363.84 220.01h2.6v1h-2.6zM363.84 226.78h2.6v1h-2.6zM365.82 220.43h1.6v6.73h-1.6zM365.32 220.03h2.6v1h-2.6zM365.32 226.56h2.6v1h-2.6zM367.3 220.14h1.6v7.04h-1.6zM366.8 219.74h2.6v1h-2.6zM366.8 226.59h2.6v1h-2.6zM368.79 220.06h1.6v7.37h-1.6zM368.29 219.66h2.6v1h-2.6zM368.29 226.84h2.6v1h-2.6zM370.27 220.46h1.6v7.04h-1.6zM369.77 220.06h2.6v1h-2.6zM369.77 226.9h2.6v1h-2.6zM371.75 220.17h1.6v7.04h-1.6zM371.25 219.77h2.6v1h-2.6zM371.25 226.61h2.6v1h-2.6zM373.23 220.48h1.6v6.77h-1.6zM372.73 220.08h2.6v1h-2.6zM372.73 226.64h2.6v1h-2.6zM374.72 220.06h1.6v7.25h-1.6zM374.22 219.66h2.6v1h-2.6zM374.22 226.72h2.6v1h-2.6zM376.2 220.43h1.6v7.16h-1.6zM375.7 220.03h2.6v1h-2.6zM375.7 226.99h2.6v1h-2.6zM377.7 220.76h1.6v7.56h-1.6zM377.2 220.36h2.6v1h-2.6zM377.2 227.72h2.6v1h-2.6zM379.2 221.27h1.6v7.48h-1.6zM378.7 220.87h2.6v1h-2.6zM378.7 228.15h2.6v1h-2.6zM380.82 221.39h1.6v8.23h-1.6zM380.32 220.99h2.6v1h-2.6zM380.32 229.02h2.6v1h-2.6zM382.45 221.39h1.6v8.41h-1.6zM381.95 220.99h2.6v1h-2.6zM381.95 229.2h2.6v1h-2.6zM384.07 221.53h1.6v8.5h-1.6zM383.57 221.13h2.6v1h-2.6zM383.57 229.43h2.6v1h-2.6zM385.7 221.79h1.6v8.7h-1.6zM385.2 221.39h2.6v1h-2.6zM385.2 229.89h2.6v1h-2.6zM387 218.15h1.6v3.05h-1.6zM386.5 217.75h2.6v1h-2.6zM386.5 220.6h2.6v1h-2.6zM388.7 217.23h1.6v3.89h-1.6zM388.2 216.83h2.6v1h-2.6zM388.2 220.52h2.6v1h-2.6zM389.7 214.54h1.6v3.5h-1.6zM389.2 214.14h2.6v1h-2.6zM389.2 217.44h2.6v1h-2.6zM391.2 215.04h1.6v2.96h-1.6zM390.7 214.64h2.6v1h-2.6zM390.7 217.41h2.6v1h-2.6zM392.7 214.6h1.6v3.17h-1.6zM392.2 214.2h2.6v1h-2.6zM392.2 217.17h2.6v1h-2.6zM394.2 215.04h1.6v2.95h-1.6zM393.7 214.64h2.6v1h-2.6zM393.7 217.39h2.6v1h-2.6zM392.8 218.87h1.6v3.04h-1.6zM392.3 218.47h2.6v1h-2.6zM392.3 221.31h2.6v1h-2.6zM394.5 218.89h1.6v3.18h-1.6zM394 218.49h2.6v1h-2.6zM394 221.47h2.6v1h-2.6zM396.2 218.74h1.6v3.01h-1.6zM395.7 218.34h2.6v1h-2.6zM395.7 221.15h2.6v1h-2.6zM397.9 218.93h1.6v2.87h-1.6zM397.4 218.53h2.6v1h-2.6zM397.4 221.2h2.6v1h-2.6zM393.2 222.37h1.6v1.58h-1.6zM392.7 221.97h2.6v1h-2.6zM392.7 223.35h2.6v1h-2.6zM395.2 222.37h1.6v1.82h-1.6zM394.7 221.97h2.6v1h-2.6zM394.7 223.59h2.6v1h-2.6zM400 216.61h1.6v1.68h-1.6zM399.5 216.21h2.6v1h-2.6zM399.5 217.69h2.6v1h-2.6zM401.55 217.03h1.6v1.06h-1.6zM401.05 216.63h2.6v1h-2.6zM401.05 217.48h2.6v1h-2.6zM403.1 216.55h1.6v1.97h-1.6zM402.6 216.15h2.6v1h-2.6zM402.6 217.92h2.6v1h-2.6zM404.2 218.14h1.6v3.25h-1.6zM403.7 217.74h2.6v1h-2.6zM403.7 220.79h2.6v1h-2.6zM405.45 218.16h1.6v3.07h-1.6zM404.95 217.76h2.6v1h-2.6zM404.95 220.63h2.6v1h-2.6zM406.7 218.57h1.6v3.1h-1.6zM406.2 218.17h2.6v1h-2.6zM406.2 221.08h2.6v1h-2.6zM407.2 220.27h1.6v7.61h-1.6zM406.7 219.87h2.6v1h-2.6zM406.7 227.28h2.6v1h-2.6zM408.7 220.19h1.6v7.87h-1.6zM408.2 219.79h2.6v1h-2.6zM408.2 227.46h2.6v1h-2.6zM410.2 220.64h1.6v6.96h-1.6zM409.7 220.24h2.6v1h-2.6zM409.7 227h2.6v1h-2.6zM411.7 220.22h1.6v7.39h-1.6zM411.2 219.82h2.6v1h-2.6zM411.2 227.01h2.6v1h-2.6zM413.2 220.44h1.6v7.33h-1.6zM412.7 220.04h2.6v1h-2.6zM412.7 227.16h2.6v1h-2.6zM414.7 220.15h1.6v7.77h-1.6zM414.2 219.75h2.6v1h-2.6zM414.2 227.32h2.6v1h-2.6zM416.2 220.16h1.6v7.26h-1.6zM415.7 219.76h2.6v1h-2.6zM415.7 226.82h2.6v1h-2.6zM417.7 220.21h1.6v7.47h-1.6zM417.2 219.81h2.6v1h-2.6zM417.2 227.08h2.6v1h-2.6zM419.2 219.76h1.6v7.5h-1.6zM418.7 219.36h2.6v1h-2.6zM418.7 226.67h2.6v1h-2.6zM420.7 219.93h1.6v7.25h-1.6zM420.2 219.53h2.6v1h-2.6zM420.2 226.59h2.6v1h-2.6zM422.2 219.94h1.6v7.3h-1.6zM421.7 219.54h2.6v1h-2.6zM421.7 226.64h2.6v1h-2.6zM423.7 219.86h1.6v6.91h-1.6zM423.2 219.46h2.6v1h-2.6zM423.2 226.17h2.6v1h-2.6zM425.2 219.88h1.6v6.82h-1.6zM424.7 219.48h2.6v1h-2.6zM424.7 226.1h2.6v1h-2.6zM426.7 219.44h1.6v7.3h-1.6zM426.2 219.04h2.6v1h-2.6zM426.2 226.14h2.6v1h-2.6zM428.2 219.82h1.6v6.76h-1.6zM427.7 219.42h2.6v1h-2.6zM427.7 225.98h2.6v1h-2.6zM429.7 219.29h1.6v7.13h-1.6zM429.2 218.89h2.6v1h-2.6zM429.2 225.82h2.6v1h-2.6zM431.2 219.71h1.6v6.16h-1.6zM430.7 219.31h2.6v1h-2.6zM430.7 225.27h2.6v1h-2.6zM432.7 219.69h1.6v6.21h-1.6zM432.2 219.29h2.6v1h-2.6zM432.2 225.31h2.6v1h-2.6zM434.2 219.44h1.6v6.58h-1.6zM433.7 219.04h2.6v1h-2.6zM433.7 225.42h2.6v1h-2.6zM435.7 219.54h1.6v6.38h-1.6zM435.2 219.14h2.6v1h-2.6zM435.2 225.32h2.6v1h-2.6zM437.2 219.32h1.6v6.73h-1.6zM436.7 218.92h2.6v1h-2.6zM436.7 225.45h2.6v1h-2.6zM438.7 219.75h1.6v6.07h-1.6zM438.2 219.35h2.6v1h-2.6zM438.2 225.22h2.6v1h-2.6zM440.2 219.48h1.6v6.56h-1.6zM439.7 219.08h2.6v1h-2.6zM439.7 225.44h2.6v1h-2.6zM441.7 219.77h1.6v6.37h-1.6zM441.2 219.37h2.6v1h-2.6zM441.2 225.54h2.6v1h-2.6zM443.2 219.57h1.6v6.31h-1.6zM442.7 219.17h2.6v1h-2.6zM442.7 225.28h2.6v1h-2.6zM444.7 219.31h1.6v6.81h-1.6zM444.2 218.91h2.6v1h-2.6zM444.2 225.51h2.6v1h-2.6zM446.2 219.41h1.6v6.21h-1.6zM445.7 219.01h2.6v1h-2.6zM445.7 225.01h2.6v1h-2.6zM447.7 219.77h1.6v5.78h-1.6zM447.2 219.37h2.6v1h-2.6zM447.2 224.95h2.6v1h-2.6zM449.2 219.71h1.6v5.92h-1.6zM448.7 219.31h2.6v1h-2.6zM448.7 225.03h2.6v1h-2.6zM450.7 219.68h1.6v6.25h-1.6zM450.2 219.28h2.6v1h-2.6zM450.2 225.32h2.6v1h-2.6zM452.2 219.75h1.6v5.98h-1.6zM451.7 219.35h2.6v1h-2.6zM451.7 225.14h2.6v1h-2.6zM453.7 219.78h1.6v6h-1.6zM453.2 219.38h2.6v1h-2.6zM453.2 225.19h2.6v1h-2.6zM455.2 219.68h1.6v6.44h-1.6zM454.7 219.28h2.6v1h-2.6zM454.7 225.52h2.6v1h-2.6zM456.7 219.49h1.6v6.66h-1.6zM456.2 219.09h2.6v1h-2.6zM456.2 225.55h2.6v1h-2.6zM458.2 219.77h1.6v6.71h-1.6zM457.7 219.37h2.6v1h-2.6zM457.7 225.88h2.6v1h-2.6zM459.7 219.78h1.6v6.72h-1.6zM459.2 219.38h2.6v1h-2.6zM459.2 225.9h2.6v1h-2.6zM461.2 219.94h1.6v6.74h-1.6zM460.7 219.54h2.6v1h-2.6zM460.7 226.09h2.6v1h-2.6zM462.7 219.74h1.6v6.97h-1.6zM462.2 219.34h2.6v1h-2.6zM462.2 226.11h2.6v1h-2.6zM464.2 219.74h1.6v7.11h-1.6zM463.7 219.34h2.6v1h-2.6zM463.7 226.25h2.6v1h-2.6zM465.7 219.73h1.6v6.8h-1.6zM465.2 219.33h2.6v1h-2.6zM465.2 225.93h2.6v1h-2.6zM467.2 219.81h1.6v7.22h-1.6zM466.7 219.41h2.6v1h-2.6zM466.7 226.43h2.6v1h-2.6zM468.7 220.1h1.6v6.91h-1.6zM468.2 219.7h2.6v1h-2.6zM468.2 226.41h2.6v1h-2.6zM470.2 219.64h1.6v7.28h-1.6zM469.7 219.24h2.6v1h-2.6zM469.7 226.32h2.6v1h-2.6zM471.7 220.15h1.6v6.69h-1.6zM471.2 219.75h2.6v1h-2.6zM471.2 226.25h2.6v1h-2.6zM473.2 220.01h1.6v6.98h-1.6zM472.7 219.61h2.6v1h-2.6zM472.7 226.39h2.6v1h-2.6zM474.7 219.71h1.6v7.39h-1.6zM474.2 219.31h2.6v1h-2.6zM474.2 226.51h2.6v1h-2.6zM476.2 219.71h1.6v7.31h-1.6zM475.7 219.31h2.6v1h-2.6zM475.7 226.42h2.6v1h-2.6zM477.7 220.15h1.6v7.39h-1.6zM477.2 219.75h2.6v1h-2.6zM477.2 226.94h2.6v1h-2.6zM139.2 188.17h1.6v11.49h-1.6zM138.7 187.77h2.6v1h-2.6zM138.7 199.06h2.6v1h-2.6zM140.95 187.24h1.6v12.13h-1.6zM140.45 186.84h2.6v1h-2.6zM140.45 198.77h2.6v1h-2.6zM142.7 188.01h1.6v10.91h-1.6zM142.2 187.61h2.6v1h-2.6zM142.2 198.33h2.6v1h-2.6zM20.4 220.8h3.6v2.4h-3.6zM19.9 220.5h4.6v1h-4.6zM19.9 222.5h4.6v1h-4.6zM25.2 217.8h4.2v4.2h-4.2zM24.7 217.5h5.2v1h-5.2zM24.7 221.3h5.2v1h-5.2zM34.8 221.4h4.2v3h-4.2zM34.3 221.1h5.2v1h-5.2zM34.3 223.7h5.2v1h-5.2zM46.2 220.8h3.6v2.4h-3.6zM45.7 220.5h4.6v1h-4.6zM45.7 222.5h4.6v1h-4.6zM52.8 220.2h6.6v2.4h-6.6zM52.3 219.9h7.6v1h-7.6zM52.3 221.9h7.6v1h-7.6zM60 218.4h3v2.4h-3zM59.5 218.1h4v1h-4zM59.5 220.1h4v1h-4zM64.2 219.6h3v3h-3zM63.7 219.3h4v1h-4zM63.7 221.9h4v1h-4zM67.8 216.6h3v2.4h-3zM67.3 216.3h4v1h-4zM67.3 218.3h4v1h-4z" fill="#90ee90"/>
<path d="M81.7 211.62h1.6v4.3h-1.6zM81.2 211.22h2.6v1h-2.6zM81.2 215.32h2.6v1h-2.6zM82.95 210.27h1.6v4.91h-1.6zM82.45 209.87h2.6v1h-2.6zM82.45 214.58h2.6v1h-2.6zM84.2 209.09h1.6v5.42h-1.6zM83.7 208.69h2.6v1h-2.6zM83.7 213.91h2.6v1h-2.6zM85.87 208.75h1.6v5.71h-1.6zM85.37 208.35h2.6v1h-2.6zM85.37 213.86h2.6v1h-2.6zM87.53 208.98h1.6v4.82h-1.6zM87.03 208.58h2.6v1h-2.6zM87.03 213.2h2.6v1h-2.6zM89.2 208.83h1.6v4.51h-1.6zM88.7 208.43h2.6v1h-2.6zM88.7 212.75h2.6v1h-2.6zM90.87 208.76h1.6v5.06h-1.6zM90.37 208.36h2.6v1h-2.6zM90.37 213.23h2.6v1h-2.6zM92.53 209.25h1.6v4.86h-1.6zM92.03 208.85h2.6v1h-2.6zM92.03 213.51h2.6v1h-2.6zM94.2 209.85h1.6v5.19h-1.6zM93.7 209.45h2.6v1h-2.6zM93.7 214.44h2.6v1h-2.6zM95.7 210.62h1.6v5.08h-1.6zM95.2 210.22h2.6v1h-2.6zM95.2 215.1h2.6v1h-2.6zM97.2 211.51h1.6v4.85h-1.6zM96.7 211.11h2.6v1h-2.6zM96.7 215.76h2.6v1h-2.6zM98.8 211.41h1.6v4.96h-1.6zM98.3 211.01h2.6v1h-2.6zM98.3 215.77h2.6v1h-2.6zM100.4 211.04h1.6v5.08h-1.6zM99.9 210.64h2.6v1h-2.6zM99.9 215.52h2.6v1h-2.6zM102 211.18h1.6v5.3h-1.6zM101.5 210.78h2.6v1h-2.6zM101.5 215.89h2.6v1h-2.6zM103.6 211.15h1.6v5.61h-1.6zM103.1 210.75h2.6v1h-2.6zM103.1 216.16h2.6v1h-2.6zM105.2 211.36h1.6v5.03h-1.6zM104.7 210.96h2.6v1h-2.6zM104.7 215.79h2.6v1h-2.6zM107.2 209.09h1.6v5.61h-1.6zM106.7 208.69h2.6v1h-2.6zM106.7 214.1h2.6v1h-2.6zM108.53 208.33h1.6v6.07h-1.6zM108.03 207.93h2.6v1h-2.6zM108.03 213.8h2.6v1h-2.6zM109.87 208.67h1.6v5.66h-1.6zM109.37 208.27h2.6v1h-2.6zM109.37 213.73h2.6v1h-2.6zM111.2 208.74h1.6v6.2h-1.6zM110.7 208.34h2.6v1h-2.6zM110.7 214.34h2.6v1h-2.6zM112.87 208.86h1.6v6.4h-1.6zM112.37 208.46h2.6v1h-2.6zM112.37 214.66h2.6v1h-2.6zM114.53 209.12h1.6v5.62h-1.6zM114.03 208.72h2.6v1h-2.6zM114.03 214.14h2.6v1h-2.6zM116.2 209.98h1.6v5.14h-1.6zM115.7 209.58h2.6v1h-2.6zM115.7 214.52h2.6v1h-2.6zM117.7 211.12h1.6v4.75h-1.6zM117.2 210.72h2.6v1h-2.6zM117.2 215.27h2.6v1h-2.6zM119.2 212.04h1.6v4.92h-1.6zM118.7 211.64h2.6v1h-2.6zM118.7 216.36h2.6v1h-2.6zM120.7 212.31h1.6v4.62h-1.6zM120.2 211.91h2.6v1h-2.6zM120.2 216.33h2.6v1h-2.6zM122.2 211.88h1.6v5.24h-1.6zM121.7 211.48h2.6v1h-2.6zM121.7 216.52h2.6v1h-2.6zM123.7 212.74h1.6v4.12h-1.6zM123.2 212.34h2.6v1h-2.6zM123.2 216.26h2.6v1h-2.6zM125.2 213.16h1.6v3.71h-1.6zM124.7 212.76h2.6v1h-2.6zM124.7 216.27h2.6v1h-2.6zM126.64 212.97h1.6v4.02h-1.6zM126.14 212.57h2.6v1h-2.6zM126.14 216.39h2.6v1h-2.6zM128.09 212.56h1.6v3.84h-1.6zM127.59 212.16h2.6v1h-2.6zM127.59 215.8h2.6v1h-2.6zM129.53 212.89h1.6v3.17h-1.6zM129.03 212.49h2.6v1h-2.6zM129.03 215.46h2.6v1h-2.6zM130.98 212.71h1.6v3.26h-1.6zM130.48 212.31h2.6v1h-2.6zM130.48 215.37h2.6v1h-2.6zM132.42 212.93h1.6v3.33h-1.6zM131.92 212.53h2.6v1h-2.6zM131.92 215.66h2.6v1h-2.6zM133.87 212.58h1.6v2.84h-1.6zM133.37 212.18h2.6v1h-2.6zM133.37 214.82h2.6v1h-2.6zM135.31 212.27h1.6v3.36h-1.6zM134.81 211.87h2.6v1h-2.6zM134.81 215.03h2.6v1h-2.6zM136.76 212.2h1.6v3.6h-1.6zM136.26 211.8h2.6v1h-2.6zM136.26 215.2h2.6v1h-2.6zM138.2 212.94h1.6v2.59h-1.6zM137.7 212.54h2.6v1h-2.6zM137.7 214.94h2.6v1h-2.6zM139.7 206h1.6v6.12h-1.6zM139.2 205.6h2.6v1h-2.6zM139.2 211.53h2.6v1h-2.6zM141.2 205.81h1.6v5.94h-1.6zM140.7 205.41h2.6v1h-2.6zM140.7 211.15h2.6v1h-2.6zM142.7 206.3h1.6v6.32h-1.6zM142.2 205.9h2.6v1h-2.6zM142.2 212.02h2.6v1h-2.6zM144.2 206.34h1.6v6.36h-1.6zM143.7 205.94h2.6v1h-2.6zM143.7 212.1h2.6v1h-2.6zM146.05 208.82h1.6v5.67h-1.6zM145.55 208.42h2.6v1h-2.6zM145.55 213.89h2.6v1h-2.6zM147.9 211.16h1.6v5.34h-1.6zM147.4 210.76h2.6v1h-2.6zM147.4 215.89h2.6v1h-2.6zM149.38 211.75h1.6v4.83h-1.6zM148.88 211.35h2.6v1h-2.6zM148.88 215.98h2.6v1h-2.6zM150.87 210.9h1.6v5.38h-1.6zM150.37 210.5h2.6v1h-2.6zM150.37 215.67h2.6v1h-2.6zM152.35 211.36h1.6v5.11h-1.6zM151.85 210.96h2.6v1h-2.6zM151.85 215.87h2.6v1h-2.6zM153.84 211.76h1.6v4.62h-1.6zM153.34 211.36h2.6v1h-2.6zM153.34 215.79h2.6v1h-2.6zM155.32 211.42h1.6v5.47h-1.6zM154.82 211.02h2.6v1h-2.6zM154.82 216.3h2.6v1h-2.6zM156.81 211.33h1.6v5.39h-1.6zM156.31 210.93h2.6v1h-2.6zM156.31 216.12h2.6v1h-2.6zM158.29 211.12h1.6v5.76h-1.6zM157.79 210.72h2.6v1h-2.6zM157.79 216.28h2.6v1h-2.6zM159.78 211.31h1.6v4.7h-1.6zM159.28 210.91h2.6v1h-2.6zM159.28 215.41h2.6v1h-2.6zM161.26 211.49h1.6v5.23h-1.6zM160.76 211.09h2.6v1h-2.6zM160.76 216.12h2.6v1h-2.6zM162.75 211.69h1.6v4.63h-1.6zM162.25 211.29h2.6v1h-2.6zM162.25 215.72h2.6v1h-2.6zM164.23 211.09h1.6v5.32h-1.6zM163.73 210.69h2.6v1h-2.6zM163.73 215.81h2.6v1h-2.6zM165.72 210.99h1.6v5.09h-1.6zM165.22 210.59h2.6v1h-2.6zM165.22 215.48h2.6v1h-2.6zM167.2 211.4h1.6v4.85h-1.6zM166.7 211h2.6v1h-2.6zM166.7 215.65h2.6v1h-2.6zM168.7 211.96h1.6v4.01h-1.6zM168.2 211.56h2.6v1h-2.6zM168.2 215.37h2.6v1h-2.6zM170.2 212.64h1.6v3.62h-1.6zM169.7 212.24h2.6v1h-2.6zM169.7 215.66h2.6v1h-2.6zM171.7 212.38h1.6v3.9h-1.6zM171.2 211.98h2.6v1h-2.6zM171.2 215.68h2.6v1h-2.6zM173.2 213.49h1.6v3.18h-1.6zM172.7 213.09h2.6v1h-2.6zM172.7 216.07h2.6v1h-2.6zM174.68 213.4h1.6v3.15h-1.6zM174.18 213h2.6v1h-2.6zM174.18 215.95h2.6v1h-2.6zM176.16 213.55h1.6v2.97h-1.6zM175.66 213.15h2.6v1h-2.6zM175.66 215.92h2.6v1h-2.6zM177.64 213.47h1.6v2.91h-1.6zM177.14 213.07h2.6v1h-2.6zM177.14 215.79h2.6v1h-2.6zM179.13 213.06h1.6v3.67h-1.6zM178.63 212.66h2.6v1h-2.6zM178.63 216.13h2.6v1h-2.6zM180.61 213h1.6v3.13h-1.6zM180.11 212.6h2.6v1h-2.6zM180.11 215.53h2.6v1h-2.6zM182.09 213.72h1.6v2.85h-1.6zM181.59 213.32h2.6v1h-2.6zM181.59 215.97h2.6v1h-2.6zM183.57 212.96h1.6v3h-1.6zM183.07 212.56h2.6v1h-2.6zM183.07 215.36h2.6v1h-2.6zM185.05 213.22h1.6v3.43h-1.6zM184.55 212.82h2.6v1h-2.6zM184.55 216.06h2.6v1h-2.6zM186.53 213.07h1.6v3.13h-1.6zM186.03 212.67h2.6v1h-2.6zM186.03 215.6h2.6v1h-2.6zM188.01 213.8h1.6v2.7h-1.6zM187.51 213.4h2.6v1h-2.6zM187.51 215.91h2.6v1h-2.6zM189.5 213.35h1.6v2.95h-1.6zM189 212.95h2.6v1h-2.6zM189 215.7h2.6v1h-2.6zM190.98 213.79h1.6v2.7h-1.6zM190.48 213.39h2.6v1h-2.6zM190.48 215.89h2.6v1h-2.6zM192.46 213.34h1.6v3.18h-1.6zM191.96 212.94h2.6v1h-2.6zM191.96 215.92h2.6v1h-2.6zM193.94 212.94h1.6v3.88h-1.6zM193.44 212.54h2.6v1h-2.6zM193.44 216.23h2.6v1h-2.6zM195.42 213.21h1.6v3.57h-1.6zM194.92 212.81h2.6v1h-2.6zM194.92 216.19h2.6v1h-2.6zM196.9 213.2h1.6v3.28h-1.6zM196.4 212.8h2.6v1h-2.6zM196.4 215.88h2.6v1h-2.6zM198.39 213.4h1.6v3.43h-1.6zM197.89 213h2.6v1h-2.6zM197.89 216.22h2.6v1h-2.6zM199.87 213.29h1.6v3.3h-1.6zM199.37 212.89h2.6v1h-2.6zM199.37 215.99h2.6v1h-2.6zM201.35 213.21h1.6v3.53h-1.6zM200.85 212.81h2.6v1h-2.6zM200.85 216.13h2.6v1h-2.6zM202.83 213.69h1.6v2.4h-1.6zM202.33 213.29h2.6v1h-2.6zM202.33 215.5h2.6v1h-2.6zM204.31 213.26h1.6v2.77h-1.6zM203.81 212.86h2.6v1h-2.6zM203.81 215.43h2.6v1h-2.6zM205.79 213.19h1.6v3.21h-1.6zM205.29 212.79h2.6v1h-2.6zM205.29 215.8h2.6v1h-2.6zM207.27 213.43h1.6v2.78h-1.6zM206.77 213.03h2.6v1h-2.6zM206.77 215.62h2.6v1h-2.6zM208.76 212.97h1.6v2.98h-1.6zM208.26 212.57h2.6v1h-2.6zM208.26 215.35h2.6v1h-2.6zM210.24 213.25h1.6v2.81h-1.6zM209.74 212.85h2.6v1h-2.6zM209.74 215.46h2.6v1h-2.6zM211.72 213.18h1.6v2.86h-1.6zM211.22 212.78h2.6v1h-2.6zM211.22 215.44h2.6v1h-2.6zM213.2 213.56h1.6v2.58h-1.6zM212.7 213.16h2.6v1h-2.6zM212.7 215.54h2.6v1h-2.6zM214.7 212.21h1.6v3.09h-1.6zM214.2 211.81h2.6v1h-2.6zM214.2 214.69h2.6v1h-2.6zM216.2 210.94h1.6v3.79h-1.6zM215.7 210.54h2.6v1h-2.6zM215.7 214.13h2.6v1h-2.6zM217.62 210.94h1.6v4.47h-1.6zM217.12 210.54h2.6v1h-2.6zM217.12 214.8h2.6v1h-2.6zM219.05 210.45h1.6v4.87h-1.6zM218.55 210.05h2.6v1h-2.6zM218.55 214.72h2.6v1h-2.6zM220.47 211.06h1.6v3.75h-1.6zM219.97 210.66h2.6v1h-2.6zM219.97 214.21h2.6v1h-2.6zM221.9 210.6h1.6v4.22h-1.6zM221.4 210.2h2.6v1h-2.6zM221.4 214.23h2.6v1h-2.6zM223.05 211.63h1.6v4.73h-1.6zM222.55 211.23h2.6v1h-2.6zM222.55 215.76h2.6v1h-2.6zM224.2 213.8h1.6v3.49h-1.6zM223.7 213.4h2.6v1h-2.6zM223.7 216.69h2.6v1h-2.6zM225.7 213.23h1.6v4.12h-1.6zM225.2 212.83h2.6v1h-2.6zM225.2 216.75h2.6v1h-2.6zM227.2 213.93h1.6v2.97h-1.6zM226.7 213.53h2.6v1h-2.6zM226.7 216.3h2.6v1h-2.6zM228.7 213.68h1.6v3.41h-1.6zM228.2 213.28h2.6v1h-2.6zM228.2 216.49h2.6v1h-2.6zM230.2 213.6h1.6v3.91h-1.6zM229.7 213.2h2.6v1h-2.6zM229.7 216.92h2.6v1h-2.6zM231.7 213.61h1.6v3.68h-1.6zM231.2 213.21h2.6v1h-2.6zM231.2 216.69h2.6v1h-2.6zM233.2 213.56h1.6v4.23h-1.6zM232.7 213.16h2.6v1h-2.6zM232.7 217.19h2.6v1h-2.6zM234.7 214.12h1.6v2.97h-1.6zM234.2 213.72h2.6v1h-2.6zM234.2 216.49h2.6v1h-2.6zM236.2 213.9h1.6v3.62h-1.6zM235.7 213.5h2.6v1h-2.6zM235.7 216.92h2.6v1h-2.6zM237.7 213.69h1.6v3.69h-1.6zM237.2 213.29h2.6v1h-2.6zM237.2 216.77h2.6v1h-2.6zM239.2 213.83h1.6v3.99h-1.6zM238.7 213.43h2.6v1h-2.6zM238.7 217.22h2.6v1h-2.6zM304.2 220.77h1.6v2.58h-1.6zM303.7 220.37h2.6v1h-2.6zM303.7 222.74h2.6v1h-2.6zM305.64 220.93h1.6v2.39h-1.6zM305.14 220.53h2.6v1h-2.6zM305.14 222.73h2.6v1h-2.6zM307.08 220.72h1.6v2.31h-1.6zM306.58 220.32h2.6v1h-2.6zM306.58 222.44h2.6v1h-2.6zM308.52 220.86h1.6v2.29h-1.6zM308.02 220.46h2.6v1h-2.6zM308.02 222.55h2.6v1h-2.6zM309.97 220.86h1.6v2.41h-1.6zM309.47 220.46h2.6v1h-2.6zM309.47 222.67h2.6v1h-2.6zM311.41 220.92h1.6v2.23h-1.6zM310.91 220.52h2.6v1h-2.6zM310.91 222.55h2.6v1h-2.6zM312.85 220.69h1.6v2.38h-1.6zM312.35 220.29h2.6v1h-2.6zM312.35 222.47h2.6v1h-2.6zM314.29 220.88h1.6v2.39h-1.6zM313.79 220.48h2.6v1h-2.6zM313.79 222.67h2.6v1h-2.6zM315.73 220.64h1.6v2.44h-1.6zM315.23 220.24h2.6v1h-2.6zM315.23 222.48h2.6v1h-2.6zM317.18 220.73h1.6v2.43h-1.6zM316.68 220.33h2.6v1h-2.6zM316.68 222.56h2.6v1h-2.6zM318.62 220.73h1.6v2.51h-1.6zM318.12 220.33h2.6v1h-2.6zM318.12 222.65h2.6v1h-2.6zM320.06 220.92h1.6v2.31h-1.6zM319.56 220.52h2.6v1h-2.6zM319.56 222.62h2.6v1h-2.6zM321.5 220.71h1.6v2.46h-1.6zM321 220.31h2.6v1h-2.6zM321 222.58h2.6v1h-2.6zM333.2 220.75h1.6v2.28h-1.6zM332.7 220.35h2.6v1h-2.6zM332.7 222.43h2.6v1h-2.6zM334.68 220.9h1.6v2.23h-1.6zM334.18 220.5h2.6v1h-2.6zM334.18 222.53h2.6v1h-2.6zM336.17 220.92h1.6v2.31h-1.6zM335.67 220.52h2.6v1h-2.6zM335.67 222.64h2.6v1h-2.6zM337.65 220.71h1.6v2.35h-1.6zM337.15 220.31h2.6v1h-2.6zM337.15 222.46h2.6v1h-2.6zM339.13 220.7h1.6v2.65h-1.6zM338.63 220.3h2.6v1h-2.6zM338.63 222.75h2.6v1h-2.6zM340.61 220.66h1.6v2.61h-1.6zM340.11 220.26h2.6v1h-2.6zM340.11 222.67h2.6v1h-2.6zM342.1 220.89h1.6v2.43h-1.6zM341.6 220.49h2.6v1h-2.6zM341.6 222.72h2.6v1h-2.6zM343.58 220.66h1.6v2.7h-1.6zM343.08 220.26h2.6v1h-2.6zM343.08 222.76h2.6v1h-2.6zM345.06 220.95h1.6v2.32h-1.6zM344.56 220.55h2.6v1h-2.6zM344.56 222.67h2.6v1h-2.6zM346.54 220.92h1.6v2.33h-1.6zM346.04 220.52h2.6v1h-2.6zM346.04 222.64h2.6v1h-2.6zM348.03 220.64h1.6v2.63h-1.6zM347.53 220.24h2.6v1h-2.6zM347.53 222.67h2.6v1h-2.6zM349.51 220.8h1.6v2.55h-1.6zM349.01 220.4h2.6v1h-2.6zM349.01 222.75h2.6v1h-2.6zM350.99 220.89h1.6v2.15h-1.6zM350.49 220.49h2.6v1h-2.6zM350.49 222.44h2.6v1h-2.6zM352.48 220.91h1.6v2.21h-1.6zM351.98 220.51h2.6v1h-2.6zM351.98 222.52h2.6v1h-2.6zM353.96 220.96h1.6v2.28h-1.6zM353.46 220.56h2.6v1h-2.6zM353.46 222.65h2.6v1h-2.6zM355.44 220.71h1.6v2.33h-1.6zM354.94 220.31h2.6v1h-2.6zM354.94 222.45h2.6v1h-2.6zM356.92 220.77h1.6v2.33h-1.6zM356.42 220.37h2.6v1h-2.6zM356.42 222.5h2.6v1h-2.6zM358.41 220.67h1.6v2.6h-1.6zM357.91 220.27h2.6v1h-2.6zM357.91 222.67h2.6v1h-2.6zM359.89 220.71h1.6v2.4h-1.6zM359.39 220.31h2.6v1h-2.6zM359.39 222.51h2.6v1h-2.6zM361.37 220.78h1.6v2.57h-1.6zM360.87 220.38h2.6v1h-2.6zM360.87 222.75h2.6v1h-2.6zM362.86 220.73h1.6v2.6h-1.6zM362.36 220.33h2.6v1h-2.6zM362.36 222.73h2.6v1h-2.6zM364.34 220.82h1.6v2.32h-1.6zM363.84 220.42h2.6v1h-2.6zM363.84 222.54h2.6v1h-2.6zM365.82 220.82h1.6v2.47h-1.6zM365.32 220.42h2.6v1h-2.6zM365.32 222.69h2.6v1h-2.6zM367.3 220.86h1.6v2.38h-1.6zM366.8 220.46h2.6v1h-2.6zM366.8 222.63h2.6v1h-2.6zM368.79 220.89h1.6v2.42h-1.6zM368.29 220.49h2.6v1h-2.6zM368.29 222.72h2.6v1h-2.6zM370.27 220.73h1.6v2.42h-1.6zM369.77 220.33h2.6v1h-2.6zM369.77 222.55h2.6v1h-2.6zM371.75 220.65h1.6v2.48h-1.6zM371.25 220.25h2.6v1h-2.6zM371.25 222.52h2.6v1h-2.6zM373.23 220.87h1.6v2.31h-1.6zM372.73 220.47h2.6v1h-2.6zM372.73 222.58h2.6v1h-2.6zM374.72 220.74h1.6v2.45h-1.6zM374.22 220.34h2.6v1h-2.6zM374.22 222.59h2.6v1h-2.6zM376.2 220.68h1.6v2.37h-1.6zM375.7 220.28h2.6v1h-2.6zM375.7 222.45h2.6v1h-2.6zM377.87 221.21h1.6v2.52h-1.6zM377.37 220.81h2.6v1h-2.6zM377.37 223.12h2.6v1h-2.6zM379.53 221.34h1.6v2.89h-1.6zM379.03 220.94h2.6v1h-2.6zM379.03 223.63h2.6v1h-2.6zM381.2 221.36h1.6v3.13h-1.6zM380.7 220.96h2.6v1h-2.6zM380.7 223.9h2.6v1h-2.6zM382.7 221.89h1.6v4.12h-1.6zM382.2 221.49h2.6v1h-2.6zM382.2 225.42h2.6v1h-2.6zM384.2 222.65h1.6v4.9h-1.6zM383.7 222.25h2.6v1h-2.6zM383.7 226.95h2.6v1h-2.6zM385.7 223.15h1.6v5.9h-1.6zM385.2 222.75h2.6v1h-2.6zM385.2 228.45h2.6v1h-2.6zM407.2 220.31h1.6v2.06h-1.6zM406.7 219.91h2.6v1h-2.6zM406.7 221.77h2.6v1h-2.6zM408.75 220.44h1.6v2.1h-1.6zM408.25 220.04h2.6v1h-2.6zM408.25 221.94h2.6v1h-2.6zM410.29 220.18h1.6v2.2h-1.6zM409.79 219.78h2.6v1h-2.6zM409.79 221.78h2.6v1h-2.6zM411.84 220.39h1.6v1.75h-1.6zM411.34 219.99h2.6v1h-2.6zM411.34 221.54h2.6v1h-2.6zM413.38 220.3h1.6v1.96h-1.6zM412.88 219.9h2.6v1h-2.6zM412.88 221.66h2.6v1h-2.6zM414.93 220.02h1.6v2.19h-1.6zM414.43 219.62h2.6v1h-2.6zM414.43 221.6h2.6v1h-2.6zM416.47 220.03h1.6v2h-1.6zM415.97 219.63h2.6v1h-2.6zM415.97 221.43h2.6v1h-2.6zM418.02 220.13h1.6v1.7h-1.6zM417.52 219.73h2.6v1h-2.6zM417.52 221.24h2.6v1h-2.6zM419.56 219.99h1.6v1.9h-1.6zM419.06 219.59h2.6v1h-2.6zM419.06 221.29h2.6v1h-2.6zM421.11 219.98h1.6v1.92h-1.6zM420.61 219.58h2.6v1h-2.6zM420.61 221.31h2.6v1h-2.6zM422.65 219.85h1.6v1.83h-1.6zM422.15 219.45h2.6v1h-2.6zM422.15 221.08h2.6v1h-2.6zM424.2 219.73h1.6v1.9h-1.6zM423.7 219.33h2.6v1h-2.6zM423.7 221.03h2.6v1h-2.6zM425.74 219.84h1.6v1.59h-1.6zM425.24 219.44h2.6v1h-2.6zM425.24 220.83h2.6v1h-2.6zM427.28 219.92h1.6v1.43h-1.6zM426.78 219.52h2.6v1h-2.6zM426.78 220.75h2.6v1h-2.6zM428.82 219.71h1.6v1.62h-1.6zM428.32 219.31h2.6v1h-2.6zM428.32 220.73h2.6v1h-2.6zM430.35 219.53h1.6v1.97h-1.6zM429.85 219.13h2.6v1h-2.6zM429.85 220.9h2.6v1h-2.6zM431.89 219.79h1.6v1.52h-1.6zM431.39 219.39h2.6v1h-2.6zM431.39 220.7h2.6v1h-2.6zM433.43 219.72h1.6v1.56h-1.6zM432.93 219.32h2.6v1h-2.6zM432.93 220.68h2.6v1h-2.6zM434.97 219.58h1.6v1.62h-1.6zM434.47 219.18h2.6v1h-2.6zM434.47 220.6h2.6v1h-2.6zM436.51 219.73h1.6v1.58h-1.6zM436.01 219.33h2.6v1h-2.6zM436.01 220.71h2.6v1h-2.6zM438.05 219.52h1.6v1.57h-1.6zM437.55 219.12h2.6v1h-2.6zM437.55 220.5h2.6v1h-2.6zM439.58 219.52h1.6v1.44h-1.6zM439.08 219.12h2.6v1h-2.6zM439.08 220.35h2.6v1h-2.6zM441.12 219.48h1.6v1.51h-1.6zM440.62 219.08h2.6v1h-2.6zM440.62 220.39h2.6v1h-2.6zM442.66 219.67h1.6v1.42h-1.6zM442.16 219.27h2.6v1h-2.6zM442.16 220.48h2.6v1h-2.6zM444.2 219.66h1.6v1.28h-1.6zM443.7 219.26h2.6v1h-2.6zM443.7 220.34h2.6v1h-2.6zM445.72 219.36h1.6v1.64h-1.6zM445.22 218.96h2.6v1h-2.6zM445.22 220.4h2.6v1h-2.6zM447.25 219.46h1.6v1.55h-1.6zM446.75 219.06h2.6v1h-2.6zM446.75 220.41h2.6v1h-2.6zM448.77 219.53h1.6v1.54h-1.6zM448.27 219.13h2.6v1h-2.6zM448.27 220.47h2.6v1h-2.6zM450.29 219.5h1.6v1.7h-1.6zM449.79 219.1h2.6v1h-2.6zM449.79 220.6h2.6v1h-2.6zM451.81 219.46h1.6v1.71h-1.6zM451.31 219.06h2.6v1h-2.6zM451.31 220.57h2.6v1h-2.6zM453.34 219.44h1.6v1.76h-1.6zM452.84 219.04h2.6v1h-2.6zM452.84 220.6h2.6v1h-2.6zM454.86 219.62h1.6v1.53h-1.6zM454.36 219.22h2.6v1h-2.6zM454.36 220.56h2.6v1h-2.6zM456.38 219.63h1.6v1.56h-1.6zM455.88 219.23h2.6v1h-2.6zM455.88 220.59h2.6v1h-2.6zM457.9 219.51h1.6v1.89h-1.6zM457.4 219.11h2.6v1h-2.6zM457.4 220.8h2.6v1h-2.6zM459.43 219.5h1.6v1.94h-1.6zM458.93 219.1h2.6v1h-2.6zM458.93 220.84h2.6v1h-2.6zM460.95 219.51h1.6v1.85h-1.6zM460.45 219.11h2.6v1h-2.6zM460.45 220.76h2.6v1h-2.6zM462.47 219.66h1.6v1.75h-1.6zM461.97 219.26h2.6v1h-2.6zM461.97 220.81h2.6v1h-2.6zM464 219.7h1.6v1.59h-1.6zM463.5 219.3h2.6v1h-2.6zM463.5 220.7h2.6v1h-2.6zM465.52 219.72h1.6v1.6h-1.6zM465.02 219.32h2.6v1h-2.6zM465.02 220.73h2.6v1h-2.6zM467.04 219.56h1.6v1.94h-1.6zM466.54 219.16h2.6v1h-2.6zM466.54 220.89h2.6v1h-2.6zM468.56 219.74h1.6v1.89h-1.6zM468.06 219.34h2.6v1h-2.6zM468.06 221.03h2.6v1h-2.6zM470.09 219.6h1.6v2.17h-1.6zM469.59 219.2h2.6v1h-2.6zM469.59 221.17h2.6v1h-2.6zM471.61 219.61h1.6v2.15h-1.6zM471.11 219.21h2.6v1h-2.6zM471.11 221.15h2.6v1h-2.6zM473.13 219.64h1.6v2.19h-1.6zM472.63 219.24h2.6v1h-2.6zM472.63 221.24h2.6v1h-2.6zM474.65 219.87h1.6v1.72h-1.6zM474.15 219.47h2.6v1h-2.6zM474.15 220.99h2.6v1h-2.6zM476.18 219.63h1.6v2.04h-1.6zM475.68 219.23h2.6v1h-2.6zM475.68 221.07h2.6v1h-2.6zM477.7 219.63h1.6v2.2h-1.6zM477.2 219.23h2.6v1h-2.6zM477.2 221.23h2.6v1h-2.6zM20.7 219h3v1.8h-3zM35.1 219.6h3.6v1.8h-3.6zM46.5 219h3v1.8h-3zM53.1 219h6v1.2h-6zM64.5 219.6h2.4v0.8h-2.4z" fill="#1e9a28"/>
<path d="M21 220.1h2.4v1h-2.4zM35.4 220.7h3v1h-3zM46.8 220.1h2.4v1h-2.4zM53.4 219.5h5.4v1h-5.4zM64.8 219.7h1.8v1h-1.8z" fill="#0a2a0a"/>
<path d="M26 219.3h2.6v1.2h-2.6zM60.8 219h1.4v1.2h-1.4zM68.6 217.2h1.4v1.2h-1.4z" fill="#1a3a1a"/>
<path d="M51.8,217.6 L53,215.6 L54.2,217.6" fill="none" stroke="#111" stroke-width="0.9"/>
<polyline points="82.5,213.4 83.75,212.93 85,212.06 86.67,211.92 88.33,211.45 90,211.05 91.67,211.5 93.33,211.7 95,212.24 96.5,212.88 98,213.82 99.6,213.72 101.2,213.8 102.8,213.6 104.4,213.7 106,213.71 108,211.91 109.33,211.95 110.67,211.76 112,211.64 113.67,212.1 115.33,212.14 117,212.54 118.5,213.4 120,214.19 121.5,214.52 123,214.3 124.5,214.65 126,214.77 127.44,214.74 128.89,214.58 130.33,214.46 131.78,214.33 133.22,214.3 134.67,214.12 136.11,214.13 137.56,213.93 139,214.08 140.5,209.36 142,209.23 143.5,209.31 145,209.21 146.85,211.46 148.7,213.74 150.18,213.81 151.67,213.76 153.15,213.95 154.64,213.78 156.12,213.74 157.61,213.67 159.09,213.93 160.58,213.96 162.06,214 163.55,213.66 165.03,213.8 166.52,213.85 168,214 169.5,214.04 171,214.43 172.5,214.76 174,214.78 175.48,214.8 176.96,215.09 178.44,214.74 179.93,214.73 181.41,214.89 182.89,215 184.37,214.98 185.85,214.81 187.33,214.71 188.81,214.8 190.3,214.68 191.78,215.04 193.26,214.75 194.74,214.99 196.22,214.97 197.7,215.02 199.19,214.73 200.67,214.72 202.15,214.82 203.63,214.7 205.11,215.01 206.59,214.66 208.07,214.78 209.56,214.94 211.04,214.68 212.52,214.62 214,214.66 215.5,213.76 217,212.88 218.43,212.76 219.85,212.85 221.27,213.08 222.7,212.88 223.85,214 225,215.25 226.5,215.25 228,215.43 229.5,215.59 231,215.57 232.5,215.43 234,215.59 235.5,215.74 237,215.7 238.5,215.73 240,215.81" fill="none" stroke="#005a00" stroke-width="2.4"/>
<polyline points="305,222.11 306.44,221.85 307.88,222.07 309.32,221.97 310.77,221.9 312.21,222.05 313.65,222.17 315.09,221.82 316.53,221.88 317.98,221.82 319.42,221.87 320.86,222.09 322.3,222.07" fill="none" stroke="#005a00" stroke-width="2.4"/>
<polyline points="334,222.13 335.48,221.82 336.97,221.82 338.45,222.12 339.93,222.1 341.41,221.96 342.9,221.91 344.38,221.97 345.86,222.1 347.34,221.98 348.83,221.97 350.31,221.85 351.79,222.08 353.28,222.02 354.76,222.02 356.24,221.94 357.72,221.92 359.21,222.07 360.69,222.01 362.17,221.94 363.66,221.86 365.14,222.13 366.62,221.87 368.1,221.98 369.59,221.85 371.07,221.88 372.55,221.88 374.03,221.85 375.52,221.95 377,221.8 378.67,222.17 380.33,222.69 382,222.97 383.5,223.8 385,225.05 386.5,225.9" fill="none" stroke="#005a00" stroke-width="2.4"/>
<polyline points="408,221.21 409.55,221.25 411.09,221.41 412.64,221.32 414.18,221.08 415.73,221.01 417.27,220.97 418.82,220.77 420.36,221.02 421.91,221.01 423.45,220.63 425,220.53 426.54,220.64 428.08,220.44 429.62,220.67 431.15,220.69 432.69,220.42 434.23,220.44 435.77,220.5 437.31,220.26 438.85,220.38 440.38,220.15 441.92,220.47 443.46,220.43 445,220.32 446.52,220.27 448.05,220.44 449.57,220.2 451.09,220.12 452.61,220.32 454.14,220.31 455.66,220.4 457.18,220.26 458.7,220.46 460.23,220.37 461.75,220.4 463.27,220.42 464.8,220.56 466.32,220.55 467.84,220.75 469.36,220.74 470.89,220.75 472.41,220.65 473.93,220.74 475.45,220.86 476.98,220.72 478.5,220.69" fill="none" stroke="#005a00" stroke-width="2.4"/>
<polyline points="82.5,213.4 83.75,212.93 85,212.06 86.67,211.92 88.33,211.45 90,211.05 91.67,211.5 93.33,211.7 95,212.24 96.5,212.88 98,213.82 99.6,213.72 101.2,213.8 102.8,213.6 104.4,213.7 106,213.71 108,211.91 109.33,211.95 110.67,211.76 112,211.64 113.67,212.1 115.33,212.14 117,212.54 118.5,213.4 120,214.19 121.5,214.52 123,214.3 124.5,214.65 126,214.77 127.44,214.74 128.89,214.58 130.33,214.46 131.78,214.33 133.22,214.3 134.67,214.12 136.11,214.13 137.56,213.93 139,214.08 140.5,209.36 142,209.23 143.5,209.31 145,209.21 146.85,211.46 148.7,213.74 150.18,213.81 151.67,213.76 153.15,213.95 154.64,213.78 156.12,213.74 157.61,213.67 159.09,213.93 160.58,213.96 162.06,214 163.55,213.66 165.03,213.8 166.52,213.85 168,214 169.5,214.04 171,214.43 172.5,214.76 174,214.78 175.48,214.8 176.96,215.09 178.44,214.74 179.93,214.73 181.41,214.89 182.89,215 184.37,214.98 185.85,214.81 187.33,214.71 188.81,214.8 190.3,214.68 191.78,215.04 193.26,214.75 194.74,214.99 196.22,214.97 197.7,215.02 199.19,214.73 200.67,214.72 202.15,214.82 203.63,214.7 205.11,215.01 206.59,214.66 208.07,214.78 209.56,214.94 211.04,214.68 212.52,214.62 214,214.66 215.5,213.76 217,212.88 218.43,212.76 219.85,212.85 221.27,213.08 222.7,212.88 223.85,214 225,215.25 226.5,215.25 228,215.43 229.5,215.59 231,215.57 232.5,215.43 234,215.59 235.5,215.74 237,215.7 238.5,215.73 240,215.81" fill="none" stroke="#0a200a" stroke-width="0.9"/>
<polyline points="305,222.11 306.44,221.85 307.88,222.07 309.32,221.97 310.77,221.9 312.21,222.05 313.65,222.17 315.09,221.82 316.53,221.88 317.98,221.82 319.42,221.87 320.86,222.09 322.3,222.07" fill="none" stroke="#0a200a" stroke-width="0.9"/>
<polyline points="334,222.13 335.48,221.82 336.97,221.82 338.45,222.12 339.93,222.1 341.41,221.96 342.9,221.91 344.38,221.97 345.86,222.1 347.34,221.98 348.83,221.97 350.31,221.85 351.79,222.08 353.28,222.02 354.76,222.02 356.24,221.94 357.72,221.92 359.21,222.07 360.69,222.01 362.17,221.94 363.66,221.86 365.14,222.13 366.62,221.87 368.1,221.98 369.59,221.85 371.07,221.88 372.55,221.88 374.03,221.85 375.52,221.95 377,221.8 378.67,222.17 380.33,222.69 382,222.97 383.5,223.8 385,225.05 386.5,225.9" fill="none" stroke="#0a200a" stroke-width="0.9"/>
<polyline points="408,221.21 409.55,221.25 411.09,221.41 412.64,221.32 414.18,221.08 415.73,221.01 417.27,220.97 418.82,220.77 420.36,221.02 421.91,221.01 423.45,220.63 425,220.53 426.54,220.64 428.08,220.44 429.62,220.67 431.15,220.69 432.69,220.42 434.23,220.44 435.77,220.5 437.31,220.26 438.85,220.38 440.38,220.15 441.92,220.47 443.46,220.43 445,220.32 446.52,220.27 448.05,220.44 449.57,220.2 451.09,220.12 452.61,220.32 454.14,220.31 455.66,220.4 457.18,220.26 458.7,220.46 460.23,220.37 461.75,220.4 463.27,220.42 464.8,220.56 466.32,220.55 467.84,220.75 469.36,220.74 470.89,220.75 472.41,220.65 473.93,220.74 475.45,220.86 476.98,220.72 478.5,220.69" fill="none" stroke="#0a200a" stroke-width="0.9"/>
<polyline points="70,217.92 72,215.45 73.75,215.21 75.5,215.55 76.9,214.97 78.3,213.91 79.7,213.72 81.5,209.71 83,205.14 84.2,203.76 85.4,202.19 86.7,201.99 88,201.5 89.15,199.18 90.3,196.96 91.5,192.13 93,193.23 94.5,200.79 95.75,201.92 97,202.49 99,202.4 100.5,206.71 102.25,206.86 104,207.5 105.25,204.73 106.5,202.68 108.6,197.94 110.2,193.74 111.5,194.81 113,199 114.33,198.83 115.67,199.16 117,198.9 119,198.72 120.5,200.79 122,203.55 123.4,205.25 124.8,206.37 126,209.28 127.5,209.51 129,209.64 130.5,210.02 132,209.75 133.5,210.31 135,210.06 136.5,210.19 138,210.44 140.2,208 142,204.77 143.68,205.28 145.35,205.3 147.02,205.2 148.7,205.68 150,206.11 151.67,205.55 153.33,205.28 155,205.08 156.67,205.14 158.33,205.45 160,205.6 161.5,204.74 163,204.03 164.5,203.58 166,202.65 167.2,204.81 168.4,207.01 170,208.81 171.5,209.17 173,208.91 174.5,208.94 176,208.95 178,209.35 179.33,209.95 180.67,210.03 182,209.76 183.33,210.25 184.67,210.16 186,210.59 187.33,209.98 188.67,209.26 190,209.22 192,206.84 194,209.68 195.67,210 197.33,210.29 199,210.41 200.5,209.97 202,210.18 203.33,210.42 204.67,210.96 206,210.74 207.33,211.18 208.67,211.26 210,211.25 211.4,211.11 212.8,211.22 214.2,211.02 215.35,208.74 216.5,205.83 218.5,201.22 220.5,201.99 222,207.73 223.75,208.98 225.5,210.72 226.75,211.79 228,212.59 229.5,212.62 231,212.81 233,211.25 235,214.58 236.48,214.47 237.96,214.79 239.44,214.63 240.92,214.61 242.4,214.8" fill="none" stroke="#111" stroke-width="1.6" stroke-dasharray="3 1.6"/>
<polyline points="245,216.5 246.57,216.13 248.14,216.34 249.71,216.03 251.29,216.4 252.86,216.1 254.43,216.53 256,216.76 257.5,216.46 259,216.37 260.5,216.1 262,215.8 263.5,216.39 265,216.46 266.5,216.22 268,216.38" fill="none" stroke="#111" stroke-width="1.6" stroke-dasharray="3 1.6"/>
<polyline points="269,219.78 270.6,219.21 272.2,219.55 273.8,219.19 275.4,219.78 277,219.44" fill="none" stroke="#111" stroke-width="1.6" stroke-dasharray="3 1.6"/>
<polyline points="284,219.22 285.6,219.08 287.2,219.7 288.8,219.16 290.4,219.24 292,219.11" fill="none" stroke="#111" stroke-width="1.6" stroke-dasharray="3 1.6"/>
<polyline points="292.8,215.23 295,215.08" fill="none" stroke="#111" stroke-width="1.6" stroke-dasharray="3 1.6"/>
<polyline points="296,219.68 297.6,219.66 299.2,219.74" fill="none" stroke="#111" stroke-width="1.6" stroke-dasharray="3 1.6"/>
<polyline points="300.8,219.64 302.4,220.11 304,219.92" fill="none" stroke="#111" stroke-width="1.5" stroke-dasharray="4 0.6"/>
<polyline points="305,225.51 306.44,225.31 307.88,225.35 309.32,225.68 310.77,225.27 312.21,225.53 313.65,225.47 315.09,225.46 316.53,225.65 317.98,225.47 319.42,225.26 320.86,225.35 322.3,225.65" fill="none" stroke="#111" stroke-width="1.5" stroke-dasharray="4 0.6"/>
<polyline points="324.5,220.4 326,220.06 327.5,220.32 329,219.93" fill="none" stroke="#111" stroke-width="1.5" stroke-dasharray="4 0.6"/>
<polyline points="334,225.21 335.48,225.23 336.97,225.38 338.45,225.56 339.93,225.14 341.41,225.23 342.9,225.65 344.38,225.46 345.86,225.2 347.34,225.44 348.83,225.18 350.31,225.32 351.79,225.58 353.28,225.3 354.76,225.1 356.24,225.39 357.72,225.58 359.21,225.57 360.69,225.24 362.17,225.2 363.66,225.44 365.14,225.69 366.62,225.46 368.1,225.69 369.59,225.49 371.07,225.33 372.55,225.7 374.03,225.1 375.52,225.66 377,225.11 378.5,226.04 380,226.27 381.62,226.99 383.25,227.42 384.88,227.47 386.5,227.79" fill="none" stroke="#111" stroke-width="1.5" stroke-dasharray="4 0.6"/>
<polyline points="387.8,219.91 389.5,219.1" fill="none" stroke="#111" stroke-width="1.5" stroke-dasharray="4 0.6"/>
<polyline points="390.5,216.32 392,216.85 393.5,216.44 395,216.88" fill="none" stroke="#111" stroke-width="1.5" stroke-dasharray="4 0.6"/>
<polyline points="393.6,220.61 395.3,220.17 397,220.54 398.7,220.64" fill="none" stroke="#111" stroke-width="1.5" stroke-dasharray="4 0.6"/>
<polyline points="394,222.98 396,223.09" fill="none" stroke="#111" stroke-width="1.5" stroke-dasharray="4 0.6"/>
<polyline points="400.8,217.48 402.35,217.91 403.9,217.71" fill="none" stroke="#111" stroke-width="1.5" stroke-dasharray="4 0.6"/>
<polyline points="405,219.66 406.25,219.71 407.5,220.07" fill="none" stroke="#111" stroke-width="1.5" stroke-dasharray="4 0.6"/>
<polyline points="408,226.05 409.5,225.61 411,225.87 412.5,225.29 414,225.35 415.5,225.31 417,225.22 418.5,225.17 420,225.37 421.5,224.89 423,225.05 424.5,224.35 426,224.54 427.5,224.07 429,223.95 430.5,223.71 432,223.3 433.5,223.28 435,223.18 436.5,223.51 438,223.7 439.5,223.64 441,223.22 442.5,223.5 444,223.52 445.5,223.32 447,223.34 448.5,223.24 450,223.19 451.5,223.64 453,224 454.5,223.65 456,223.88 457.5,223.92 459,224.05 460.5,224.2 462,224.47 463.5,224.69 465,224.98 466.5,224.78 468,225.17 469.5,225.29 471,225.45 472.5,225.19 474,225.35 475.5,225.43 477,225.81 478.5,225.69" fill="none" stroke="#111" stroke-width="1.5" stroke-dasharray="4 0.6"/>
<path d="M139.2 193.13h1.6v1.2h-1.6zM140.95 192.76h1.6v1.2h-1.6zM142.7 192.93h1.6v1.2h-1.6z" fill="#111"/>
</g>
<circle cx="26.4" cy="8.1" r="1.8" fill="#ff4800"/>
<text x="30.6" y="10.6" font-family="Liberation Serif" font-size="8" fill="#111">S1</text>
<circle cx="43.5" cy="8.1" r="1.8" fill="#000080"/>
<text x="47.3" y="10.6" font-family="Liberation Serif" font-size="8" fill="#111">S2</text>
<circle cx="60.5" cy="8.1" r="1.8" fill="#a6d6e6"/>
<text x="64.3" y="10.6" font-family="Liberation Serif" font-size="8" fill="#111">S3</text>
<circle cx="76.8" cy="8.1" r="1.8" fill="#ffa500"/>
<text x="79.3" y="10.6" font-family="Liberation Serif" font-size="8" fill="#111">S4</text>
<circle cx="26.8" cy="65.8" r="1.8" fill="#ff4800"/>
<text x="31.0" y="68.3" font-family="Liberation Serif" font-size="8" fill="#111">AOD above cloud</text>
<circle cx="93.4" cy="65.8" r="1.8" fill="#ffa500"/>
<text x="97.2" y="68.3" font-family="Liberation Serif" font-size="8" fill="#111">total column AOD (CALIOP)</text>
<circle cx="26.7" cy="123.0" r="1.8" fill="#000080"/>
<text x="30.6" y="125.5" font-family="Liberation Serif" font-size="8" fill="#111">COT</text>
<circle cx="52.4" cy="123.0" r="1.8" fill="#add8e6"/>
<text x="55.3" y="125.5" font-family="Liberation Serif" font-size="8" fill="#111">CER</text>
<circle cx="75.7" cy="123.0" r="1.8" fill="#f800f8"/>
<text x="78.6" y="125.5" font-family="Liberation Serif" font-size="8" fill="#111">CWP (MODIS)</text>
<circle cx="26.4" cy="179.7" r="1.8" fill="#12a243"/><text x="31.0" y="182.2" font-family="Liberation Serif" font-size="8" fill="#111">24h</text>
<circle cx="48.2" cy="179.7" r="1.8" fill="#90ee90"/><text x="51.8" y="182.2" font-family="Liberation Serif" font-size="8" fill="#111">Instantaneous DARE_obs (W.m<tspan font-size="5.5" dy="-3">-2</tspan><tspan dy="3">)</tspan></text>
<text transform="translate(28.7,27.3) scale(1,1.2)" font-family="Liberation Serif" font-size="8" fill="#4a4a4a">(a)</text>
<text transform="translate(30.2,84.8) scale(1,1.2)" font-family="Liberation Serif" font-size="8" fill="#4a4a4a">(b)</text>
<text transform="translate(30.2,142.7) scale(1,1.2)" font-family="Liberation Serif" font-size="8" fill="#4a4a4a">(c)</text>
<text transform="translate(30.2,200) scale(1,1.2)" font-family="Liberation Serif" font-size="8" fill="#4a4a4a">(d)</text>
<text transform="translate(18,91.9) scale(1,1.2)" font-family="Liberation Sans" font-size="8" fill="#111" text-anchor="end">0.5</text>
<text transform="translate(18,119.4) scale(1,1.2)" font-family="Liberation Sans" font-size="8" fill="#111" text-anchor="end">0</text>
<text transform="translate(18,147.95) scale(1,1.2)" font-family="Liberation Sans" font-size="8" fill="#111" text-anchor="end">50</text>
<text transform="translate(18,177.25) scale(1,1.2)" font-family="Liberation Sans" font-size="8" fill="#111" text-anchor="end">0</text>
<text transform="translate(18,197.91) scale(1,1.2)" font-family="Liberation Sans" font-size="8" fill="#111" text-anchor="end">100</text>
<text transform="translate(18,210.09) scale(1,1.2)" font-family="Liberation Sans" font-size="8" fill="#111" text-anchor="end">50</text>
<text transform="translate(18,222.27) scale(1,1.2)" font-family="Liberation Sans" font-size="8" fill="#111" text-anchor="end">0</text>
<text transform="translate(18,234.45) scale(1,1.2)" font-family="Liberation Sans" font-size="8" fill="#111" text-anchor="end">-50</text>
<line x1="478.45" y1="130.3" x2="478.45" y2="174.25" stroke="#ee66ee" stroke-width="0.8"/>
<line x1="475.45" y1="174.25" x2="478.45" y2="174.25" stroke="#ee66ee" stroke-width="0.8"/>
<text transform="translate(481,177.25) scale(1,1.2)" font-family="Liberation Sans" font-size="8" fill="#e23ae2">0</text>
<line x1="475.45" y1="154.72" x2="478.45" y2="154.72" stroke="#ee66ee" stroke-width="0.8"/>
<text transform="translate(481,157.72) scale(1,1.2)" font-family="Liberation Sans" font-size="8" fill="#e23ae2">200</text>
<line x1="475.45" y1="135.18" x2="478.45" y2="135.18" stroke="#ee66ee" stroke-width="0.8"/>
<text transform="translate(481,138.18) scale(1,1.2)" font-family="Liberation Sans" font-size="8" fill="#e23ae2">400</text>
<text transform="translate(20.45,242.3) scale(1,1.2)" font-family="Liberation Sans" font-size="8" fill="#111" text-anchor="middle">-11</text>
<text transform="translate(66.25,242.3) scale(1,1.2)" font-family="Liberation Sans" font-size="8" fill="#111" text-anchor="middle">-10.5</text>
<text transform="translate(112.05,242.3) scale(1,1.2)" font-family="Liberation Sans" font-size="8" fill="#111" text-anchor="middle">-10</text>
<text transform="translate(157.85,242.3) scale(1,1.2)" font-family="Liberation Sans" font-size="8" fill="#111" text-anchor="middle">-9.5</text>
<text transform="translate(203.65,242.3) scale(1,1.2)" font-family="Liberation Sans" font-size="8" fill="#111" text-anchor="middle">-9</text>
<text transform="translate(249.45,242.3) scale(1,1.2)" font-family="Liberation Sans" font-size="8" fill="#111" text-anchor="middle">-8.5</text>
<text transform="translate(295.25,242.3) scale(1,1.2)" font-family="Liberation Sans" font-size="8" fill="#111" text-anchor="middle">-8</text>
<text transform="translate(341.05,242.3) scale(1,1.2)" font-family="Liberation Sans" font-size="8" fill="#111" text-anchor="middle">-7.5</text>
<text transform="translate(386.85,242.3) scale(1,1.2)" font-family="Liberation Sans" font-size="8" fill="#111" text-anchor="middle">-7</text>
<text transform="translate(432.65,242.3) scale(1,1.2)" font-family="Liberation Sans" font-size="8" fill="#111" text-anchor="middle">-6.5</text>
<text transform="translate(478.45,242.3) scale(1,1.2)" font-family="Liberation Sans" font-size="8" fill="#111" text-anchor="middle">-6</text>
<text transform="translate(248.6,254.4) scale(1,1.08)" font-family="Liberation Sans" font-size="10.45" fill="#1a1a1a" text-anchor="middle">Latitude on 2017-08-13T13-11-26, ORACLES</text>
</svg>
</body></html>
